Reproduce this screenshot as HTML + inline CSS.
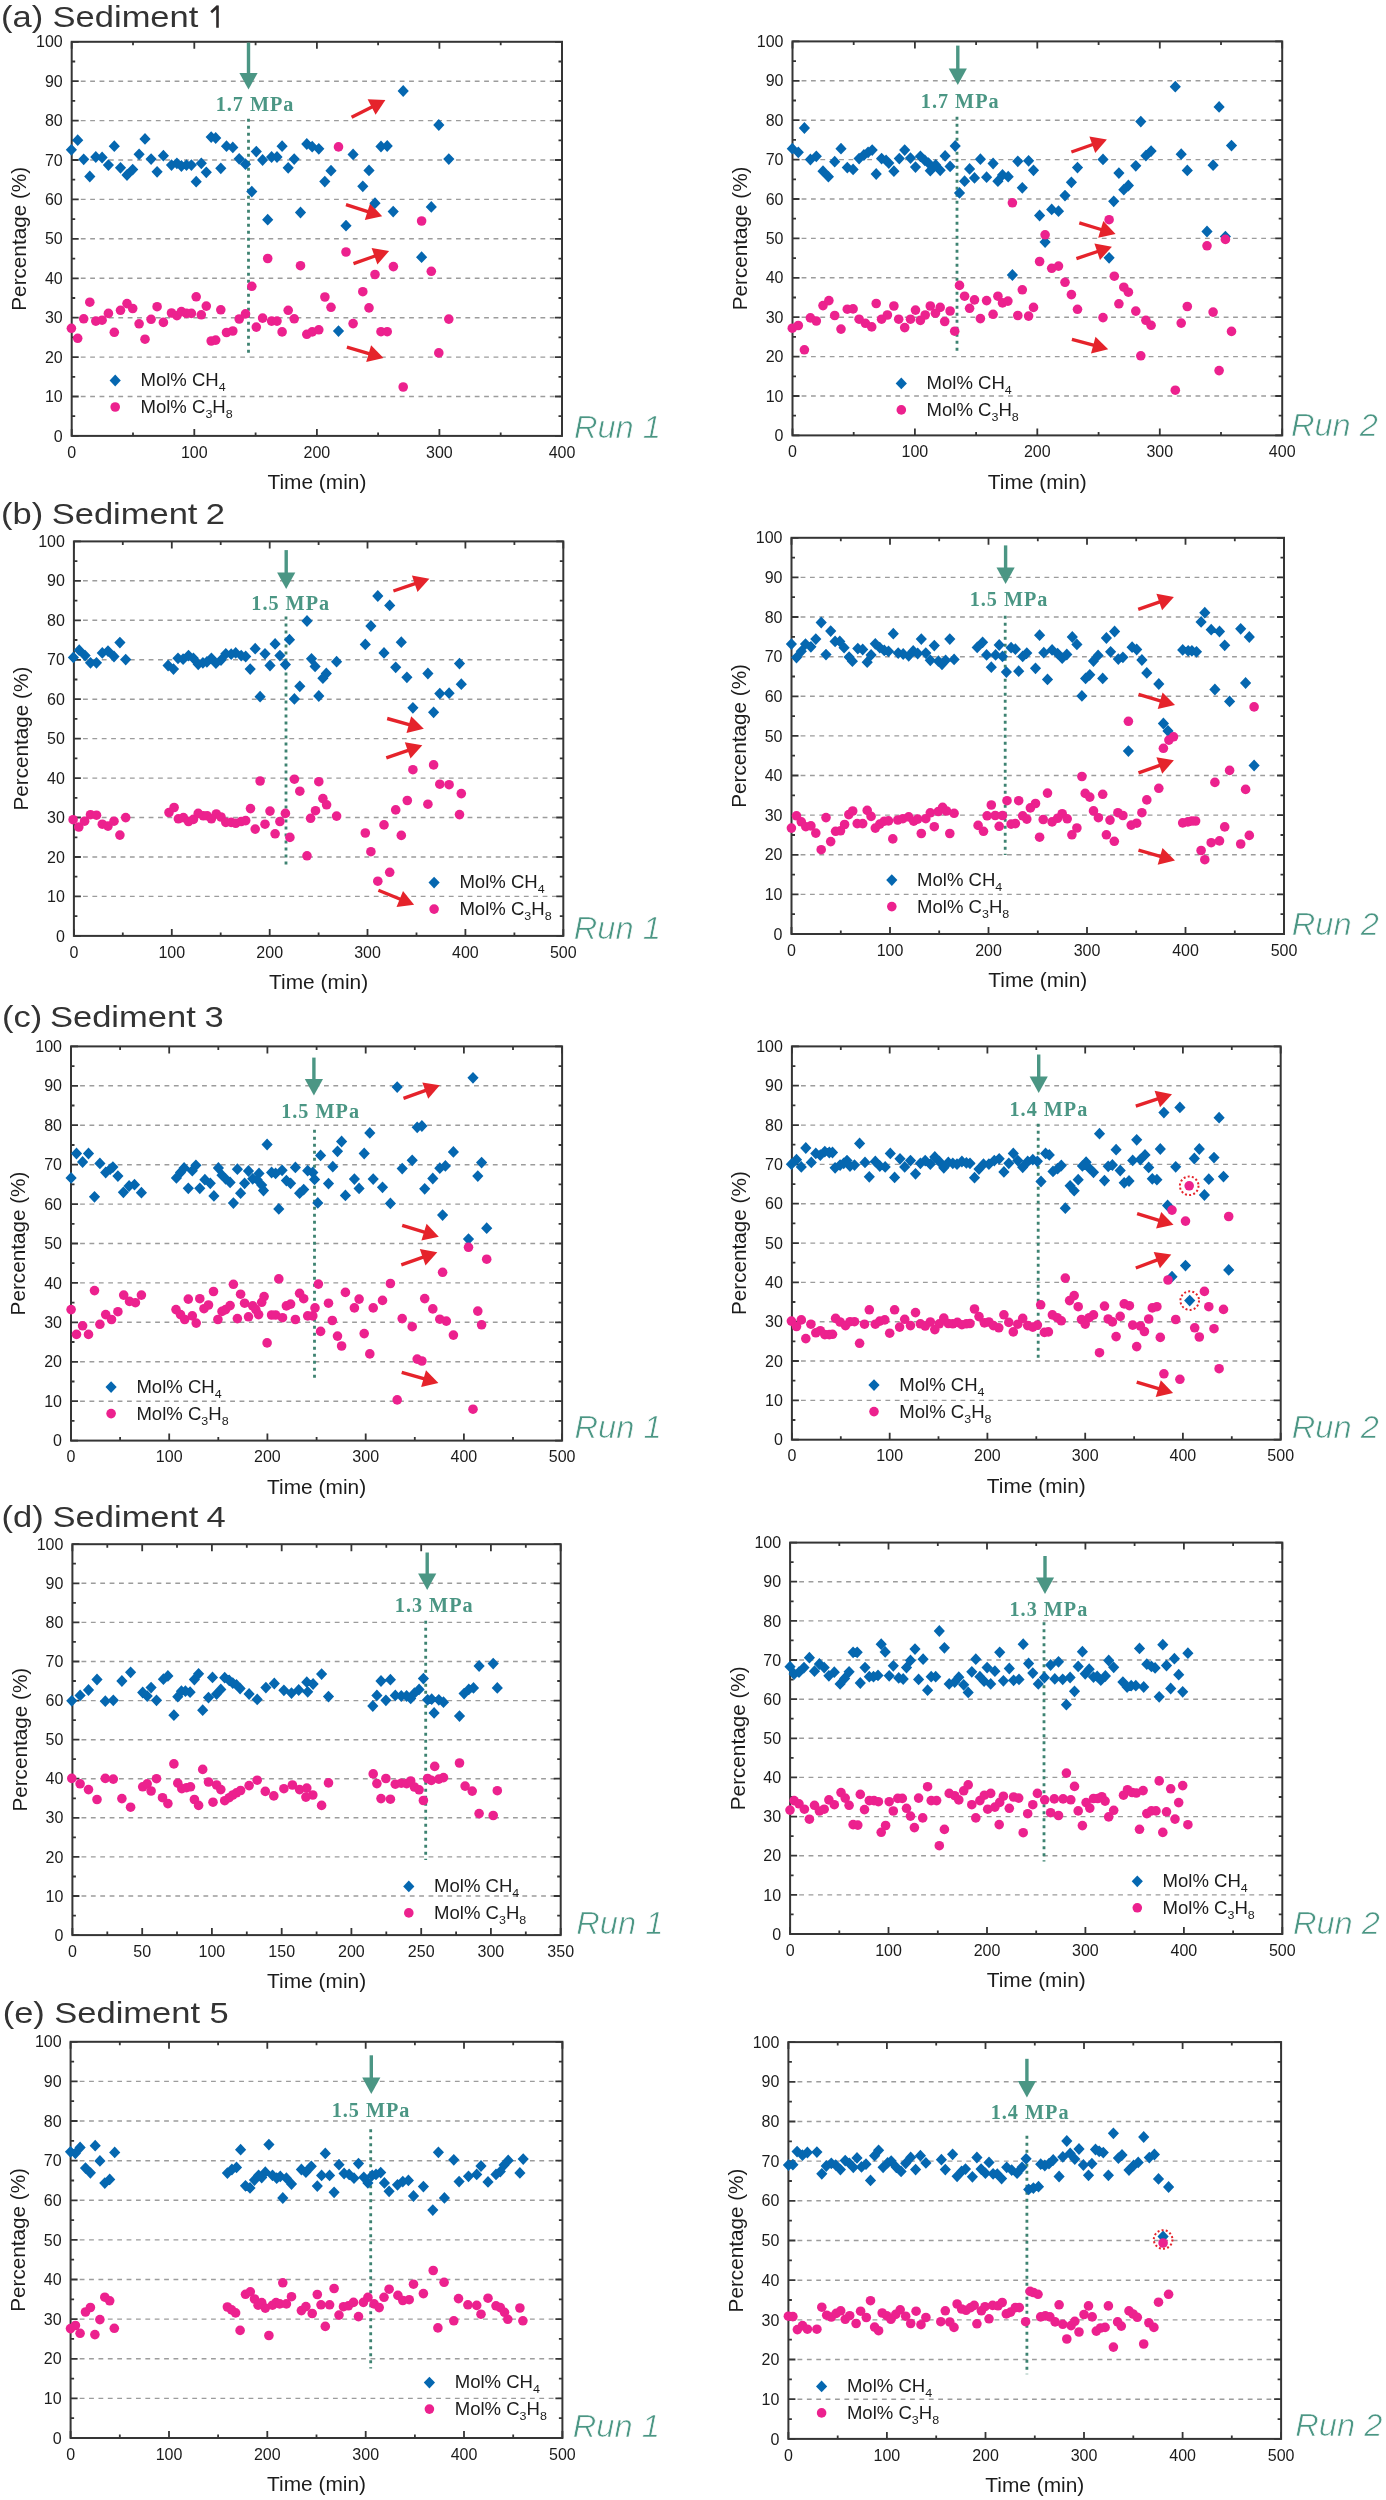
<!DOCTYPE html>
<html><head><meta charset="utf-8"><title>Sediment gas composition</title>
<style>
html,body{margin:0;padding:0;background:#fff;}
body{width:1386px;height:2500px;overflow:hidden;}
svg{display:block;filter:blur(0.45px);}
text{font-family:"Liberation Sans",sans-serif;fill:#1c1c1c;}
.tk{font-size:16px;}
.ax{font-size:20px;}
.lg{font-size:17.5px;}
.sb{font-size:11.8px;}
.run{font-style:italic;font-size:32px;fill:#4b9684;stroke:#fff;stroke-width:0.7px;}
.mpa{font-family:"Liberation Serif",serif;font-weight:bold;font-size:20.2px;fill:#4b9684;letter-spacing:1px;}
.tt{font-size:29px;fill:#333;}
</style></head>
<body><svg width="1386" height="2500" viewBox="0 0 1386 2500">
<rect width="1386" height="2500" fill="#fff"/>
<path d="M80.8 396.5H560M80.8 357.1H560M80.8 317.7H560M80.8 278.3H560M80.8 238.8H560M80.8 199.4H560M80.8 160H560M80.8 120.6H560M80.8 81.2H560" stroke="#9c9c9c" stroke-width="1.4" stroke-dasharray="4.8 4.58" fill="none"/>
<path d="M71.7 435.9h7M562 435.9h-7M71.7 416.2h3.5M562 416.2h-3.5M71.7 396.5h7M562 396.5h-7M71.7 376.8h3.5M562 376.8h-3.5M71.7 357.1h7M562 357.1h-7M71.7 337.4h3.5M562 337.4h-3.5M71.7 317.7h7M562 317.7h-7M71.7 298h3.5M562 298h-3.5M71.7 278.3h7M562 278.3h-7M71.7 258.6h3.5M562 258.6h-3.5M71.7 238.8h7M562 238.8h-7M71.7 219.1h3.5M562 219.1h-3.5M71.7 199.4h7M562 199.4h-7M71.7 179.7h3.5M562 179.7h-3.5M71.7 160h7M562 160h-7M71.7 140.3h3.5M562 140.3h-3.5M71.7 120.6h7M562 120.6h-7M71.7 100.9h3.5M562 100.9h-3.5M71.7 81.2h7M562 81.2h-7M71.7 61.5h3.5M562 61.5h-3.5M71.7 41.8h7M562 41.8h-7M71.7 435.9v-7M71.7 41.8v7M133 435.9v-3.5M133 41.8v3.5M194.3 435.9v-7M194.3 41.8v7M255.6 435.9v-3.5M255.6 41.8v3.5M316.9 435.9v-7M316.9 41.8v7M378.1 435.9v-3.5M378.1 41.8v3.5M439.4 435.9v-7M439.4 41.8v7M500.7 435.9v-3.5M500.7 41.8v3.5M562 435.9v-7M562 41.8v7" stroke="#353535" stroke-width="1.8" fill="none"/>
<rect x="71.7" y="41.8" width="490.3" height="394.1" fill="none" stroke="#353535" stroke-width="2"/>
<text class="tk" text-anchor="end" transform="translate(62.7 441.5)">0</text>
<text class="tk" text-anchor="end" transform="translate(62.7 402.1)">10</text>
<text class="tk" text-anchor="end" transform="translate(62.7 362.7)">20</text>
<text class="tk" text-anchor="end" transform="translate(62.7 323.3)">30</text>
<text class="tk" text-anchor="end" transform="translate(62.7 283.9)">40</text>
<text class="tk" text-anchor="end" transform="translate(62.7 244.4)">50</text>
<text class="tk" text-anchor="end" transform="translate(62.7 205)">60</text>
<text class="tk" text-anchor="end" transform="translate(62.7 165.6)">70</text>
<text class="tk" text-anchor="end" transform="translate(62.7 126.2)">80</text>
<text class="tk" text-anchor="end" transform="translate(62.7 86.8)">90</text>
<text class="tk" text-anchor="end" transform="translate(62.7 47.4)">100</text>
<text class="tk" text-anchor="middle" transform="translate(71.7 457.5)">0</text>
<text class="tk" text-anchor="middle" transform="translate(194.3 457.5)">100</text>
<text class="tk" text-anchor="middle" transform="translate(316.9 457.5)">200</text>
<text class="tk" text-anchor="middle" transform="translate(439.4 457.5)">300</text>
<text class="tk" text-anchor="middle" transform="translate(562 457.5)">400</text>
<text class="ax" text-anchor="middle" transform="translate(26.1 238.8) rotate(-90) scale(1.035 1)">Percentage (%)</text>
<text class="ax" text-anchor="middle" transform="translate(316.9 489) scale(1.045 1)">Time (min)</text>
<text class="run" transform="translate(573.9 437.9) scale(1.020 1)">Run 1</text>
<path d="M248.5 118.8V355" stroke="#3d8271" stroke-width="2.8" stroke-dasharray="3 4" fill="none"/>
<path d="M248.5 42.6V75.4" stroke="#4b9684" stroke-width="3.4" fill="none"/>
<path d="M239.4 72.9L257.6 72.9L248.5 89.4Z" fill="#4b9684"/>
<text class="mpa" text-anchor="middle" transform="translate(255 110.6)">1.7 MPa</text>
<path d="M351.6 117.3L373.4 106.2" stroke="#e5232b" stroke-width="3.4" fill="none"/>
<path d="M385.4 100L375.6 114.8L367.6 99.3Z" fill="#e5232b"/>
<path d="M346 204.7L369.3 212.2" stroke="#e5232b" stroke-width="3.4" fill="none"/>
<path d="M382.2 216.3L364.8 219.9L370.1 203.3Z" fill="#e5232b"/>
<path d="M353.5 263.6L376.4 255.5" stroke="#e5232b" stroke-width="3.4" fill="none"/>
<path d="M389.1 251L377.4 264.4L371.6 248Z" fill="#e5232b"/>
<path d="M346.9 347.1L370.6 354.1" stroke="#e5232b" stroke-width="3.4" fill="none"/>
<path d="M383.5 358L366.2 361.9L371.1 345.2Z" fill="#e5232b"/>
<path d="M71.4 143.9l5.6 5.9l-5.6 5.9l-5.6 -5.9zM77.7 134.3l5.6 5.9l-5.6 5.9l-5.6 -5.9zM83.7 153.4l5.6 5.9l-5.6 5.9l-5.6 -5.9zM89.8 170.6l5.6 5.9l-5.6 5.9l-5.6 -5.9zM95.8 151.1l5.6 5.9l-5.6 5.9l-5.6 -5.9zM102.1 151.6l5.6 5.9l-5.6 5.9l-5.6 -5.9zM108.4 159.2l5.6 5.9l-5.6 5.9l-5.6 -5.9zM114.3 140.3l5.6 5.9l-5.6 5.9l-5.6 -5.9zM120.5 161.9l5.6 5.9l-5.6 5.9l-5.6 -5.9zM127 169.1l5.6 5.9l-5.6 5.9l-5.6 -5.9zM132.7 163.7l5.6 5.9l-5.6 5.9l-5.6 -5.9zM139.1 148.4l5.6 5.9l-5.6 5.9l-5.6 -5.9zM145 133l5.6 5.9l-5.6 5.9l-5.6 -5.9zM151.1 153.2l5.6 5.9l-5.6 5.9l-5.6 -5.9zM157.1 165.9l5.6 5.9l-5.6 5.9l-5.6 -5.9zM163.4 149.8l5.6 5.9l-5.6 5.9l-5.6 -5.9zM171.5 159.2l5.6 5.9l-5.6 5.9l-5.6 -5.9zM176.9 157.4l5.6 5.9l-5.6 5.9l-5.6 -5.9zM181.4 160.1l5.6 5.9l-5.6 5.9l-5.6 -5.9zM186.5 159.2l5.6 5.9l-5.6 5.9l-5.6 -5.9zM191.4 159.2l5.6 5.9l-5.6 5.9l-5.6 -5.9zM196.2 175.8l5.6 5.9l-5.6 5.9l-5.6 -5.9zM201.3 157.4l5.6 5.9l-5.6 5.9l-5.6 -5.9zM206.3 166.4l5.6 5.9l-5.6 5.9l-5.6 -5.9zM211.2 131.2l5.6 5.9l-5.6 5.9l-5.6 -5.9zM215.7 132.1l5.6 5.9l-5.6 5.9l-5.6 -5.9zM220.8 162.4l5.6 5.9l-5.6 5.9l-5.6 -5.9zM226.5 140.3l5.6 5.9l-5.6 5.9l-5.6 -5.9zM232.8 141.5l5.6 5.9l-5.6 5.9l-5.6 -5.9zM239.2 152.9l5.6 5.9l-5.6 5.9l-5.6 -5.9zM245.5 158.3l5.6 5.9l-5.6 5.9l-5.6 -5.9zM251.8 185.7l5.6 5.9l-5.6 5.9l-5.6 -5.9zM256.3 145.7l5.6 5.9l-5.6 5.9l-5.6 -5.9zM262.6 154.1l5.6 5.9l-5.6 5.9l-5.6 -5.9zM271.6 151.1l5.6 5.9l-5.6 5.9l-5.6 -5.9zM277 151.1l5.6 5.9l-5.6 5.9l-5.6 -5.9zM282.1 140.3l5.6 5.9l-5.6 5.9l-5.6 -5.9zM288.2 161.9l5.6 5.9l-5.6 5.9l-5.6 -5.9zM294.2 153.2l5.6 5.9l-5.6 5.9l-5.6 -5.9zM267.7 213.8l5.6 5.9l-5.6 5.9l-5.6 -5.9zM300.5 206.6l5.6 5.9l-5.6 5.9l-5.6 -5.9zM306.8 138.1l5.6 5.9l-5.6 5.9l-5.6 -5.9zM312.2 140.8l5.6 5.9l-5.6 5.9l-5.6 -5.9zM318.8 142.9l5.6 5.9l-5.6 5.9l-5.6 -5.9zM331 164.8l5.6 5.9l-5.6 5.9l-5.6 -5.9zM324.8 175.7l5.6 5.9l-5.6 5.9l-5.6 -5.9zM353.1 148.5l5.6 5.9l-5.6 5.9l-5.6 -5.9zM369 164.5l5.6 5.9l-5.6 5.9l-5.6 -5.9zM362.8 180.4l5.6 5.9l-5.6 5.9l-5.6 -5.9zM381 140.6l5.6 5.9l-5.6 5.9l-5.6 -5.9zM387.2 140.1l5.6 5.9l-5.6 5.9l-5.6 -5.9zM375 197.3l5.6 5.9l-5.6 5.9l-5.6 -5.9zM393.2 205.7l5.6 5.9l-5.6 5.9l-5.6 -5.9zM346 219.8l5.6 5.9l-5.6 5.9l-5.6 -5.9zM403.2 85.1l5.6 5.9l-5.6 5.9l-5.6 -5.9zM438.8 119.1l5.6 5.9l-5.6 5.9l-5.6 -5.9zM448.8 153.2l5.6 5.9l-5.6 5.9l-5.6 -5.9zM431.3 201l5.6 5.9l-5.6 5.9l-5.6 -5.9zM421.6 251.3l5.6 5.9l-5.6 5.9l-5.6 -5.9zM338.5 325.2l5.6 5.9l-5.6 5.9l-5.6 -5.9z" fill="#0567b0"/>
<circle cx="71.4" cy="328.3" r="4.8" fill="#ec218e"/>
<circle cx="77.7" cy="338.3" r="4.8" fill="#ec218e"/>
<circle cx="83.7" cy="318.8" r="4.8" fill="#ec218e"/>
<circle cx="89.8" cy="302.2" r="4.8" fill="#ec218e"/>
<circle cx="95.8" cy="321.1" r="4.8" fill="#ec218e"/>
<circle cx="102.1" cy="320.2" r="4.8" fill="#ec218e"/>
<circle cx="108.4" cy="313.4" r="4.8" fill="#ec218e"/>
<circle cx="114.3" cy="332.3" r="4.8" fill="#ec218e"/>
<circle cx="120.5" cy="310.3" r="4.8" fill="#ec218e"/>
<circle cx="127" cy="303.6" r="4.8" fill="#ec218e"/>
<circle cx="132.7" cy="308.5" r="4.8" fill="#ec218e"/>
<circle cx="139.1" cy="323.8" r="4.8" fill="#ec218e"/>
<circle cx="145" cy="339.2" r="4.8" fill="#ec218e"/>
<circle cx="151.1" cy="319.3" r="4.8" fill="#ec218e"/>
<circle cx="157.1" cy="306.7" r="4.8" fill="#ec218e"/>
<circle cx="163.4" cy="322.4" r="4.8" fill="#ec218e"/>
<circle cx="171.5" cy="313" r="4.8" fill="#ec218e"/>
<circle cx="176.9" cy="315.7" r="4.8" fill="#ec218e"/>
<circle cx="181.4" cy="311.6" r="4.8" fill="#ec218e"/>
<circle cx="186.5" cy="313.4" r="4.8" fill="#ec218e"/>
<circle cx="191.4" cy="313.4" r="4.8" fill="#ec218e"/>
<circle cx="196.2" cy="296.8" r="4.8" fill="#ec218e"/>
<circle cx="201.3" cy="314.8" r="4.8" fill="#ec218e"/>
<circle cx="206.3" cy="306.1" r="4.8" fill="#ec218e"/>
<circle cx="211.2" cy="341" r="4.8" fill="#ec218e"/>
<circle cx="215.7" cy="340.1" r="4.8" fill="#ec218e"/>
<circle cx="220.8" cy="309.8" r="4.8" fill="#ec218e"/>
<circle cx="226.5" cy="332.5" r="4.8" fill="#ec218e"/>
<circle cx="232.8" cy="331" r="4.8" fill="#ec218e"/>
<circle cx="239.2" cy="319" r="4.8" fill="#ec218e"/>
<circle cx="245.5" cy="313.9" r="4.8" fill="#ec218e"/>
<circle cx="251.8" cy="286.3" r="4.8" fill="#ec218e"/>
<circle cx="256.3" cy="327.1" r="4.8" fill="#ec218e"/>
<circle cx="262.6" cy="318.1" r="4.8" fill="#ec218e"/>
<circle cx="271.6" cy="321.1" r="4.8" fill="#ec218e"/>
<circle cx="277" cy="321.1" r="4.8" fill="#ec218e"/>
<circle cx="282.1" cy="331.9" r="4.8" fill="#ec218e"/>
<circle cx="288.2" cy="310.3" r="4.8" fill="#ec218e"/>
<circle cx="294.2" cy="318.8" r="4.8" fill="#ec218e"/>
<circle cx="267.7" cy="258.5" r="4.8" fill="#ec218e"/>
<circle cx="300.5" cy="265.7" r="4.8" fill="#ec218e"/>
<circle cx="306.8" cy="334.3" r="4.8" fill="#ec218e"/>
<circle cx="312.2" cy="331.9" r="4.8" fill="#ec218e"/>
<circle cx="318.8" cy="329.8" r="4.8" fill="#ec218e"/>
<circle cx="338.5" cy="146.9" r="4.8" fill="#ec218e"/>
<circle cx="346" cy="252" r="4.8" fill="#ec218e"/>
<circle cx="324.9" cy="297" r="4.8" fill="#ec218e"/>
<circle cx="331" cy="307.3" r="4.8" fill="#ec218e"/>
<circle cx="353.1" cy="323.6" r="4.8" fill="#ec218e"/>
<circle cx="362.8" cy="291.7" r="4.8" fill="#ec218e"/>
<circle cx="369" cy="307.9" r="4.8" fill="#ec218e"/>
<circle cx="375" cy="274.5" r="4.8" fill="#ec218e"/>
<circle cx="381" cy="331.7" r="4.8" fill="#ec218e"/>
<circle cx="387.2" cy="331.7" r="4.8" fill="#ec218e"/>
<circle cx="393.4" cy="266.6" r="4.8" fill="#ec218e"/>
<circle cx="421.6" cy="221" r="4.8" fill="#ec218e"/>
<circle cx="431.3" cy="271.3" r="4.8" fill="#ec218e"/>
<circle cx="438.8" cy="352.9" r="4.8" fill="#ec218e"/>
<circle cx="448.8" cy="319.1" r="4.8" fill="#ec218e"/>
<circle cx="403.2" cy="387" r="4.8" fill="#ec218e"/>
<path d="M115.2 374.6l5.6 5.9l-5.6 5.9l-5.6 -5.9z" fill="#0567b0"/>
<circle cx="115.2" cy="407" r="4.8" fill="#ec218e"/>
<text class="lg" transform="translate(140.5 385.9) scale(1.060 1)">Mol% CH<tspan class="sb" dy="5.4">4</tspan></text>
<text class="lg" transform="translate(140.5 413.1) scale(1.060 1)">Mol% C<tspan class="sb" dy="5">3</tspan><tspan dy="-5">H</tspan><tspan class="sb" dy="5">8</tspan></text>
<text class="tt" transform="translate(1 27.2) scale(1.190 1)">(a)</text>
<text class="tt" transform="translate(52.6 27.2) scale(1.190 1)">Sediment</text>
<path d="M217.5 5.6V27.7M217.9 6L211.2 12.3" stroke="#2e2a2a" stroke-width="2.6" stroke-linecap="butt" fill="none"/>
<path d="M801.6 396H1280.2M801.6 356.6H1280.2M801.6 317.2H1280.2M801.6 277.8H1280.2M801.6 238.4H1280.2M801.6 199H1280.2M801.6 159.6H1280.2M801.6 120.2H1280.2M801.6 80.8H1280.2" stroke="#9c9c9c" stroke-width="1.4" stroke-dasharray="4.8 4.58" fill="none"/>
<path d="M792.5 435.4h7M1282.2 435.4h-7M792.5 415.7h3.5M1282.2 415.7h-3.5M792.5 396h7M1282.2 396h-7M792.5 376.3h3.5M1282.2 376.3h-3.5M792.5 356.6h7M1282.2 356.6h-7M792.5 336.9h3.5M1282.2 336.9h-3.5M792.5 317.2h7M1282.2 317.2h-7M792.5 297.5h3.5M1282.2 297.5h-3.5M792.5 277.8h7M1282.2 277.8h-7M792.5 258.1h3.5M1282.2 258.1h-3.5M792.5 238.4h7M1282.2 238.4h-7M792.5 218.7h3.5M1282.2 218.7h-3.5M792.5 199h7M1282.2 199h-7M792.5 179.3h3.5M1282.2 179.3h-3.5M792.5 159.6h7M1282.2 159.6h-7M792.5 139.9h3.5M1282.2 139.9h-3.5M792.5 120.2h7M1282.2 120.2h-7M792.5 100.5h3.5M1282.2 100.5h-3.5M792.5 80.8h7M1282.2 80.8h-7M792.5 61.1h3.5M1282.2 61.1h-3.5M792.5 41.4h7M1282.2 41.4h-7M792.5 435.4v-7M792.5 41.4v7M853.7 435.4v-3.5M853.7 41.4v3.5M914.9 435.4v-7M914.9 41.4v7M976.1 435.4v-3.5M976.1 41.4v3.5M1037.3 435.4v-7M1037.3 41.4v7M1098.6 435.4v-3.5M1098.6 41.4v3.5M1159.8 435.4v-7M1159.8 41.4v7M1221 435.4v-3.5M1221 41.4v3.5M1282.2 435.4v-7M1282.2 41.4v7" stroke="#353535" stroke-width="1.8" fill="none"/>
<rect x="792.5" y="41.4" width="489.7" height="394" fill="none" stroke="#353535" stroke-width="2"/>
<text class="tk" text-anchor="end" transform="translate(783.5 441)">0</text>
<text class="tk" text-anchor="end" transform="translate(783.5 401.6)">10</text>
<text class="tk" text-anchor="end" transform="translate(783.5 362.2)">20</text>
<text class="tk" text-anchor="end" transform="translate(783.5 322.8)">30</text>
<text class="tk" text-anchor="end" transform="translate(783.5 283.4)">40</text>
<text class="tk" text-anchor="end" transform="translate(783.5 244)">50</text>
<text class="tk" text-anchor="end" transform="translate(783.5 204.6)">60</text>
<text class="tk" text-anchor="end" transform="translate(783.5 165.2)">70</text>
<text class="tk" text-anchor="end" transform="translate(783.5 125.8)">80</text>
<text class="tk" text-anchor="end" transform="translate(783.5 86.4)">90</text>
<text class="tk" text-anchor="end" transform="translate(783.5 47)">100</text>
<text class="tk" text-anchor="middle" transform="translate(792.5 457)">0</text>
<text class="tk" text-anchor="middle" transform="translate(914.9 457)">100</text>
<text class="tk" text-anchor="middle" transform="translate(1037.3 457)">200</text>
<text class="tk" text-anchor="middle" transform="translate(1159.8 457)">300</text>
<text class="tk" text-anchor="middle" transform="translate(1282.2 457)">400</text>
<text class="ax" text-anchor="middle" transform="translate(746.9 238.4) rotate(-90) scale(1.035 1)">Percentage (%)</text>
<text class="ax" text-anchor="middle" transform="translate(1037.3 488.5) scale(1.045 1)">Time (min)</text>
<text class="run" transform="translate(1290.9 436) scale(1.020 1)">Run 2</text>
<path d="M957 116.8V353" stroke="#3d8271" stroke-width="2.8" stroke-dasharray="3 4" fill="none"/>
<path d="M957.8 45.6V71" stroke="#4b9684" stroke-width="3.4" fill="none"/>
<path d="M948.7 68.5L966.9 68.5L957.8 85Z" fill="#4b9684"/>
<text class="mpa" text-anchor="middle" transform="translate(960.2 108)">1.7 MPa</text>
<path d="M1071.4 152L1094.2 144" stroke="#e5232b" stroke-width="3.4" fill="none"/>
<path d="M1106.9 139.5L1095.2 152.9L1089.4 136.4Z" fill="#e5232b"/>
<path d="M1079.3 222.8L1102.7 230" stroke="#e5232b" stroke-width="3.4" fill="none"/>
<path d="M1115.6 233.9L1098.2 237.7L1103.3 221Z" fill="#e5232b"/>
<path d="M1076.4 258.7L1099.1 251" stroke="#e5232b" stroke-width="3.4" fill="none"/>
<path d="M1111.9 246.7L1100 259.9L1094.4 243.4Z" fill="#e5232b"/>
<path d="M1071.9 339.3L1095.2 345.6" stroke="#e5232b" stroke-width="3.4" fill="none"/>
<path d="M1108.2 349.2L1091 353.5L1095.5 336.7Z" fill="#e5232b"/>
<path d="M792.3 142.8l5.6 5.9l-5.6 5.9l-5.6 -5.9zM798.3 146.4l5.6 5.9l-5.6 5.9l-5.6 -5.9zM804.4 122.1l5.6 5.9l-5.6 5.9l-5.6 -5.9zM810.4 153.6l5.6 5.9l-5.6 5.9l-5.6 -5.9zM816.3 150.4l5.6 5.9l-5.6 5.9l-5.6 -5.9zM823 165.3l5.6 5.9l-5.6 5.9l-5.6 -5.9zM828.4 170.8l5.6 5.9l-5.6 5.9l-5.6 -5.9zM834.7 155.8l5.6 5.9l-5.6 5.9l-5.6 -5.9zM841 142.8l5.6 5.9l-5.6 5.9l-5.6 -5.9zM847.3 161.7l5.6 5.9l-5.6 5.9l-5.6 -5.9zM853.1 163.5l5.6 5.9l-5.6 5.9l-5.6 -5.9zM859.1 152.7l5.6 5.9l-5.6 5.9l-5.6 -5.9zM863.9 149.1l5.6 5.9l-5.6 5.9l-5.6 -5.9zM868.1 146.4l5.6 5.9l-5.6 5.9l-5.6 -5.9zM872.2 144.2l5.6 5.9l-5.6 5.9l-5.6 -5.9zM876.2 168.1l5.6 5.9l-5.6 5.9l-5.6 -5.9zM881.6 152.7l5.6 5.9l-5.6 5.9l-5.6 -5.9zM886.1 154.5l5.6 5.9l-5.6 5.9l-5.6 -5.9zM888.8 157.2l5.6 5.9l-5.6 5.9l-5.6 -5.9zM893.9 165.3l5.6 5.9l-5.6 5.9l-5.6 -5.9zM899.3 152.7l5.6 5.9l-5.6 5.9l-5.6 -5.9zM904.7 144.2l5.6 5.9l-5.6 5.9l-5.6 -5.9zM910.5 152.2l5.6 5.9l-5.6 5.9l-5.6 -5.9zM915.5 161.2l5.6 5.9l-5.6 5.9l-5.6 -5.9zM920.4 150.4l5.6 5.9l-5.6 5.9l-5.6 -5.9zM924.9 154.5l5.6 5.9l-5.6 5.9l-5.6 -5.9zM928.5 157.2l5.6 5.9l-5.6 5.9l-5.6 -5.9zM930.3 164.8l5.6 5.9l-5.6 5.9l-5.6 -5.9zM935.7 159l5.6 5.9l-5.6 5.9l-5.6 -5.9zM940.2 164.4l5.6 5.9l-5.6 5.9l-5.6 -5.9zM945.1 150l5.6 5.9l-5.6 5.9l-5.6 -5.9zM950.1 160.5l5.6 5.9l-5.6 5.9l-5.6 -5.9zM955.2 140.1l5.6 5.9l-5.6 5.9l-5.6 -5.9zM959.5 187l5.6 5.9l-5.6 5.9l-5.6 -5.9zM964.6 175.3l5.6 5.9l-5.6 5.9l-5.6 -5.9zM969.6 163l5.6 5.9l-5.6 5.9l-5.6 -5.9zM974.5 172l5.6 5.9l-5.6 5.9l-5.6 -5.9zM980.4 153.3l5.6 5.9l-5.6 5.9l-5.6 -5.9zM986.6 171.3l5.6 5.9l-5.6 5.9l-5.6 -5.9zM993.1 157.6l5.6 5.9l-5.6 5.9l-5.6 -5.9zM997.9 175.3l5.6 5.9l-5.6 5.9l-5.6 -5.9zM1002.5 169l5.6 5.9l-5.6 5.9l-5.6 -5.9zM1008.2 170.8l5.6 5.9l-5.6 5.9l-5.6 -5.9zM1012.4 269.1l5.6 5.9l-5.6 5.9l-5.6 -5.9zM1017.8 155.4l5.6 5.9l-5.6 5.9l-5.6 -5.9zM1022.3 181.9l5.6 5.9l-5.6 5.9l-5.6 -5.9zM1028.6 154.9l5.6 5.9l-5.6 5.9l-5.6 -5.9zM1033.5 164.4l5.6 5.9l-5.6 5.9l-5.6 -5.9zM1039.6 209.6l5.6 5.9l-5.6 5.9l-5.6 -5.9zM1051.7 203.5l5.6 5.9l-5.6 5.9l-5.6 -5.9zM1058.5 205.3l5.6 5.9l-5.6 5.9l-5.6 -5.9zM1065 189.7l5.6 5.9l-5.6 5.9l-5.6 -5.9zM1071.4 176.4l5.6 5.9l-5.6 5.9l-5.6 -5.9zM1077.5 161.7l5.6 5.9l-5.6 5.9l-5.6 -5.9zM1045.1 236.2l5.6 5.9l-5.6 5.9l-5.6 -5.9zM1103 153.5l5.6 5.9l-5.6 5.9l-5.6 -5.9zM1109.1 251.9l5.6 5.9l-5.6 5.9l-5.6 -5.9zM1113.7 195.4l5.6 5.9l-5.6 5.9l-5.6 -5.9zM1118.9 167.2l5.6 5.9l-5.6 5.9l-5.6 -5.9zM1123.8 183.8l5.6 5.9l-5.6 5.9l-5.6 -5.9zM1128.4 179.6l5.6 5.9l-5.6 5.9l-5.6 -5.9zM1135.8 159.9l5.6 5.9l-5.6 5.9l-5.6 -5.9zM1140.8 115.7l5.6 5.9l-5.6 5.9l-5.6 -5.9zM1145.9 149.8l5.6 5.9l-5.6 5.9l-5.6 -5.9zM1151.1 145.2l5.6 5.9l-5.6 5.9l-5.6 -5.9zM1175.3 80.8l5.6 5.9l-5.6 5.9l-5.6 -5.9zM1181.2 148.3l5.6 5.9l-5.6 5.9l-5.6 -5.9zM1187.3 164.5l5.6 5.9l-5.6 5.9l-5.6 -5.9zM1207 225.6l5.6 5.9l-5.6 5.9l-5.6 -5.9zM1213.1 159.3l5.6 5.9l-5.6 5.9l-5.6 -5.9zM1219.1 101l5.6 5.9l-5.6 5.9l-5.6 -5.9zM1225.4 230.7l5.6 5.9l-5.6 5.9l-5.6 -5.9zM1231.5 139.7l5.6 5.9l-5.6 5.9l-5.6 -5.9z" fill="#0567b0"/>
<circle cx="792.3" cy="328.2" r="4.8" fill="#ec218e"/>
<circle cx="798.3" cy="325.5" r="4.8" fill="#ec218e"/>
<circle cx="804.4" cy="349.8" r="4.8" fill="#ec218e"/>
<circle cx="810.4" cy="317.9" r="4.8" fill="#ec218e"/>
<circle cx="816.3" cy="321" r="4.8" fill="#ec218e"/>
<circle cx="823" cy="305.6" r="4.8" fill="#ec218e"/>
<circle cx="828.9" cy="300.6" r="4.8" fill="#ec218e"/>
<circle cx="834.7" cy="315.5" r="4.8" fill="#ec218e"/>
<circle cx="841" cy="329.1" r="4.8" fill="#ec218e"/>
<circle cx="847.3" cy="309.2" r="4.8" fill="#ec218e"/>
<circle cx="853.1" cy="308.9" r="4.8" fill="#ec218e"/>
<circle cx="859.1" cy="319.2" r="4.8" fill="#ec218e"/>
<circle cx="865.4" cy="323.3" r="4.8" fill="#ec218e"/>
<circle cx="871.7" cy="326.9" r="4.8" fill="#ec218e"/>
<circle cx="876.2" cy="303.5" r="4.8" fill="#ec218e"/>
<circle cx="881.6" cy="319.2" r="4.8" fill="#ec218e"/>
<circle cx="887.4" cy="315" r="4.8" fill="#ec218e"/>
<circle cx="893.9" cy="306" r="4.8" fill="#ec218e"/>
<circle cx="898.7" cy="319.2" r="4.8" fill="#ec218e"/>
<circle cx="904.7" cy="327.6" r="4.8" fill="#ec218e"/>
<circle cx="910.5" cy="319.2" r="4.8" fill="#ec218e"/>
<circle cx="915.5" cy="310.1" r="4.8" fill="#ec218e"/>
<circle cx="920.4" cy="320.4" r="4.8" fill="#ec218e"/>
<circle cx="925.2" cy="315" r="4.8" fill="#ec218e"/>
<circle cx="930.3" cy="306" r="4.8" fill="#ec218e"/>
<circle cx="935.4" cy="313.2" r="4.8" fill="#ec218e"/>
<circle cx="940.2" cy="307.4" r="4.8" fill="#ec218e"/>
<circle cx="944.7" cy="321.5" r="4.8" fill="#ec218e"/>
<circle cx="950.1" cy="311" r="4.8" fill="#ec218e"/>
<circle cx="954.7" cy="331.2" r="4.8" fill="#ec218e"/>
<circle cx="959.5" cy="285.4" r="4.8" fill="#ec218e"/>
<circle cx="964.6" cy="296.2" r="4.8" fill="#ec218e"/>
<circle cx="969.6" cy="308.3" r="4.8" fill="#ec218e"/>
<circle cx="974.5" cy="299.9" r="4.8" fill="#ec218e"/>
<circle cx="980.4" cy="318.6" r="4.8" fill="#ec218e"/>
<circle cx="986.6" cy="300.6" r="4.8" fill="#ec218e"/>
<circle cx="993.1" cy="314.3" r="4.8" fill="#ec218e"/>
<circle cx="997.9" cy="296.2" r="4.8" fill="#ec218e"/>
<circle cx="1002.5" cy="302.9" r="4.8" fill="#ec218e"/>
<circle cx="1007.9" cy="301.1" r="4.8" fill="#ec218e"/>
<circle cx="1012.4" cy="202.8" r="4.8" fill="#ec218e"/>
<circle cx="1017.8" cy="315.5" r="4.8" fill="#ec218e"/>
<circle cx="1022.3" cy="289.8" r="4.8" fill="#ec218e"/>
<circle cx="1028.6" cy="316.1" r="4.8" fill="#ec218e"/>
<circle cx="1033.5" cy="307.4" r="4.8" fill="#ec218e"/>
<circle cx="1039.6" cy="261.5" r="4.8" fill="#ec218e"/>
<circle cx="1045.1" cy="234.8" r="4.8" fill="#ec218e"/>
<circle cx="1051.7" cy="268.3" r="4.8" fill="#ec218e"/>
<circle cx="1058.5" cy="266.1" r="4.8" fill="#ec218e"/>
<circle cx="1065" cy="282.3" r="4.8" fill="#ec218e"/>
<circle cx="1071.4" cy="294.6" r="4.8" fill="#ec218e"/>
<circle cx="1077.5" cy="309.3" r="4.8" fill="#ec218e"/>
<circle cx="1103" cy="317.6" r="4.8" fill="#ec218e"/>
<circle cx="1109.1" cy="219.7" r="4.8" fill="#ec218e"/>
<circle cx="1114.3" cy="276.2" r="4.8" fill="#ec218e"/>
<circle cx="1118.9" cy="303.8" r="4.8" fill="#ec218e"/>
<circle cx="1123.8" cy="287.2" r="4.8" fill="#ec218e"/>
<circle cx="1128.4" cy="292.2" r="4.8" fill="#ec218e"/>
<circle cx="1135.8" cy="311.1" r="4.8" fill="#ec218e"/>
<circle cx="1140.8" cy="355.8" r="4.8" fill="#ec218e"/>
<circle cx="1145.9" cy="320.3" r="4.8" fill="#ec218e"/>
<circle cx="1151.1" cy="325.3" r="4.8" fill="#ec218e"/>
<circle cx="1175.3" cy="390.2" r="4.8" fill="#ec218e"/>
<circle cx="1181.2" cy="323.1" r="4.8" fill="#ec218e"/>
<circle cx="1187.3" cy="306.5" r="4.8" fill="#ec218e"/>
<circle cx="1207" cy="245.8" r="4.8" fill="#ec218e"/>
<circle cx="1213.1" cy="312.1" r="4.8" fill="#ec218e"/>
<circle cx="1219.1" cy="370.6" r="4.8" fill="#ec218e"/>
<circle cx="1225.4" cy="239.4" r="4.8" fill="#ec218e"/>
<circle cx="1231.5" cy="331.4" r="4.8" fill="#ec218e"/>
<path d="M901.3 377.5l5.6 5.9l-5.6 5.9l-5.6 -5.9z" fill="#0567b0"/>
<circle cx="901.3" cy="409.9" r="4.8" fill="#ec218e"/>
<text class="lg" transform="translate(926.6 388.8) scale(1.060 1)">Mol% CH<tspan class="sb" dy="5.4">4</tspan></text>
<text class="lg" transform="translate(926.6 416) scale(1.060 1)">Mol% C<tspan class="sb" dy="5">3</tspan><tspan dy="-5">H</tspan><tspan class="sb" dy="5">8</tspan></text>
<path d="M83 896.4H561.3M83 857H561.3M83 817.5H561.3M83 778.1H561.3M83 738.6H561.3M83 699.2H561.3M83 659.8H561.3M83 620.3H561.3M83 580.8H561.3" stroke="#9c9c9c" stroke-width="1.4" stroke-dasharray="4.8 4.58" fill="none"/>
<path d="M73.9 935.9h7M563.3 935.9h-7M73.9 916.2h3.5M563.3 916.2h-3.5M73.9 896.4h7M563.3 896.4h-7M73.9 876.7h3.5M563.3 876.7h-3.5M73.9 857h7M563.3 857h-7M73.9 837.3h3.5M563.3 837.3h-3.5M73.9 817.5h7M563.3 817.5h-7M73.9 797.8h3.5M563.3 797.8h-3.5M73.9 778.1h7M563.3 778.1h-7M73.9 758.4h3.5M563.3 758.4h-3.5M73.9 738.6h7M563.3 738.6h-7M73.9 718.9h3.5M563.3 718.9h-3.5M73.9 699.2h7M563.3 699.2h-7M73.9 679.5h3.5M563.3 679.5h-3.5M73.9 659.8h7M563.3 659.8h-7M73.9 640h3.5M563.3 640h-3.5M73.9 620.3h7M563.3 620.3h-7M73.9 600.6h3.5M563.3 600.6h-3.5M73.9 580.8h7M563.3 580.8h-7M73.9 561.1h3.5M563.3 561.1h-3.5M73.9 541.4h7M563.3 541.4h-7M73.9 935.9v-7M73.9 541.4v7M122.8 935.9v-3.5M122.8 541.4v3.5M171.8 935.9v-7M171.8 541.4v7M220.7 935.9v-3.5M220.7 541.4v3.5M269.7 935.9v-7M269.7 541.4v7M318.6 935.9v-3.5M318.6 541.4v3.5M367.5 935.9v-7M367.5 541.4v7M416.5 935.9v-3.5M416.5 541.4v3.5M465.4 935.9v-7M465.4 541.4v7M514.4 935.9v-3.5M514.4 541.4v3.5M563.3 935.9v-7M563.3 541.4v7" stroke="#353535" stroke-width="1.8" fill="none"/>
<rect x="73.9" y="541.4" width="489.4" height="394.5" fill="none" stroke="#353535" stroke-width="2"/>
<text class="tk" text-anchor="end" transform="translate(64.9 941.5)">0</text>
<text class="tk" text-anchor="end" transform="translate(64.9 902)">10</text>
<text class="tk" text-anchor="end" transform="translate(64.9 862.6)">20</text>
<text class="tk" text-anchor="end" transform="translate(64.9 823.1)">30</text>
<text class="tk" text-anchor="end" transform="translate(64.9 783.7)">40</text>
<text class="tk" text-anchor="end" transform="translate(64.9 744.2)">50</text>
<text class="tk" text-anchor="end" transform="translate(64.9 704.8)">60</text>
<text class="tk" text-anchor="end" transform="translate(64.9 665.4)">70</text>
<text class="tk" text-anchor="end" transform="translate(64.9 625.9)">80</text>
<text class="tk" text-anchor="end" transform="translate(64.9 586.4)">90</text>
<text class="tk" text-anchor="end" transform="translate(64.9 547)">100</text>
<text class="tk" text-anchor="middle" transform="translate(73.9 957.5)">0</text>
<text class="tk" text-anchor="middle" transform="translate(171.8 957.5)">100</text>
<text class="tk" text-anchor="middle" transform="translate(269.7 957.5)">200</text>
<text class="tk" text-anchor="middle" transform="translate(367.5 957.5)">300</text>
<text class="tk" text-anchor="middle" transform="translate(465.4 957.5)">400</text>
<text class="tk" text-anchor="middle" transform="translate(563.3 957.5)">500</text>
<text class="ax" text-anchor="middle" transform="translate(28.3 738.6) rotate(-90) scale(1.035 1)">Percentage (%)</text>
<text class="ax" text-anchor="middle" transform="translate(318.6 989) scale(1.045 1)">Time (min)</text>
<text class="run" transform="translate(573.8 938.6) scale(1.020 1)">Run 1</text>
<path d="M286 616.4V865" stroke="#3d8271" stroke-width="2.8" stroke-dasharray="3 4" fill="none"/>
<path d="M286.2 550.1V575.1" stroke="#4b9684" stroke-width="3.4" fill="none"/>
<path d="M277.1 572.6L295.3 572.6L286.2 589.1Z" fill="#4b9684"/>
<text class="mpa" text-anchor="middle" transform="translate(290.7 609.6)">1.5 MPa</text>
<path d="M393.4 591L416.6 583.1" stroke="#e5232b" stroke-width="3.4" fill="none"/>
<path d="M429.4 578.8L417.5 592L411.9 575.5Z" fill="#e5232b"/>
<path d="M387.2 718.5L410.8 725.1" stroke="#e5232b" stroke-width="3.4" fill="none"/>
<path d="M423.8 728.8L406.5 733L411.2 716.2Z" fill="#e5232b"/>
<path d="M386.3 757.9L409.6 749.8" stroke="#e5232b" stroke-width="3.4" fill="none"/>
<path d="M422.3 745.3L410.5 758.6L404.8 742.2Z" fill="#e5232b"/>
<path d="M378.4 890.2L401.6 899.7" stroke="#e5232b" stroke-width="3.4" fill="none"/>
<path d="M414.1 904.8L396.5 907L403 890.9Z" fill="#e5232b"/>
<path d="M73.4 651.5l5.6 5.9l-5.6 5.9l-5.6 -5.9zM79.2 644.3l5.6 5.9l-5.6 5.9l-5.6 -5.9zM85.1 649.7l5.6 5.9l-5.6 5.9l-5.6 -5.9zM90.5 656.9l5.6 5.9l-5.6 5.9l-5.6 -5.9zM96.5 656.9l5.6 5.9l-5.6 5.9l-5.6 -5.9zM102.3 647l5.6 5.9l-5.6 5.9l-5.6 -5.9zM108 645.2l5.6 5.9l-5.6 5.9l-5.6 -5.9zM114 650.6l5.6 5.9l-5.6 5.9l-5.6 -5.9zM119.9 636.7l5.6 5.9l-5.6 5.9l-5.6 -5.9zM125.7 653.7l5.6 5.9l-5.6 5.9l-5.6 -5.9zM168.1 659.6l5.6 5.9l-5.6 5.9l-5.6 -5.9zM173.5 663.2l5.6 5.9l-5.6 5.9l-5.6 -5.9zM178 652.4l5.6 5.9l-5.6 5.9l-5.6 -5.9zM183.1 653.3l5.6 5.9l-5.6 5.9l-5.6 -5.9zM188.5 649.7l5.6 5.9l-5.6 5.9l-5.6 -5.9zM193.4 652.4l5.6 5.9l-5.6 5.9l-5.6 -5.9zM198.2 658.4l5.6 5.9l-5.6 5.9l-5.6 -5.9zM202.9 656.9l5.6 5.9l-5.6 5.9l-5.6 -5.9zM206.9 656l5.6 5.9l-5.6 5.9l-5.6 -5.9zM211.4 652.4l5.6 5.9l-5.6 5.9l-5.6 -5.9zM215.9 657.3l5.6 5.9l-5.6 5.9l-5.6 -5.9zM221 654.2l5.6 5.9l-5.6 5.9l-5.6 -5.9zM225.8 647.9l5.6 5.9l-5.6 5.9l-5.6 -5.9zM231.2 648.3l5.6 5.9l-5.6 5.9l-5.6 -5.9zM235.7 647l5.6 5.9l-5.6 5.9l-5.6 -5.9zM241.2 649.7l5.6 5.9l-5.6 5.9l-5.6 -5.9zM245.7 650.6l5.6 5.9l-5.6 5.9l-5.6 -5.9zM250.2 663.2l5.6 5.9l-5.6 5.9l-5.6 -5.9zM255.2 642.8l5.6 5.9l-5.6 5.9l-5.6 -5.9zM260.1 690.8l5.6 5.9l-5.6 5.9l-5.6 -5.9zM265 647.9l5.6 5.9l-5.6 5.9l-5.6 -5.9zM270 659.6l5.6 5.9l-5.6 5.9l-5.6 -5.9zM275.1 638l5.6 5.9l-5.6 5.9l-5.6 -5.9zM279.9 649.7l5.6 5.9l-5.6 5.9l-5.6 -5.9zM285.4 658.7l5.6 5.9l-5.6 5.9l-5.6 -5.9zM289.5 633.8l5.6 5.9l-5.6 5.9l-5.6 -5.9zM294.4 693l5.6 5.9l-5.6 5.9l-5.6 -5.9zM299.8 680.4l5.6 5.9l-5.6 5.9l-5.6 -5.9zM307 615.1l5.6 5.9l-5.6 5.9l-5.6 -5.9zM311.5 652.9l5.6 5.9l-5.6 5.9l-5.6 -5.9zM315.1 660.5l5.6 5.9l-5.6 5.9l-5.6 -5.9zM318.8 690.1l5.6 5.9l-5.6 5.9l-5.6 -5.9zM322.9 672.3l5.6 5.9l-5.6 5.9l-5.6 -5.9zM326.3 667.6l5.6 5.9l-5.6 5.9l-5.6 -5.9zM336.6 655.8l5.6 5.9l-5.6 5.9l-5.6 -5.9zM365.3 638.5l5.6 5.9l-5.6 5.9l-5.6 -5.9zM370.9 620.1l5.6 5.9l-5.6 5.9l-5.6 -5.9zM377.8 590.1l5.6 5.9l-5.6 5.9l-5.6 -5.9zM389.7 599.5l5.6 5.9l-5.6 5.9l-5.6 -5.9zM384 647l5.6 5.9l-5.6 5.9l-5.6 -5.9zM395.7 661.4l5.6 5.9l-5.6 5.9l-5.6 -5.9zM401.3 636.3l5.6 5.9l-5.6 5.9l-5.6 -5.9zM406.9 671.4l5.6 5.9l-5.6 5.9l-5.6 -5.9zM412.9 701.9l5.6 5.9l-5.6 5.9l-5.6 -5.9zM427.9 667.6l5.6 5.9l-5.6 5.9l-5.6 -5.9zM433.6 706.4l5.6 5.9l-5.6 5.9l-5.6 -5.9zM439.8 687.7l5.6 5.9l-5.6 5.9l-5.6 -5.9zM449.1 687.3l5.6 5.9l-5.6 5.9l-5.6 -5.9zM459.5 657.7l5.6 5.9l-5.6 5.9l-5.6 -5.9zM461.3 678.3l5.6 5.9l-5.6 5.9l-5.6 -5.9z" fill="#0567b0"/>
<circle cx="73.1" cy="819.7" r="4.8" fill="#ec218e"/>
<circle cx="78.8" cy="827" r="4.8" fill="#ec218e"/>
<circle cx="84.6" cy="821.2" r="4.8" fill="#ec218e"/>
<circle cx="90.5" cy="814.7" r="4.8" fill="#ec218e"/>
<circle cx="96.5" cy="815.2" r="4.8" fill="#ec218e"/>
<circle cx="102.3" cy="824.2" r="4.8" fill="#ec218e"/>
<circle cx="108" cy="826.1" r="4.8" fill="#ec218e"/>
<circle cx="114" cy="821.2" r="4.8" fill="#ec218e"/>
<circle cx="119.9" cy="835.1" r="4.8" fill="#ec218e"/>
<circle cx="125.7" cy="817.6" r="4.8" fill="#ec218e"/>
<circle cx="169" cy="812.5" r="4.8" fill="#ec218e"/>
<circle cx="174.1" cy="807.5" r="4.8" fill="#ec218e"/>
<circle cx="178.4" cy="818.8" r="4.8" fill="#ec218e"/>
<circle cx="183.4" cy="817.6" r="4.8" fill="#ec218e"/>
<circle cx="188.5" cy="821.5" r="4.8" fill="#ec218e"/>
<circle cx="193.4" cy="819.4" r="4.8" fill="#ec218e"/>
<circle cx="198.2" cy="813.4" r="4.8" fill="#ec218e"/>
<circle cx="203.3" cy="815.8" r="4.8" fill="#ec218e"/>
<circle cx="207.2" cy="815.8" r="4.8" fill="#ec218e"/>
<circle cx="211.4" cy="818.8" r="4.8" fill="#ec218e"/>
<circle cx="216.3" cy="814" r="4.8" fill="#ec218e"/>
<circle cx="221" cy="817" r="4.8" fill="#ec218e"/>
<circle cx="225.8" cy="822.4" r="4.8" fill="#ec218e"/>
<circle cx="231.2" cy="822.4" r="4.8" fill="#ec218e"/>
<circle cx="235.7" cy="823.3" r="4.8" fill="#ec218e"/>
<circle cx="241.2" cy="821.5" r="4.8" fill="#ec218e"/>
<circle cx="245.7" cy="820.6" r="4.8" fill="#ec218e"/>
<circle cx="250.5" cy="808.6" r="4.8" fill="#ec218e"/>
<circle cx="255.2" cy="829.1" r="4.8" fill="#ec218e"/>
<circle cx="260.1" cy="781" r="4.8" fill="#ec218e"/>
<circle cx="265" cy="824.2" r="4.8" fill="#ec218e"/>
<circle cx="270" cy="811.1" r="4.8" fill="#ec218e"/>
<circle cx="275.1" cy="833.8" r="4.8" fill="#ec218e"/>
<circle cx="279.9" cy="821.5" r="4.8" fill="#ec218e"/>
<circle cx="285.4" cy="813.4" r="4.8" fill="#ec218e"/>
<circle cx="289.9" cy="837.4" r="4.8" fill="#ec218e"/>
<circle cx="294.4" cy="779.2" r="4.8" fill="#ec218e"/>
<circle cx="299.8" cy="791.2" r="4.8" fill="#ec218e"/>
<circle cx="307" cy="855.8" r="4.8" fill="#ec218e"/>
<circle cx="310.6" cy="818.3" r="4.8" fill="#ec218e"/>
<circle cx="315.5" cy="810.7" r="4.8" fill="#ec218e"/>
<circle cx="318.8" cy="781.7" r="4.8" fill="#ec218e"/>
<circle cx="322.9" cy="798.6" r="4.8" fill="#ec218e"/>
<circle cx="326.6" cy="804.8" r="4.8" fill="#ec218e"/>
<circle cx="336.6" cy="816.1" r="4.8" fill="#ec218e"/>
<circle cx="365.3" cy="833" r="4.8" fill="#ec218e"/>
<circle cx="370.9" cy="851.7" r="4.8" fill="#ec218e"/>
<circle cx="377.8" cy="881.2" r="4.8" fill="#ec218e"/>
<circle cx="389.7" cy="872.3" r="4.8" fill="#ec218e"/>
<circle cx="384" cy="824.9" r="4.8" fill="#ec218e"/>
<circle cx="395.7" cy="809.9" r="4.8" fill="#ec218e"/>
<circle cx="401.3" cy="835.4" r="4.8" fill="#ec218e"/>
<circle cx="407.3" cy="800.5" r="4.8" fill="#ec218e"/>
<circle cx="412.9" cy="769.7" r="4.8" fill="#ec218e"/>
<circle cx="427.9" cy="804.2" r="4.8" fill="#ec218e"/>
<circle cx="433.6" cy="764.9" r="4.8" fill="#ec218e"/>
<circle cx="439.8" cy="784.2" r="4.8" fill="#ec218e"/>
<circle cx="449.1" cy="784.7" r="4.8" fill="#ec218e"/>
<circle cx="461.3" cy="793.6" r="4.8" fill="#ec218e"/>
<circle cx="459.5" cy="814.6" r="4.8" fill="#ec218e"/>
<path d="M434.1 876.7l5.6 5.9l-5.6 5.9l-5.6 -5.9z" fill="#0567b0"/>
<circle cx="434.1" cy="909.1" r="4.8" fill="#ec218e"/>
<text class="lg" transform="translate(459.4 888) scale(1.060 1)">Mol% CH<tspan class="sb" dy="5.4">4</tspan></text>
<text class="lg" transform="translate(459.4 915.2) scale(1.060 1)">Mol% C<tspan class="sb" dy="5">3</tspan><tspan dy="-5">H</tspan><tspan class="sb" dy="5">8</tspan></text>
<text class="tt" transform="translate(1 524.1) scale(1.190 1)">(b)</text>
<text class="tt" transform="translate(51.7 524.1) scale(1.190 1)">Sediment</text>
<text class="tt" transform="translate(205.7 524.1) scale(1.190 1)">2</text>
<path d="M800.6 894.4H1282M800.6 854.8H1282M800.6 815.1H1282M800.6 775.5H1282M800.6 735.9H1282M800.6 696.3H1282M800.6 656.7H1282M800.6 617H1282M800.6 577.4H1282" stroke="#9c9c9c" stroke-width="1.4" stroke-dasharray="4.8 4.58" fill="none"/>
<path d="M791.5 934h7M1284 934h-7M791.5 914.2h3.5M1284 914.2h-3.5M791.5 894.4h7M1284 894.4h-7M791.5 874.6h3.5M1284 874.6h-3.5M791.5 854.8h7M1284 854.8h-7M791.5 835h3.5M1284 835h-3.5M791.5 815.1h7M1284 815.1h-7M791.5 795.3h3.5M1284 795.3h-3.5M791.5 775.5h7M1284 775.5h-7M791.5 755.7h3.5M1284 755.7h-3.5M791.5 735.9h7M1284 735.9h-7M791.5 716.1h3.5M1284 716.1h-3.5M791.5 696.3h7M1284 696.3h-7M791.5 676.5h3.5M1284 676.5h-3.5M791.5 656.7h7M1284 656.7h-7M791.5 636.8h3.5M1284 636.8h-3.5M791.5 617h7M1284 617h-7M791.5 597.2h3.5M1284 597.2h-3.5M791.5 577.4h7M1284 577.4h-7M791.5 557.6h3.5M1284 557.6h-3.5M791.5 537.8h7M1284 537.8h-7M791.5 934v-7M791.5 537.8v7M840.8 934v-3.5M840.8 537.8v3.5M890 934v-7M890 537.8v7M939.2 934v-3.5M939.2 537.8v3.5M988.5 934v-7M988.5 537.8v7M1037.8 934v-3.5M1037.8 537.8v3.5M1087 934v-7M1087 537.8v7M1136.2 934v-3.5M1136.2 537.8v3.5M1185.5 934v-7M1185.5 537.8v7M1234.8 934v-3.5M1234.8 537.8v3.5M1284 934v-7M1284 537.8v7" stroke="#353535" stroke-width="1.8" fill="none"/>
<rect x="791.5" y="537.8" width="492.5" height="396.2" fill="none" stroke="#353535" stroke-width="2"/>
<text class="tk" text-anchor="end" transform="translate(782.5 939.6)">0</text>
<text class="tk" text-anchor="end" transform="translate(782.5 900)">10</text>
<text class="tk" text-anchor="end" transform="translate(782.5 860.4)">20</text>
<text class="tk" text-anchor="end" transform="translate(782.5 820.7)">30</text>
<text class="tk" text-anchor="end" transform="translate(782.5 781.1)">40</text>
<text class="tk" text-anchor="end" transform="translate(782.5 741.5)">50</text>
<text class="tk" text-anchor="end" transform="translate(782.5 701.9)">60</text>
<text class="tk" text-anchor="end" transform="translate(782.5 662.3)">70</text>
<text class="tk" text-anchor="end" transform="translate(782.5 622.6)">80</text>
<text class="tk" text-anchor="end" transform="translate(782.5 583)">90</text>
<text class="tk" text-anchor="end" transform="translate(782.5 543.4)">100</text>
<text class="tk" text-anchor="middle" transform="translate(791.5 955.6)">0</text>
<text class="tk" text-anchor="middle" transform="translate(890 955.6)">100</text>
<text class="tk" text-anchor="middle" transform="translate(988.5 955.6)">200</text>
<text class="tk" text-anchor="middle" transform="translate(1087 955.6)">300</text>
<text class="tk" text-anchor="middle" transform="translate(1185.5 955.6)">400</text>
<text class="tk" text-anchor="middle" transform="translate(1284 955.6)">500</text>
<text class="ax" text-anchor="middle" transform="translate(745.9 735.9) rotate(-90) scale(1.035 1)">Percentage (%)</text>
<text class="ax" text-anchor="middle" transform="translate(1037.8 987.1) scale(1.045 1)">Time (min)</text>
<text class="run" transform="translate(1291.8 934.5) scale(1.020 1)">Run 2</text>
<path d="M1005.2 615.8V855" stroke="#3d8271" stroke-width="2.8" stroke-dasharray="3 4" fill="none"/>
<path d="M1005.6 545.4V569.9" stroke="#4b9684" stroke-width="3.4" fill="none"/>
<path d="M996.5 567.4L1014.7 567.4L1005.6 583.9Z" fill="#4b9684"/>
<text class="mpa" text-anchor="middle" transform="translate(1009 606)">1.5 MPa</text>
<path d="M1138.2 609.4L1161.2 601.4" stroke="#e5232b" stroke-width="3.4" fill="none"/>
<path d="M1173.9 596.9L1162.1 610.2L1156.4 593.8Z" fill="#e5232b"/>
<path d="M1138.5 694.4L1162 701.3" stroke="#e5232b" stroke-width="3.4" fill="none"/>
<path d="M1175 705.1L1157.7 709.1L1162.6 692.4Z" fill="#e5232b"/>
<path d="M1138.5 772.8L1161.2 764.8" stroke="#e5232b" stroke-width="3.4" fill="none"/>
<path d="M1173.9 760.3L1162.2 773.7L1156.4 757.3Z" fill="#e5232b"/>
<path d="M1138.5 850.1L1162 856.9" stroke="#e5232b" stroke-width="3.4" fill="none"/>
<path d="M1175 860.6L1157.7 864.7L1162.5 848Z" fill="#e5232b"/>
<path d="M791.4 638.2l5.6 5.9l-5.6 5.9l-5.6 -5.9zM796.5 651.7l5.6 5.9l-5.6 5.9l-5.6 -5.9zM801.3 645.4l5.6 5.9l-5.6 5.9l-5.6 -5.9zM805.5 638.2l5.6 5.9l-5.6 5.9l-5.6 -5.9zM810.9 640.9l5.6 5.9l-5.6 5.9l-5.6 -5.9zM815.8 633.2l5.6 5.9l-5.6 5.9l-5.6 -5.9zM821.2 616.6l5.6 5.9l-5.6 5.9l-5.6 -5.9zM826 648.7l5.6 5.9l-5.6 5.9l-5.6 -5.9zM830.7 625.2l5.6 5.9l-5.6 5.9l-5.6 -5.9zM835.1 635.5l5.6 5.9l-5.6 5.9l-5.6 -5.9zM839.8 635.5l5.6 5.9l-5.6 5.9l-5.6 -5.9zM844.1 641.8l5.6 5.9l-5.6 5.9l-5.6 -5.9zM849.1 651.2l5.6 5.9l-5.6 5.9l-5.6 -5.9zM852.4 655.3l5.6 5.9l-5.6 5.9l-5.6 -5.9zM857.8 642.7l5.6 5.9l-5.6 5.9l-5.6 -5.9zM862.7 643.6l5.6 5.9l-5.6 5.9l-5.6 -5.9zM867.2 656.3l5.6 5.9l-5.6 5.9l-5.6 -5.9zM871.1 649l5.6 5.9l-5.6 5.9l-5.6 -5.9zM875.3 637.9l5.6 5.9l-5.6 5.9l-5.6 -5.9zM879.8 641.8l5.6 5.9l-5.6 5.9l-5.6 -5.9zM884.3 644.5l5.6 5.9l-5.6 5.9l-5.6 -5.9zM888.5 645.4l5.6 5.9l-5.6 5.9l-5.6 -5.9zM893.3 627.8l5.6 5.9l-5.6 5.9l-5.6 -5.9zM898.2 647.2l5.6 5.9l-5.6 5.9l-5.6 -5.9zM903.2 648.1l5.6 5.9l-5.6 5.9l-5.6 -5.9zM908.7 649.9l5.6 5.9l-5.6 5.9l-5.6 -5.9zM913.2 645.1l5.6 5.9l-5.6 5.9l-5.6 -5.9zM917.7 647.6l5.6 5.9l-5.6 5.9l-5.6 -5.9zM921.3 633.2l5.6 5.9l-5.6 5.9l-5.6 -5.9zM925.8 647.2l5.6 5.9l-5.6 5.9l-5.6 -5.9zM930.3 654.4l5.6 5.9l-5.6 5.9l-5.6 -5.9zM934.3 639.7l5.6 5.9l-5.6 5.9l-5.6 -5.9zM938.4 655.3l5.6 5.9l-5.6 5.9l-5.6 -5.9zM942 658.4l5.6 5.9l-5.6 5.9l-5.6 -5.9zM945.6 654.4l5.6 5.9l-5.6 5.9l-5.6 -5.9zM949.8 633.2l5.6 5.9l-5.6 5.9l-5.6 -5.9zM954.1 653.5l5.6 5.9l-5.6 5.9l-5.6 -5.9zM977.2 641.5l5.6 5.9l-5.6 5.9l-5.6 -5.9zM982.6 636.4l5.6 5.9l-5.6 5.9l-5.6 -5.9zM986.6 649l5.6 5.9l-5.6 5.9l-5.6 -5.9zM991.3 661.3l5.6 5.9l-5.6 5.9l-5.6 -5.9zM995.6 649l5.6 5.9l-5.6 5.9l-5.6 -5.9zM999.2 639.1l5.6 5.9l-5.6 5.9l-5.6 -5.9zM1002.5 650.5l5.6 5.9l-5.6 5.9l-5.6 -5.9zM1006.4 666.2l5.6 5.9l-5.6 5.9l-5.6 -5.9zM1011.1 641.8l5.6 5.9l-5.6 5.9l-5.6 -5.9zM1015.4 643.3l5.6 5.9l-5.6 5.9l-5.6 -5.9zM1018.7 665.3l5.6 5.9l-5.6 5.9l-5.6 -5.9zM1022.7 650.5l5.6 5.9l-5.6 5.9l-5.6 -5.9zM1026.8 647.2l5.6 5.9l-5.6 5.9l-5.6 -5.9zM1035.5 662.4l5.6 5.9l-5.6 5.9l-5.6 -5.9zM1039.6 629.3l5.6 5.9l-5.6 5.9l-5.6 -5.9zM1043.8 646.8l5.6 5.9l-5.6 5.9l-5.6 -5.9zM1047.5 673.5l5.6 5.9l-5.6 5.9l-5.6 -5.9zM1052.1 644l5.6 5.9l-5.6 5.9l-5.6 -5.9zM1057.6 647.7l5.6 5.9l-5.6 5.9l-5.6 -5.9zM1062.2 652.3l5.6 5.9l-5.6 5.9l-5.6 -5.9zM1066.8 648.6l5.6 5.9l-5.6 5.9l-5.6 -5.9zM1072.3 631.1l5.6 5.9l-5.6 5.9l-5.6 -5.9zM1076.9 638.5l5.6 5.9l-5.6 5.9l-5.6 -5.9zM1081.9 690l5.6 5.9l-5.6 5.9l-5.6 -5.9zM1085.6 672.5l5.6 5.9l-5.6 5.9l-5.6 -5.9zM1089.8 668.9l5.6 5.9l-5.6 5.9l-5.6 -5.9zM1093.5 655.1l5.6 5.9l-5.6 5.9l-5.6 -5.9zM1098.1 649.5l5.6 5.9l-5.6 5.9l-5.6 -5.9zM1102.7 672.5l5.6 5.9l-5.6 5.9l-5.6 -5.9zM1106.4 632.1l5.6 5.9l-5.6 5.9l-5.6 -5.9zM1110.6 645.9l5.6 5.9l-5.6 5.9l-5.6 -5.9zM1114.6 625.6l5.6 5.9l-5.6 5.9l-5.6 -5.9zM1118.3 653.2l5.6 5.9l-5.6 5.9l-5.6 -5.9zM1122.9 651.4l5.6 5.9l-5.6 5.9l-5.6 -5.9zM1128.4 745.2l5.6 5.9l-5.6 5.9l-5.6 -5.9zM1132.1 641.3l5.6 5.9l-5.6 5.9l-5.6 -5.9zM1136.7 643.6l5.6 5.9l-5.6 5.9l-5.6 -5.9zM1141.9 654.1l5.6 5.9l-5.6 5.9l-5.6 -5.9zM1146.8 667l5.6 5.9l-5.6 5.9l-5.6 -5.9zM1158.8 678.1l5.6 5.9l-5.6 5.9l-5.6 -5.9zM1163.4 717.6l5.6 5.9l-5.6 5.9l-5.6 -5.9zM1168 725l5.6 5.9l-5.6 5.9l-5.6 -5.9zM1182.7 644l5.6 5.9l-5.6 5.9l-5.6 -5.9zM1188.2 644.9l5.6 5.9l-5.6 5.9l-5.6 -5.9zM1191.9 644.9l5.6 5.9l-5.6 5.9l-5.6 -5.9zM1196.5 645.9l5.6 5.9l-5.6 5.9l-5.6 -5.9zM1201.1 616l5.6 5.9l-5.6 5.9l-5.6 -5.9zM1204.8 606.8l5.6 5.9l-5.6 5.9l-5.6 -5.9zM1211.2 623.8l5.6 5.9l-5.6 5.9l-5.6 -5.9zM1214.9 683.6l5.6 5.9l-5.6 5.9l-5.6 -5.9zM1219.5 625.6l5.6 5.9l-5.6 5.9l-5.6 -5.9zM1224.7 639.4l5.6 5.9l-5.6 5.9l-5.6 -5.9zM1229.6 695.5l5.6 5.9l-5.6 5.9l-5.6 -5.9zM1240.7 622.9l5.6 5.9l-5.6 5.9l-5.6 -5.9zM1245.6 677.1l5.6 5.9l-5.6 5.9l-5.6 -5.9zM1249.3 631.1l5.6 5.9l-5.6 5.9l-5.6 -5.9zM1254.1 759.6l5.6 5.9l-5.6 5.9l-5.6 -5.9z" fill="#0567b0"/>
<circle cx="791.4" cy="828.1" r="4.8" fill="#ec218e"/>
<circle cx="796.5" cy="815.8" r="4.8" fill="#ec218e"/>
<circle cx="801.3" cy="821.8" r="4.8" fill="#ec218e"/>
<circle cx="805.8" cy="826.7" r="4.8" fill="#ec218e"/>
<circle cx="810.9" cy="825.9" r="4.8" fill="#ec218e"/>
<circle cx="815.8" cy="833.1" r="4.8" fill="#ec218e"/>
<circle cx="821.2" cy="849.7" r="4.8" fill="#ec218e"/>
<circle cx="826" cy="817.6" r="4.8" fill="#ec218e"/>
<circle cx="830.7" cy="841.6" r="4.8" fill="#ec218e"/>
<circle cx="835.6" cy="831.3" r="4.8" fill="#ec218e"/>
<circle cx="840.5" cy="830.8" r="4.8" fill="#ec218e"/>
<circle cx="844.6" cy="824.5" r="4.8" fill="#ec218e"/>
<circle cx="848.8" cy="814.6" r="4.8" fill="#ec218e"/>
<circle cx="852.7" cy="811" r="4.8" fill="#ec218e"/>
<circle cx="857.2" cy="823.6" r="4.8" fill="#ec218e"/>
<circle cx="862.7" cy="823.6" r="4.8" fill="#ec218e"/>
<circle cx="867.2" cy="810.4" r="4.8" fill="#ec218e"/>
<circle cx="871.1" cy="816.4" r="4.8" fill="#ec218e"/>
<circle cx="875.3" cy="828.1" r="4.8" fill="#ec218e"/>
<circle cx="879.8" cy="824.1" r="4.8" fill="#ec218e"/>
<circle cx="884.3" cy="821.2" r="4.8" fill="#ec218e"/>
<circle cx="888.5" cy="820.9" r="4.8" fill="#ec218e"/>
<circle cx="892.8" cy="838.9" r="4.8" fill="#ec218e"/>
<circle cx="897.8" cy="820" r="4.8" fill="#ec218e"/>
<circle cx="902.9" cy="818.7" r="4.8" fill="#ec218e"/>
<circle cx="908.7" cy="816.9" r="4.8" fill="#ec218e"/>
<circle cx="913.7" cy="821.2" r="4.8" fill="#ec218e"/>
<circle cx="917.7" cy="819.1" r="4.8" fill="#ec218e"/>
<circle cx="921.3" cy="833.5" r="4.8" fill="#ec218e"/>
<circle cx="925.8" cy="818.7" r="4.8" fill="#ec218e"/>
<circle cx="930.3" cy="812.8" r="4.8" fill="#ec218e"/>
<circle cx="934.3" cy="826.7" r="4.8" fill="#ec218e"/>
<circle cx="938.4" cy="811.5" r="4.8" fill="#ec218e"/>
<circle cx="942.6" cy="807.4" r="4.8" fill="#ec218e"/>
<circle cx="946.5" cy="811" r="4.8" fill="#ec218e"/>
<circle cx="949.8" cy="833.5" r="4.8" fill="#ec218e"/>
<circle cx="954.1" cy="813.3" r="4.8" fill="#ec218e"/>
<circle cx="978.1" cy="825.4" r="4.8" fill="#ec218e"/>
<circle cx="983.5" cy="831.3" r="4.8" fill="#ec218e"/>
<circle cx="987.1" cy="815.8" r="4.8" fill="#ec218e"/>
<circle cx="991.3" cy="805" r="4.8" fill="#ec218e"/>
<circle cx="995.2" cy="815.5" r="4.8" fill="#ec218e"/>
<circle cx="999.2" cy="826.3" r="4.8" fill="#ec218e"/>
<circle cx="1002.5" cy="815.5" r="4.8" fill="#ec218e"/>
<circle cx="1007" cy="800.7" r="4.8" fill="#ec218e"/>
<circle cx="1011.1" cy="824.1" r="4.8" fill="#ec218e"/>
<circle cx="1015.4" cy="823.6" r="4.8" fill="#ec218e"/>
<circle cx="1018.7" cy="800.7" r="4.8" fill="#ec218e"/>
<circle cx="1022.7" cy="815.8" r="4.8" fill="#ec218e"/>
<circle cx="1026.8" cy="819.1" r="4.8" fill="#ec218e"/>
<circle cx="1030.4" cy="807.9" r="4.8" fill="#ec218e"/>
<circle cx="1035.5" cy="803.5" r="4.8" fill="#ec218e"/>
<circle cx="1039.6" cy="837.2" r="4.8" fill="#ec218e"/>
<circle cx="1043.2" cy="819.5" r="4.8" fill="#ec218e"/>
<circle cx="1047.5" cy="793.1" r="4.8" fill="#ec218e"/>
<circle cx="1052.1" cy="821.9" r="4.8" fill="#ec218e"/>
<circle cx="1057.6" cy="818.3" r="4.8" fill="#ec218e"/>
<circle cx="1062.2" cy="813.7" r="4.8" fill="#ec218e"/>
<circle cx="1067.2" cy="818.8" r="4.8" fill="#ec218e"/>
<circle cx="1071.9" cy="834.8" r="4.8" fill="#ec218e"/>
<circle cx="1076.9" cy="828" r="4.8" fill="#ec218e"/>
<circle cx="1081.9" cy="776.5" r="4.8" fill="#ec218e"/>
<circle cx="1085.2" cy="793.4" r="4.8" fill="#ec218e"/>
<circle cx="1089.8" cy="797.1" r="4.8" fill="#ec218e"/>
<circle cx="1093.5" cy="810.9" r="4.8" fill="#ec218e"/>
<circle cx="1098.4" cy="817.7" r="4.8" fill="#ec218e"/>
<circle cx="1102.7" cy="794.3" r="4.8" fill="#ec218e"/>
<circle cx="1106.4" cy="834.8" r="4.8" fill="#ec218e"/>
<circle cx="1110" cy="820.1" r="4.8" fill="#ec218e"/>
<circle cx="1114.3" cy="841.3" r="4.8" fill="#ec218e"/>
<circle cx="1117.9" cy="812.7" r="4.8" fill="#ec218e"/>
<circle cx="1122.9" cy="815.5" r="4.8" fill="#ec218e"/>
<circle cx="1128.4" cy="721.3" r="4.8" fill="#ec218e"/>
<circle cx="1131.2" cy="825.1" r="4.8" fill="#ec218e"/>
<circle cx="1136.7" cy="823.2" r="4.8" fill="#ec218e"/>
<circle cx="1141.9" cy="812.7" r="4.8" fill="#ec218e"/>
<circle cx="1146.8" cy="799.9" r="4.8" fill="#ec218e"/>
<circle cx="1158.8" cy="788.3" r="4.8" fill="#ec218e"/>
<circle cx="1163.4" cy="748.3" r="4.8" fill="#ec218e"/>
<circle cx="1168.9" cy="740.1" r="4.8" fill="#ec218e"/>
<circle cx="1173.5" cy="736.8" r="4.8" fill="#ec218e"/>
<circle cx="1182.7" cy="822.9" r="4.8" fill="#ec218e"/>
<circle cx="1187.9" cy="821.9" r="4.8" fill="#ec218e"/>
<circle cx="1191.9" cy="821" r="4.8" fill="#ec218e"/>
<circle cx="1195.6" cy="821" r="4.8" fill="#ec218e"/>
<circle cx="1201.1" cy="850.5" r="4.8" fill="#ec218e"/>
<circle cx="1204.8" cy="859.7" r="4.8" fill="#ec218e"/>
<circle cx="1211.2" cy="842.7" r="4.8" fill="#ec218e"/>
<circle cx="1214.9" cy="782.4" r="4.8" fill="#ec218e"/>
<circle cx="1219.5" cy="840.9" r="4.8" fill="#ec218e"/>
<circle cx="1224.7" cy="826.9" r="4.8" fill="#ec218e"/>
<circle cx="1229.6" cy="770.4" r="4.8" fill="#ec218e"/>
<circle cx="1240.7" cy="844" r="4.8" fill="#ec218e"/>
<circle cx="1245.6" cy="789.4" r="4.8" fill="#ec218e"/>
<circle cx="1249.3" cy="835.4" r="4.8" fill="#ec218e"/>
<circle cx="1254.1" cy="706.9" r="4.8" fill="#ec218e"/>
<path d="M891.8 874.2l5.6 5.9l-5.6 5.9l-5.6 -5.9z" fill="#0567b0"/>
<circle cx="891.8" cy="906.6" r="4.8" fill="#ec218e"/>
<text class="lg" transform="translate(917.1 885.5) scale(1.060 1)">Mol% CH<tspan class="sb" dy="5.4">4</tspan></text>
<text class="lg" transform="translate(917.1 912.7) scale(1.060 1)">Mol% C<tspan class="sb" dy="5">3</tspan><tspan dy="-5">H</tspan><tspan class="sb" dy="5">8</tspan></text>
<path d="M80.1 1401.2H560.1M80.1 1361.8H560.1M80.1 1322.3H560.1M80.1 1282.9H560.1M80.1 1243.5H560.1M80.1 1204.1H560.1M80.1 1164.7H560.1M80.1 1125.2H560.1M80.1 1085.8H560.1" stroke="#9c9c9c" stroke-width="1.4" stroke-dasharray="4.8 4.58" fill="none"/>
<path d="M71 1440.6h7M562.1 1440.6h-7M71 1420.9h3.5M562.1 1420.9h-3.5M71 1401.2h7M562.1 1401.2h-7M71 1381.5h3.5M562.1 1381.5h-3.5M71 1361.8h7M562.1 1361.8h-7M71 1342h3.5M562.1 1342h-3.5M71 1322.3h7M562.1 1322.3h-7M71 1302.6h3.5M562.1 1302.6h-3.5M71 1282.9h7M562.1 1282.9h-7M71 1263.2h3.5M562.1 1263.2h-3.5M71 1243.5h7M562.1 1243.5h-7M71 1223.8h3.5M562.1 1223.8h-3.5M71 1204.1h7M562.1 1204.1h-7M71 1184.4h3.5M562.1 1184.4h-3.5M71 1164.7h7M562.1 1164.7h-7M71 1145h3.5M562.1 1145h-3.5M71 1125.2h7M562.1 1125.2h-7M71 1105.5h3.5M562.1 1105.5h-3.5M71 1085.8h7M562.1 1085.8h-7M71 1066.1h3.5M562.1 1066.1h-3.5M71 1046.4h7M562.1 1046.4h-7M71 1440.6v-7M71 1046.4v7M120.1 1440.6v-3.5M120.1 1046.4v3.5M169.2 1440.6v-7M169.2 1046.4v7M218.3 1440.6v-3.5M218.3 1046.4v3.5M267.4 1440.6v-7M267.4 1046.4v7M316.6 1440.6v-3.5M316.6 1046.4v3.5M365.7 1440.6v-7M365.7 1046.4v7M414.8 1440.6v-3.5M414.8 1046.4v3.5M463.9 1440.6v-7M463.9 1046.4v7M513 1440.6v-3.5M513 1046.4v3.5M562.1 1440.6v-7M562.1 1046.4v7" stroke="#353535" stroke-width="1.8" fill="none"/>
<rect x="71" y="1046.4" width="491.1" height="394.2" fill="none" stroke="#353535" stroke-width="2"/>
<text class="tk" text-anchor="end" transform="translate(62 1446.2)">0</text>
<text class="tk" text-anchor="end" transform="translate(62 1406.8)">10</text>
<text class="tk" text-anchor="end" transform="translate(62 1367.4)">20</text>
<text class="tk" text-anchor="end" transform="translate(62 1327.9)">30</text>
<text class="tk" text-anchor="end" transform="translate(62 1288.5)">40</text>
<text class="tk" text-anchor="end" transform="translate(62 1249.1)">50</text>
<text class="tk" text-anchor="end" transform="translate(62 1209.7)">60</text>
<text class="tk" text-anchor="end" transform="translate(62 1170.3)">70</text>
<text class="tk" text-anchor="end" transform="translate(62 1130.8)">80</text>
<text class="tk" text-anchor="end" transform="translate(62 1091.4)">90</text>
<text class="tk" text-anchor="end" transform="translate(62 1052)">100</text>
<text class="tk" text-anchor="middle" transform="translate(71 1462.2)">0</text>
<text class="tk" text-anchor="middle" transform="translate(169.2 1462.2)">100</text>
<text class="tk" text-anchor="middle" transform="translate(267.4 1462.2)">200</text>
<text class="tk" text-anchor="middle" transform="translate(365.7 1462.2)">300</text>
<text class="tk" text-anchor="middle" transform="translate(463.9 1462.2)">400</text>
<text class="tk" text-anchor="middle" transform="translate(562.1 1462.2)">500</text>
<text class="ax" text-anchor="middle" transform="translate(25.4 1243.5) rotate(-90) scale(1.035 1)">Percentage (%)</text>
<text class="ax" text-anchor="middle" transform="translate(316.6 1493.7) scale(1.045 1)">Time (min)</text>
<text class="run" transform="translate(574.5 1438.4) scale(1.020 1)">Run 1</text>
<path d="M314.5 1129.8V1378" stroke="#3d8271" stroke-width="2.8" stroke-dasharray="3 4" fill="none"/>
<path d="M313.9 1057.6V1081.6" stroke="#4b9684" stroke-width="3.4" fill="none"/>
<path d="M304.8 1079.1L323 1079.1L313.9 1095.6Z" fill="#4b9684"/>
<text class="mpa" text-anchor="middle" transform="translate(320.6 1117.7)">1.5 MPa</text>
<path d="M403.5 1098.4L427.1 1089.9" stroke="#e5232b" stroke-width="3.4" fill="none"/>
<path d="M439.8 1085.3L428.2 1098.7L422.3 1082.4Z" fill="#e5232b"/>
<path d="M402.2 1225.4L425.9 1232.7" stroke="#e5232b" stroke-width="3.4" fill="none"/>
<path d="M438.8 1236.7L421.4 1240.4L426.6 1223.8Z" fill="#e5232b"/>
<path d="M401.3 1264.8L424.6 1256.7" stroke="#e5232b" stroke-width="3.4" fill="none"/>
<path d="M437.3 1252.2L425.5 1265.5L419.8 1249.1Z" fill="#e5232b"/>
<path d="M401.7 1372.3L425.4 1379.2" stroke="#e5232b" stroke-width="3.4" fill="none"/>
<path d="M438.4 1383L421.1 1387L426 1370.3Z" fill="#e5232b"/>
<path d="M71.1 1172l5.6 5.9l-5.6 5.9l-5.6 -5.9zM76.5 1147.6l5.6 5.9l-5.6 5.9l-5.6 -5.9zM82.6 1156.1l5.6 5.9l-5.6 5.9l-5.6 -5.9zM88.5 1147.6l5.6 5.9l-5.6 5.9l-5.6 -5.9zM94.5 1190.9l5.6 5.9l-5.6 5.9l-5.6 -5.9zM99.9 1157.5l5.6 5.9l-5.6 5.9l-5.6 -5.9zM105.7 1166.6l5.6 5.9l-5.6 5.9l-5.6 -5.9zM110.2 1163.3l5.6 5.9l-5.6 5.9l-5.6 -5.9zM112.9 1161.2l5.6 5.9l-5.6 5.9l-5.6 -5.9zM117.9 1170.2l5.6 5.9l-5.6 5.9l-5.6 -5.9zM123.4 1186.4l5.6 5.9l-5.6 5.9l-5.6 -5.9zM129.1 1180.1l5.6 5.9l-5.6 5.9l-5.6 -5.9zM134.5 1178.8l5.6 5.9l-5.6 5.9l-5.6 -5.9zM141.4 1186.8l5.6 5.9l-5.6 5.9l-5.6 -5.9zM176.4 1172l5.6 5.9l-5.6 5.9l-5.6 -5.9zM180.5 1166.6l5.6 5.9l-5.6 5.9l-5.6 -5.9zM184.1 1162.1l5.6 5.9l-5.6 5.9l-5.6 -5.9zM188.3 1182.4l5.6 5.9l-5.6 5.9l-5.6 -5.9zM192.3 1164.8l5.6 5.9l-5.6 5.9l-5.6 -5.9zM195.9 1159.4l5.6 5.9l-5.6 5.9l-5.6 -5.9zM199.8 1182.4l5.6 5.9l-5.6 5.9l-5.6 -5.9zM204.9 1173.8l5.6 5.9l-5.6 5.9l-5.6 -5.9zM210.3 1177.4l5.6 5.9l-5.6 5.9l-5.6 -5.9zM213.9 1190l5.6 5.9l-5.6 5.9l-5.6 -5.9zM218.4 1162.1l5.6 5.9l-5.6 5.9l-5.6 -5.9zM222 1169.3l5.6 5.9l-5.6 5.9l-5.6 -5.9zM225.6 1172.9l5.6 5.9l-5.6 5.9l-5.6 -5.9zM230.1 1176.5l5.6 5.9l-5.6 5.9l-5.6 -5.9zM233.4 1197.2l5.6 5.9l-5.6 5.9l-5.6 -5.9zM237.4 1163.3l5.6 5.9l-5.6 5.9l-5.6 -5.9zM240.6 1187.3l5.6 5.9l-5.6 5.9l-5.6 -5.9zM244.6 1177.4l5.6 5.9l-5.6 5.9l-5.6 -5.9zM248.5 1165.1l5.6 5.9l-5.6 5.9l-5.6 -5.9zM252.7 1172.9l5.6 5.9l-5.6 5.9l-5.6 -5.9zM257.2 1173.8l5.6 5.9l-5.6 5.9l-5.6 -5.9zM259 1167.5l5.6 5.9l-5.6 5.9l-5.6 -5.9zM261.7 1179.2l5.6 5.9l-5.6 5.9l-5.6 -5.9zM263.5 1184.6l5.6 5.9l-5.6 5.9l-5.6 -5.9zM267.1 1138.6l5.6 5.9l-5.6 5.9l-5.6 -5.9zM271.6 1166.6l5.6 5.9l-5.6 5.9l-5.6 -5.9zM275.6 1167.5l5.6 5.9l-5.6 5.9l-5.6 -5.9zM278.8 1203l5.6 5.9l-5.6 5.9l-5.6 -5.9zM282.1 1164.4l5.6 5.9l-5.6 5.9l-5.6 -5.9zM286.4 1174.7l5.6 5.9l-5.6 5.9l-5.6 -5.9zM290.6 1177.4l5.6 5.9l-5.6 5.9l-5.6 -5.9zM295.4 1161.5l5.6 5.9l-5.6 5.9l-5.6 -5.9zM299.6 1187.3l5.6 5.9l-5.6 5.9l-5.6 -5.9zM303.7 1183.7l5.6 5.9l-5.6 5.9l-5.6 -5.9zM307.7 1164.8l5.6 5.9l-5.6 5.9l-5.6 -5.9zM312.8 1166.6l5.6 5.9l-5.6 5.9l-5.6 -5.9zM314.6 1173.5l5.6 5.9l-5.6 5.9l-5.6 -5.9zM317.8 1197l5.6 5.9l-5.6 5.9l-5.6 -5.9zM320.6 1149.5l5.6 5.9l-5.6 5.9l-5.6 -5.9zM328.5 1177.7l5.6 5.9l-5.6 5.9l-5.6 -5.9zM332.8 1160.8l5.6 5.9l-5.6 5.9l-5.6 -5.9zM337.5 1145.4l5.6 5.9l-5.6 5.9l-5.6 -5.9zM341.6 1135.6l5.6 5.9l-5.6 5.9l-5.6 -5.9zM345.4 1189.5l5.6 5.9l-5.6 5.9l-5.6 -5.9zM354.4 1173.2l5.6 5.9l-5.6 5.9l-5.6 -5.9zM359.1 1182.5l5.6 5.9l-5.6 5.9l-5.6 -5.9zM364.2 1147.6l5.6 5.9l-5.6 5.9l-5.6 -5.9zM369.8 1127l5.6 5.9l-5.6 5.9l-5.6 -5.9zM373.2 1173.2l5.6 5.9l-5.6 5.9l-5.6 -5.9zM382.5 1181.4l5.6 5.9l-5.6 5.9l-5.6 -5.9zM390.4 1197.5l5.6 5.9l-5.6 5.9l-5.6 -5.9zM397.2 1081.2l5.6 5.9l-5.6 5.9l-5.6 -5.9zM402.2 1162.7l5.6 5.9l-5.6 5.9l-5.6 -5.9zM412.2 1154.4l5.6 5.9l-5.6 5.9l-5.6 -5.9zM417.2 1121.4l5.6 5.9l-5.6 5.9l-5.6 -5.9zM421.9 1120.1l5.6 5.9l-5.6 5.9l-5.6 -5.9zM424.7 1182.9l5.6 5.9l-5.6 5.9l-5.6 -5.9zM432.8 1172.6l5.6 5.9l-5.6 5.9l-5.6 -5.9zM439.8 1162.3l5.6 5.9l-5.6 5.9l-5.6 -5.9zM445.4 1160l5.6 5.9l-5.6 5.9l-5.6 -5.9zM442.6 1209.2l5.6 5.9l-5.6 5.9l-5.6 -5.9zM453.4 1146l5.6 5.9l-5.6 5.9l-5.6 -5.9zM468.5 1233.2l5.6 5.9l-5.6 5.9l-5.6 -5.9zM473 1071.9l5.6 5.9l-5.6 5.9l-5.6 -5.9zM477.8 1170.2l5.6 5.9l-5.6 5.9l-5.6 -5.9zM481.6 1156.7l5.6 5.9l-5.6 5.9l-5.6 -5.9zM486.7 1222.3l5.6 5.9l-5.6 5.9l-5.6 -5.9z" fill="#0567b0"/>
<circle cx="71.1" cy="1309.6" r="4.8" fill="#ec218e"/>
<circle cx="76.5" cy="1334.4" r="4.8" fill="#ec218e"/>
<circle cx="82.6" cy="1325.8" r="4.8" fill="#ec218e"/>
<circle cx="88.5" cy="1334.4" r="4.8" fill="#ec218e"/>
<circle cx="94.5" cy="1290.6" r="4.8" fill="#ec218e"/>
<circle cx="99.9" cy="1324.3" r="4.8" fill="#ec218e"/>
<circle cx="105.7" cy="1314.6" r="4.8" fill="#ec218e"/>
<circle cx="111.5" cy="1319.5" r="4.8" fill="#ec218e"/>
<circle cx="117.9" cy="1311.7" r="4.8" fill="#ec218e"/>
<circle cx="123.7" cy="1295.1" r="4.8" fill="#ec218e"/>
<circle cx="129.5" cy="1301.4" r="4.8" fill="#ec218e"/>
<circle cx="135.4" cy="1302.7" r="4.8" fill="#ec218e"/>
<circle cx="141.4" cy="1295.1" r="4.8" fill="#ec218e"/>
<circle cx="176" cy="1309.6" r="4.8" fill="#ec218e"/>
<circle cx="180.5" cy="1314.6" r="4.8" fill="#ec218e"/>
<circle cx="184.7" cy="1319.5" r="4.8" fill="#ec218e"/>
<circle cx="188.3" cy="1299.1" r="4.8" fill="#ec218e"/>
<circle cx="192.3" cy="1315.9" r="4.8" fill="#ec218e"/>
<circle cx="196.2" cy="1323.1" r="4.8" fill="#ec218e"/>
<circle cx="199.8" cy="1298.7" r="4.8" fill="#ec218e"/>
<circle cx="204" cy="1308.7" r="4.8" fill="#ec218e"/>
<circle cx="208.5" cy="1305" r="4.8" fill="#ec218e"/>
<circle cx="213.5" cy="1291.5" r="4.8" fill="#ec218e"/>
<circle cx="217.9" cy="1319.5" r="4.8" fill="#ec218e"/>
<circle cx="222" cy="1311.4" r="4.8" fill="#ec218e"/>
<circle cx="225.6" cy="1309.6" r="4.8" fill="#ec218e"/>
<circle cx="230.1" cy="1305.6" r="4.8" fill="#ec218e"/>
<circle cx="233.4" cy="1284.3" r="4.8" fill="#ec218e"/>
<circle cx="237.4" cy="1318.6" r="4.8" fill="#ec218e"/>
<circle cx="240.6" cy="1294.2" r="4.8" fill="#ec218e"/>
<circle cx="244.6" cy="1303.2" r="4.8" fill="#ec218e"/>
<circle cx="248.5" cy="1316.8" r="4.8" fill="#ec218e"/>
<circle cx="252.7" cy="1305.9" r="4.8" fill="#ec218e"/>
<circle cx="255.8" cy="1309.6" r="4.8" fill="#ec218e"/>
<circle cx="258.6" cy="1314.6" r="4.8" fill="#ec218e"/>
<circle cx="261.7" cy="1302.3" r="4.8" fill="#ec218e"/>
<circle cx="264.1" cy="1296.6" r="4.8" fill="#ec218e"/>
<circle cx="267.1" cy="1342.9" r="4.8" fill="#ec218e"/>
<circle cx="271.6" cy="1315" r="4.8" fill="#ec218e"/>
<circle cx="275.6" cy="1315" r="4.8" fill="#ec218e"/>
<circle cx="278.8" cy="1278.9" r="4.8" fill="#ec218e"/>
<circle cx="282.5" cy="1317.7" r="4.8" fill="#ec218e"/>
<circle cx="286.4" cy="1305.9" r="4.8" fill="#ec218e"/>
<circle cx="290.6" cy="1304.1" r="4.8" fill="#ec218e"/>
<circle cx="295.4" cy="1319.5" r="4.8" fill="#ec218e"/>
<circle cx="299.6" cy="1293.3" r="4.8" fill="#ec218e"/>
<circle cx="303.7" cy="1298.7" r="4.8" fill="#ec218e"/>
<circle cx="307.7" cy="1315.9" r="4.8" fill="#ec218e"/>
<circle cx="312.8" cy="1315.9" r="4.8" fill="#ec218e"/>
<circle cx="315" cy="1307.9" r="4.8" fill="#ec218e"/>
<circle cx="318.4" cy="1284.1" r="4.8" fill="#ec218e"/>
<circle cx="320.6" cy="1331.4" r="4.8" fill="#ec218e"/>
<circle cx="328.5" cy="1303.2" r="4.8" fill="#ec218e"/>
<circle cx="332.3" cy="1320.5" r="4.8" fill="#ec218e"/>
<circle cx="337.5" cy="1336.1" r="4.8" fill="#ec218e"/>
<circle cx="341.6" cy="1346" r="4.8" fill="#ec218e"/>
<circle cx="345.4" cy="1292.4" r="4.8" fill="#ec218e"/>
<circle cx="354.4" cy="1307.9" r="4.8" fill="#ec218e"/>
<circle cx="359.1" cy="1299.1" r="4.8" fill="#ec218e"/>
<circle cx="364.2" cy="1333.6" r="4.8" fill="#ec218e"/>
<circle cx="369.8" cy="1353.9" r="4.8" fill="#ec218e"/>
<circle cx="373.2" cy="1307.9" r="4.8" fill="#ec218e"/>
<circle cx="382.5" cy="1300.4" r="4.8" fill="#ec218e"/>
<circle cx="390.4" cy="1283.5" r="4.8" fill="#ec218e"/>
<circle cx="397.2" cy="1399.9" r="4.8" fill="#ec218e"/>
<circle cx="402.2" cy="1318.6" r="4.8" fill="#ec218e"/>
<circle cx="412.2" cy="1326.7" r="4.8" fill="#ec218e"/>
<circle cx="417.2" cy="1359.1" r="4.8" fill="#ec218e"/>
<circle cx="421.9" cy="1361" r="4.8" fill="#ec218e"/>
<circle cx="424.7" cy="1298.6" r="4.8" fill="#ec218e"/>
<circle cx="432.8" cy="1308.9" r="4.8" fill="#ec218e"/>
<circle cx="439.8" cy="1319.2" r="4.8" fill="#ec218e"/>
<circle cx="446.3" cy="1321.1" r="4.8" fill="#ec218e"/>
<circle cx="442.6" cy="1272.3" r="4.8" fill="#ec218e"/>
<circle cx="453.4" cy="1335.1" r="4.8" fill="#ec218e"/>
<circle cx="468.5" cy="1247.3" r="4.8" fill="#ec218e"/>
<circle cx="473" cy="1409.2" r="4.8" fill="#ec218e"/>
<circle cx="477.8" cy="1311.1" r="4.8" fill="#ec218e"/>
<circle cx="481.6" cy="1324.8" r="4.8" fill="#ec218e"/>
<circle cx="486.7" cy="1259.2" r="4.8" fill="#ec218e"/>
<path d="M111.1 1381.2l5.6 5.9l-5.6 5.9l-5.6 -5.9z" fill="#0567b0"/>
<circle cx="111.1" cy="1413.6" r="4.8" fill="#ec218e"/>
<text class="lg" transform="translate(136.4 1392.5) scale(1.060 1)">Mol% CH<tspan class="sb" dy="5.4">4</tspan></text>
<text class="lg" transform="translate(136.4 1419.7) scale(1.060 1)">Mol% C<tspan class="sb" dy="5">3</tspan><tspan dy="-5">H</tspan><tspan class="sb" dy="5">8</tspan></text>
<text class="tt" transform="translate(1.9 1026.9) scale(1.190 1)">(c)</text>
<text class="tt" transform="translate(50 1026.9) scale(1.190 1)">Sediment</text>
<text class="tt" transform="translate(204.4 1026.9) scale(1.190 1)">3</text>
<path d="M801 1400.4H1278.7M801 1361H1278.7M801 1321.7H1278.7M801 1282.4H1278.7M801 1243.1H1278.7M801 1203.7H1278.7M801 1164.4H1278.7M801 1125.1H1278.7M801 1085.7H1278.7" stroke="#9c9c9c" stroke-width="1.4" stroke-dasharray="4.8 4.58" fill="none"/>
<path d="M791.9 1439.7h7M1280.7 1439.7h-7M791.9 1420h3.5M1280.7 1420h-3.5M791.9 1400.4h7M1280.7 1400.4h-7M791.9 1380.7h3.5M1280.7 1380.7h-3.5M791.9 1361h7M1280.7 1361h-7M791.9 1341.4h3.5M1280.7 1341.4h-3.5M791.9 1321.7h7M1280.7 1321.7h-7M791.9 1302h3.5M1280.7 1302h-3.5M791.9 1282.4h7M1280.7 1282.4h-7M791.9 1262.7h3.5M1280.7 1262.7h-3.5M791.9 1243.1h7M1280.7 1243.1h-7M791.9 1223.4h3.5M1280.7 1223.4h-3.5M791.9 1203.7h7M1280.7 1203.7h-7M791.9 1184.1h3.5M1280.7 1184.1h-3.5M791.9 1164.4h7M1280.7 1164.4h-7M791.9 1144.7h3.5M1280.7 1144.7h-3.5M791.9 1125.1h7M1280.7 1125.1h-7M791.9 1105.4h3.5M1280.7 1105.4h-3.5M791.9 1085.7h7M1280.7 1085.7h-7M791.9 1066.1h3.5M1280.7 1066.1h-3.5M791.9 1046.4h7M1280.7 1046.4h-7M791.9 1439.7v-7M791.9 1046.4v7M840.8 1439.7v-3.5M840.8 1046.4v3.5M889.7 1439.7v-7M889.7 1046.4v7M938.5 1439.7v-3.5M938.5 1046.4v3.5M987.4 1439.7v-7M987.4 1046.4v7M1036.3 1439.7v-3.5M1036.3 1046.4v3.5M1085.2 1439.7v-7M1085.2 1046.4v7M1134.1 1439.7v-3.5M1134.1 1046.4v3.5M1182.9 1439.7v-7M1182.9 1046.4v7M1231.8 1439.7v-3.5M1231.8 1046.4v3.5M1280.7 1439.7v-7M1280.7 1046.4v7" stroke="#353535" stroke-width="1.8" fill="none"/>
<rect x="791.9" y="1046.4" width="488.8" height="393.3" fill="none" stroke="#353535" stroke-width="2"/>
<text class="tk" text-anchor="end" transform="translate(782.9 1445.3)">0</text>
<text class="tk" text-anchor="end" transform="translate(782.9 1406)">10</text>
<text class="tk" text-anchor="end" transform="translate(782.9 1366.6)">20</text>
<text class="tk" text-anchor="end" transform="translate(782.9 1327.3)">30</text>
<text class="tk" text-anchor="end" transform="translate(782.9 1288)">40</text>
<text class="tk" text-anchor="end" transform="translate(782.9 1248.7)">50</text>
<text class="tk" text-anchor="end" transform="translate(782.9 1209.3)">60</text>
<text class="tk" text-anchor="end" transform="translate(782.9 1170)">70</text>
<text class="tk" text-anchor="end" transform="translate(782.9 1130.7)">80</text>
<text class="tk" text-anchor="end" transform="translate(782.9 1091.3)">90</text>
<text class="tk" text-anchor="end" transform="translate(782.9 1052)">100</text>
<text class="tk" text-anchor="middle" transform="translate(791.9 1461.3)">0</text>
<text class="tk" text-anchor="middle" transform="translate(889.7 1461.3)">100</text>
<text class="tk" text-anchor="middle" transform="translate(987.4 1461.3)">200</text>
<text class="tk" text-anchor="middle" transform="translate(1085.2 1461.3)">300</text>
<text class="tk" text-anchor="middle" transform="translate(1182.9 1461.3)">400</text>
<text class="tk" text-anchor="middle" transform="translate(1280.7 1461.3)">500</text>
<text class="ax" text-anchor="middle" transform="translate(746.3 1243.1) rotate(-90) scale(1.035 1)">Percentage (%)</text>
<text class="ax" text-anchor="middle" transform="translate(1036.3 1492.8) scale(1.045 1)">Time (min)</text>
<text class="run" transform="translate(1291.7 1437.6) scale(1.020 1)">Run 2</text>
<path d="M1038.2 1123.8V1361" stroke="#3d8271" stroke-width="2.8" stroke-dasharray="3 4" fill="none"/>
<path d="M1038.7 1054.5V1079" stroke="#4b9684" stroke-width="3.4" fill="none"/>
<path d="M1029.6 1076.5L1047.8 1076.5L1038.7 1093Z" fill="#4b9684"/>
<text class="mpa" text-anchor="middle" transform="translate(1048.9 1115.6)">1.4 MPa</text>
<path d="M1135.8 1106.1L1159.2 1098.4" stroke="#e5232b" stroke-width="3.4" fill="none"/>
<path d="M1172 1094.2L1160 1107.3L1154.6 1090.8Z" fill="#e5232b"/>
<path d="M1137.1 1213.7L1160.6 1220.9" stroke="#e5232b" stroke-width="3.4" fill="none"/>
<path d="M1173.5 1224.8L1156.1 1228.6L1161.2 1212Z" fill="#e5232b"/>
<path d="M1135.8 1268L1158.7 1259.4" stroke="#e5232b" stroke-width="3.4" fill="none"/>
<path d="M1171.3 1254.6L1159.9 1268.2L1153.7 1251.9Z" fill="#e5232b"/>
<path d="M1136.7 1382.1L1160.2 1389.2" stroke="#e5232b" stroke-width="3.4" fill="none"/>
<path d="M1173.1 1393.1L1155.7 1396.9L1160.8 1380.3Z" fill="#e5232b"/>
<path d="M791.4 1158.3l5.6 5.9l-5.6 5.9l-5.6 -5.9zM796.5 1153.8l5.6 5.9l-5.6 5.9l-5.6 -5.9zM801.3 1161l5.6 5.9l-5.6 5.9l-5.6 -5.9zM805.8 1142.1l5.6 5.9l-5.6 5.9l-5.6 -5.9zM811.3 1156.5l5.6 5.9l-5.6 5.9l-5.6 -5.9zM815.8 1147.5l5.6 5.9l-5.6 5.9l-5.6 -5.9zM820.3 1149.3l5.6 5.9l-5.6 5.9l-5.6 -5.9zM824.8 1145.7l5.6 5.9l-5.6 5.9l-5.6 -5.9zM829.3 1146.6l5.6 5.9l-5.6 5.9l-5.6 -5.9zM832.5 1146.6l5.6 5.9l-5.6 5.9l-5.6 -5.9zM835.1 1161.9l5.6 5.9l-5.6 5.9l-5.6 -5.9zM840.1 1159.2l5.6 5.9l-5.6 5.9l-5.6 -5.9zM843.7 1157.4l5.6 5.9l-5.6 5.9l-5.6 -5.9zM847 1154.7l5.6 5.9l-5.6 5.9l-5.6 -5.9zM850 1160.1l5.6 5.9l-5.6 5.9l-5.6 -5.9zM854.5 1159.2l5.6 5.9l-5.6 5.9l-5.6 -5.9zM859.6 1137.5l5.6 5.9l-5.6 5.9l-5.6 -5.9zM865 1156.5l5.6 5.9l-5.6 5.9l-5.6 -5.9zM869.3 1170.9l5.6 5.9l-5.6 5.9l-5.6 -5.9zM875.3 1155.6l5.6 5.9l-5.6 5.9l-5.6 -5.9zM879.8 1160.1l5.6 5.9l-5.6 5.9l-5.6 -5.9zM885.2 1161l5.6 5.9l-5.6 5.9l-5.6 -5.9zM890.3 1147.5l5.6 5.9l-5.6 5.9l-5.6 -5.9zM894.6 1171.5l5.6 5.9l-5.6 5.9l-5.6 -5.9zM900 1152.9l5.6 5.9l-5.6 5.9l-5.6 -5.9zM904.7 1161l5.6 5.9l-5.6 5.9l-5.6 -5.9zM910.5 1154.7l5.6 5.9l-5.6 5.9l-5.6 -5.9zM915.5 1167.9l5.6 5.9l-5.6 5.9l-5.6 -5.9zM920.4 1157.4l5.6 5.9l-5.6 5.9l-5.6 -5.9zM925.2 1154.7l5.6 5.9l-5.6 5.9l-5.6 -5.9zM930.3 1158.3l5.6 5.9l-5.6 5.9l-5.6 -5.9zM934.8 1151.1l5.6 5.9l-5.6 5.9l-5.6 -5.9zM939.3 1155.6l5.6 5.9l-5.6 5.9l-5.6 -5.9zM943.8 1161.9l5.6 5.9l-5.6 5.9l-5.6 -5.9zM948.3 1156.5l5.6 5.9l-5.6 5.9l-5.6 -5.9zM952.8 1157.4l5.6 5.9l-5.6 5.9l-5.6 -5.9zM957 1158.3l5.6 5.9l-5.6 5.9l-5.6 -5.9zM961.9 1155.6l5.6 5.9l-5.6 5.9l-5.6 -5.9zM966.4 1157l5.6 5.9l-5.6 5.9l-5.6 -5.9zM970 1157.4l5.6 5.9l-5.6 5.9l-5.6 -5.9zM974.5 1171.8l5.6 5.9l-5.6 5.9l-5.6 -5.9zM979 1163.2l5.6 5.9l-5.6 5.9l-5.6 -5.9zM983.5 1158.3l5.6 5.9l-5.6 5.9l-5.6 -5.9zM988.9 1158.3l5.6 5.9l-5.6 5.9l-5.6 -5.9zM994.3 1154.7l5.6 5.9l-5.6 5.9l-5.6 -5.9zM999.2 1152.9l5.6 5.9l-5.6 5.9l-5.6 -5.9zM1003.9 1166l5.6 5.9l-5.6 5.9l-5.6 -5.9zM1008.8 1157.4l5.6 5.9l-5.6 5.9l-5.6 -5.9zM1013.3 1147.5l5.6 5.9l-5.6 5.9l-5.6 -5.9zM1017.8 1154.7l5.6 5.9l-5.6 5.9l-5.6 -5.9zM1022.7 1161.4l5.6 5.9l-5.6 5.9l-5.6 -5.9zM1027.7 1155.6l5.6 5.9l-5.6 5.9l-5.6 -5.9zM1032.8 1153.8l5.6 5.9l-5.6 5.9l-5.6 -5.9zM1037.4 1155.4l5.6 5.9l-5.6 5.9l-5.6 -5.9zM1041 1175.6l5.6 5.9l-5.6 5.9l-5.6 -5.9zM1045.6 1147.5l5.6 5.9l-5.6 5.9l-5.6 -5.9zM1049.3 1149l5.6 5.9l-5.6 5.9l-5.6 -5.9zM1053 1165.5l5.6 5.9l-5.6 5.9l-5.6 -5.9zM1057.6 1162.8l5.6 5.9l-5.6 5.9l-5.6 -5.9zM1061.3 1159.6l5.6 5.9l-5.6 5.9l-5.6 -5.9zM1065.3 1202.3l5.6 5.9l-5.6 5.9l-5.6 -5.9zM1070.1 1179.9l5.6 5.9l-5.6 5.9l-5.6 -5.9zM1074.2 1184.8l5.6 5.9l-5.6 5.9l-5.6 -5.9zM1078.2 1173.8l5.6 5.9l-5.6 5.9l-5.6 -5.9zM1082.4 1160l5.6 5.9l-5.6 5.9l-5.6 -5.9zM1086.1 1156.3l5.6 5.9l-5.6 5.9l-5.6 -5.9zM1089.8 1162.8l5.6 5.9l-5.6 5.9l-5.6 -5.9zM1093.5 1166.4l5.6 5.9l-5.6 5.9l-5.6 -5.9zM1099.5 1127.8l5.6 5.9l-5.6 5.9l-5.6 -5.9zM1104.5 1174.7l5.6 5.9l-5.6 5.9l-5.6 -5.9zM1108.2 1160.4l5.6 5.9l-5.6 5.9l-5.6 -5.9zM1112.4 1159.1l5.6 5.9l-5.6 5.9l-5.6 -5.9zM1116.1 1143.8l5.6 5.9l-5.6 5.9l-5.6 -5.9zM1120.2 1164.6l5.6 5.9l-5.6 5.9l-5.6 -5.9zM1124.2 1176.9l5.6 5.9l-5.6 5.9l-5.6 -5.9zM1129 1175.1l5.6 5.9l-5.6 5.9l-5.6 -5.9zM1132.7 1154.5l5.6 5.9l-5.6 5.9l-5.6 -5.9zM1136.7 1133.9l5.6 5.9l-5.6 5.9l-5.6 -5.9zM1140.4 1153.6l5.6 5.9l-5.6 5.9l-5.6 -5.9zM1145 1149l5.6 5.9l-5.6 5.9l-5.6 -5.9zM1148.7 1161.5l5.6 5.9l-5.6 5.9l-5.6 -5.9zM1152.3 1172.9l5.6 5.9l-5.6 5.9l-5.6 -5.9zM1156.9 1173.8l5.6 5.9l-5.6 5.9l-5.6 -5.9zM1160.3 1143.1l5.6 5.9l-5.6 5.9l-5.6 -5.9zM1163.9 1106.7l5.6 5.9l-5.6 5.9l-5.6 -5.9zM1167.6 1199.6l5.6 5.9l-5.6 5.9l-5.6 -5.9zM1172 1270.8l5.6 5.9l-5.6 5.9l-5.6 -5.9zM1175.7 1160.9l5.6 5.9l-5.6 5.9l-5.6 -5.9zM1179.9 1101.5l5.6 5.9l-5.6 5.9l-5.6 -5.9zM1185.5 1259.7l5.6 5.9l-5.6 5.9l-5.6 -5.9zM1194.3 1152.6l5.6 5.9l-5.6 5.9l-5.6 -5.9zM1199.3 1143.1l5.6 5.9l-5.6 5.9l-5.6 -5.9zM1204.4 1189.1l5.6 5.9l-5.6 5.9l-5.6 -5.9zM1208.8 1173.3l5.6 5.9l-5.6 5.9l-5.6 -5.9zM1214 1151.7l5.6 5.9l-5.6 5.9l-5.6 -5.9zM1219.1 1111.8l5.6 5.9l-5.6 5.9l-5.6 -5.9zM1223.5 1170.7l5.6 5.9l-5.6 5.9l-5.6 -5.9zM1228.7 1264l5.6 5.9l-5.6 5.9l-5.6 -5.9z" fill="#0567b0"/>
<circle cx="791.4" cy="1321.1" r="4.8" fill="#ec218e"/>
<circle cx="796.5" cy="1326.5" r="4.8" fill="#ec218e"/>
<circle cx="801.3" cy="1319.9" r="4.8" fill="#ec218e"/>
<circle cx="805.8" cy="1338.6" r="4.8" fill="#ec218e"/>
<circle cx="810.9" cy="1324.2" r="4.8" fill="#ec218e"/>
<circle cx="815.8" cy="1332.8" r="4.8" fill="#ec218e"/>
<circle cx="820.3" cy="1330.7" r="4.8" fill="#ec218e"/>
<circle cx="824.8" cy="1334.6" r="4.8" fill="#ec218e"/>
<circle cx="829.3" cy="1334.6" r="4.8" fill="#ec218e"/>
<circle cx="832.5" cy="1334.3" r="4.8" fill="#ec218e"/>
<circle cx="835.6" cy="1318.4" r="4.8" fill="#ec218e"/>
<circle cx="840.1" cy="1322" r="4.8" fill="#ec218e"/>
<circle cx="845.5" cy="1325.6" r="4.8" fill="#ec218e"/>
<circle cx="850" cy="1321.7" r="4.8" fill="#ec218e"/>
<circle cx="854.5" cy="1321.7" r="4.8" fill="#ec218e"/>
<circle cx="859.6" cy="1343.3" r="4.8" fill="#ec218e"/>
<circle cx="864.5" cy="1324.2" r="4.8" fill="#ec218e"/>
<circle cx="869.3" cy="1309.8" r="4.8" fill="#ec218e"/>
<circle cx="875.3" cy="1324.2" r="4.8" fill="#ec218e"/>
<circle cx="879.8" cy="1321.1" r="4.8" fill="#ec218e"/>
<circle cx="884.8" cy="1319.9" r="4.8" fill="#ec218e"/>
<circle cx="889.7" cy="1333.2" r="4.8" fill="#ec218e"/>
<circle cx="894.6" cy="1309.8" r="4.8" fill="#ec218e"/>
<circle cx="899.6" cy="1327.1" r="4.8" fill="#ec218e"/>
<circle cx="904.7" cy="1319.3" r="4.8" fill="#ec218e"/>
<circle cx="910.5" cy="1325.6" r="4.8" fill="#ec218e"/>
<circle cx="915.5" cy="1312.6" r="4.8" fill="#ec218e"/>
<circle cx="920.4" cy="1323.8" r="4.8" fill="#ec218e"/>
<circle cx="925.2" cy="1326" r="4.8" fill="#ec218e"/>
<circle cx="930.3" cy="1322" r="4.8" fill="#ec218e"/>
<circle cx="934.8" cy="1329.6" r="4.8" fill="#ec218e"/>
<circle cx="939.3" cy="1323.8" r="4.8" fill="#ec218e"/>
<circle cx="943.8" cy="1318.1" r="4.8" fill="#ec218e"/>
<circle cx="948.3" cy="1323.5" r="4.8" fill="#ec218e"/>
<circle cx="952.8" cy="1323.8" r="4.8" fill="#ec218e"/>
<circle cx="957.4" cy="1322.4" r="4.8" fill="#ec218e"/>
<circle cx="961.9" cy="1324.7" r="4.8" fill="#ec218e"/>
<circle cx="966.4" cy="1323.8" r="4.8" fill="#ec218e"/>
<circle cx="970" cy="1323.5" r="4.8" fill="#ec218e"/>
<circle cx="974.5" cy="1309" r="4.8" fill="#ec218e"/>
<circle cx="979" cy="1316.6" r="4.8" fill="#ec218e"/>
<circle cx="984.4" cy="1322.9" r="4.8" fill="#ec218e"/>
<circle cx="988.9" cy="1322" r="4.8" fill="#ec218e"/>
<circle cx="993.4" cy="1325.6" r="4.8" fill="#ec218e"/>
<circle cx="998.8" cy="1327.8" r="4.8" fill="#ec218e"/>
<circle cx="1003.9" cy="1314.8" r="4.8" fill="#ec218e"/>
<circle cx="1008.8" cy="1322.4" r="4.8" fill="#ec218e"/>
<circle cx="1013.3" cy="1331.9" r="4.8" fill="#ec218e"/>
<circle cx="1017.8" cy="1324.2" r="4.8" fill="#ec218e"/>
<circle cx="1022.7" cy="1318.4" r="4.8" fill="#ec218e"/>
<circle cx="1027.7" cy="1325.6" r="4.8" fill="#ec218e"/>
<circle cx="1032.8" cy="1327.1" r="4.8" fill="#ec218e"/>
<circle cx="1037.4" cy="1325.1" r="4.8" fill="#ec218e"/>
<circle cx="1040.7" cy="1304.8" r="4.8" fill="#ec218e"/>
<circle cx="1044.4" cy="1332.4" r="4.8" fill="#ec218e"/>
<circle cx="1048.4" cy="1331.9" r="4.8" fill="#ec218e"/>
<circle cx="1052.4" cy="1314.9" r="4.8" fill="#ec218e"/>
<circle cx="1057.2" cy="1317.7" r="4.8" fill="#ec218e"/>
<circle cx="1061.3" cy="1320.8" r="4.8" fill="#ec218e"/>
<circle cx="1065.3" cy="1278.1" r="4.8" fill="#ec218e"/>
<circle cx="1069.6" cy="1300.6" r="4.8" fill="#ec218e"/>
<circle cx="1074.2" cy="1295.6" r="4.8" fill="#ec218e"/>
<circle cx="1078.2" cy="1306.7" r="4.8" fill="#ec218e"/>
<circle cx="1081.5" cy="1319.5" r="4.8" fill="#ec218e"/>
<circle cx="1085.2" cy="1324.1" r="4.8" fill="#ec218e"/>
<circle cx="1089.2" cy="1317.7" r="4.8" fill="#ec218e"/>
<circle cx="1093.5" cy="1314.9" r="4.8" fill="#ec218e"/>
<circle cx="1099.5" cy="1352.7" r="4.8" fill="#ec218e"/>
<circle cx="1104.5" cy="1306.1" r="4.8" fill="#ec218e"/>
<circle cx="1108.2" cy="1319" r="4.8" fill="#ec218e"/>
<circle cx="1112.4" cy="1321.9" r="4.8" fill="#ec218e"/>
<circle cx="1116.1" cy="1336.6" r="4.8" fill="#ec218e"/>
<circle cx="1120.2" cy="1316.4" r="4.8" fill="#ec218e"/>
<circle cx="1124.2" cy="1303.9" r="4.8" fill="#ec218e"/>
<circle cx="1129.4" cy="1305.7" r="4.8" fill="#ec218e"/>
<circle cx="1132.7" cy="1325.1" r="4.8" fill="#ec218e"/>
<circle cx="1136.7" cy="1346.6" r="4.8" fill="#ec218e"/>
<circle cx="1140.4" cy="1326" r="4.8" fill="#ec218e"/>
<circle cx="1144.4" cy="1331.5" r="4.8" fill="#ec218e"/>
<circle cx="1148.7" cy="1319" r="4.8" fill="#ec218e"/>
<circle cx="1152.3" cy="1307.9" r="4.8" fill="#ec218e"/>
<circle cx="1156.9" cy="1306.7" r="4.8" fill="#ec218e"/>
<circle cx="1160.3" cy="1337.4" r="4.8" fill="#ec218e"/>
<circle cx="1163.9" cy="1373.8" r="4.8" fill="#ec218e"/>
<circle cx="1168" cy="1280" r="4.8" fill="#ec218e"/>
<circle cx="1172" cy="1210.1" r="4.8" fill="#ec218e"/>
<circle cx="1175.7" cy="1319.5" r="4.8" fill="#ec218e"/>
<circle cx="1179.9" cy="1379.3" r="4.8" fill="#ec218e"/>
<circle cx="1185.5" cy="1221.1" r="4.8" fill="#ec218e"/>
<circle cx="1194.7" cy="1327.8" r="4.8" fill="#ec218e"/>
<circle cx="1199.3" cy="1337" r="4.8" fill="#ec218e"/>
<circle cx="1204.4" cy="1291.4" r="4.8" fill="#ec218e"/>
<circle cx="1208.8" cy="1306.7" r="4.8" fill="#ec218e"/>
<circle cx="1214" cy="1328.7" r="4.8" fill="#ec218e"/>
<circle cx="1219.1" cy="1368.7" r="4.8" fill="#ec218e"/>
<circle cx="1223.5" cy="1309.4" r="4.8" fill="#ec218e"/>
<circle cx="1228.7" cy="1216.5" r="4.8" fill="#ec218e"/>
<circle cx="1189.2" cy="1185.8" r="4.8" fill="#ec218e"/>
<circle cx="1189.2" cy="1185.8" r="9.3" fill="none" stroke="#e5232b" stroke-width="2" stroke-dasharray="2 2.2"/>
<path d="M1189.7 1294.7l5.6 5.9l-5.6 5.9l-5.6 -5.9z" fill="#0567b0"/>
<circle cx="1189.7" cy="1300.6" r="9.3" fill="none" stroke="#e5232b" stroke-width="2" stroke-dasharray="2 2.2"/>
<path d="M874 1379.2l5.6 5.9l-5.6 5.9l-5.6 -5.9z" fill="#0567b0"/>
<circle cx="874" cy="1411.6" r="4.8" fill="#ec218e"/>
<text class="lg" transform="translate(899.3 1390.5) scale(1.060 1)">Mol% CH<tspan class="sb" dy="5.4">4</tspan></text>
<text class="lg" transform="translate(899.3 1417.7) scale(1.060 1)">Mol% C<tspan class="sb" dy="5">3</tspan><tspan dy="-5">H</tspan><tspan class="sb" dy="5">8</tspan></text>
<path d="M81.5 1896H558.7M81.5 1856.9H558.7M81.5 1817.8H558.7M81.5 1778.7H558.7M81.5 1739.7H558.7M81.5 1700.6H558.7M81.5 1661.5H558.7M81.5 1622.4H558.7M81.5 1583.3H558.7" stroke="#9c9c9c" stroke-width="1.4" stroke-dasharray="4.8 4.58" fill="none"/>
<path d="M72.4 1935.1h7M560.7 1935.1h-7M72.4 1915.6h3.5M560.7 1915.6h-3.5M72.4 1896h7M560.7 1896h-7M72.4 1876.5h3.5M560.7 1876.5h-3.5M72.4 1856.9h7M560.7 1856.9h-7M72.4 1837.4h3.5M560.7 1837.4h-3.5M72.4 1817.8h7M560.7 1817.8h-7M72.4 1798.3h3.5M560.7 1798.3h-3.5M72.4 1778.7h7M560.7 1778.7h-7M72.4 1759.2h3.5M560.7 1759.2h-3.5M72.4 1739.7h7M560.7 1739.7h-7M72.4 1720.1h3.5M560.7 1720.1h-3.5M72.4 1700.6h7M560.7 1700.6h-7M72.4 1681h3.5M560.7 1681h-3.5M72.4 1661.5h7M560.7 1661.5h-7M72.4 1641.9h3.5M560.7 1641.9h-3.5M72.4 1622.4h7M560.7 1622.4h-7M72.4 1602.8h3.5M560.7 1602.8h-3.5M72.4 1583.3h7M560.7 1583.3h-7M72.4 1563.7h3.5M560.7 1563.7h-3.5M72.4 1544.2h7M560.7 1544.2h-7M72.4 1935.1v-7M72.4 1544.2v7M107.3 1935.1v-3.5M107.3 1544.2v3.5M142.2 1935.1v-7M142.2 1544.2v7M177 1935.1v-3.5M177 1544.2v3.5M211.9 1935.1v-7M211.9 1544.2v7M246.8 1935.1v-3.5M246.8 1544.2v3.5M281.7 1935.1v-7M281.7 1544.2v7M316.6 1935.1v-3.5M316.6 1544.2v3.5M351.4 1935.1v-7M351.4 1544.2v7M386.3 1935.1v-3.5M386.3 1544.2v3.5M421.2 1935.1v-7M421.2 1544.2v7M456.1 1935.1v-3.5M456.1 1544.2v3.5M490.9 1935.1v-7M490.9 1544.2v7M525.8 1935.1v-3.5M525.8 1544.2v3.5M560.7 1935.1v-7M560.7 1544.2v7" stroke="#353535" stroke-width="1.8" fill="none"/>
<rect x="72.4" y="1544.2" width="488.3" height="390.9" fill="none" stroke="#353535" stroke-width="2"/>
<text class="tk" text-anchor="end" transform="translate(63.4 1940.7)">0</text>
<text class="tk" text-anchor="end" transform="translate(63.4 1901.6)">10</text>
<text class="tk" text-anchor="end" transform="translate(63.4 1862.5)">20</text>
<text class="tk" text-anchor="end" transform="translate(63.4 1823.4)">30</text>
<text class="tk" text-anchor="end" transform="translate(63.4 1784.3)">40</text>
<text class="tk" text-anchor="end" transform="translate(63.4 1745.2)">50</text>
<text class="tk" text-anchor="end" transform="translate(63.4 1706.2)">60</text>
<text class="tk" text-anchor="end" transform="translate(63.4 1667.1)">70</text>
<text class="tk" text-anchor="end" transform="translate(63.4 1628)">80</text>
<text class="tk" text-anchor="end" transform="translate(63.4 1588.9)">90</text>
<text class="tk" text-anchor="end" transform="translate(63.4 1549.8)">100</text>
<text class="tk" text-anchor="middle" transform="translate(72.4 1956.7)">0</text>
<text class="tk" text-anchor="middle" transform="translate(142.2 1956.7)">50</text>
<text class="tk" text-anchor="middle" transform="translate(211.9 1956.7)">100</text>
<text class="tk" text-anchor="middle" transform="translate(281.7 1956.7)">150</text>
<text class="tk" text-anchor="middle" transform="translate(351.4 1956.7)">200</text>
<text class="tk" text-anchor="middle" transform="translate(421.2 1956.7)">250</text>
<text class="tk" text-anchor="middle" transform="translate(490.9 1956.7)">300</text>
<text class="tk" text-anchor="middle" transform="translate(560.7 1956.7)">350</text>
<text class="ax" text-anchor="middle" transform="translate(26.8 1739.7) rotate(-90) scale(1.035 1)">Percentage (%)</text>
<text class="ax" text-anchor="middle" transform="translate(316.6 1988.2) scale(1.045 1)">Time (min)</text>
<text class="run" transform="translate(576.3 1933.5) scale(1.020 1)">Run 1</text>
<path d="M425.7 1620.8V1860" stroke="#3d8271" stroke-width="2.8" stroke-dasharray="3 4" fill="none"/>
<path d="M427.2 1552.5V1576" stroke="#4b9684" stroke-width="3.4" fill="none"/>
<path d="M418.1 1573.5L436.3 1573.5L427.2 1590Z" fill="#4b9684"/>
<text class="mpa" text-anchor="middle" transform="translate(434.2 1612.2)">1.3 MPa</text>
<path d="M71.8 1694.9l5.6 5.9l-5.6 5.9l-5.6 -5.9zM80.1 1689.5l5.6 5.9l-5.6 5.9l-5.6 -5.9zM88.5 1684.1l5.6 5.9l-5.6 5.9l-5.6 -5.9zM97 1673.6l5.6 5.9l-5.6 5.9l-5.6 -5.9zM105.3 1695.3l5.6 5.9l-5.6 5.9l-5.6 -5.9zM113.3 1694.4l5.6 5.9l-5.6 5.9l-5.6 -5.9zM121.9 1675.1l5.6 5.9l-5.6 5.9l-5.6 -5.9zM130.6 1666.4l5.6 5.9l-5.6 5.9l-5.6 -5.9zM142.7 1686.6l5.6 5.9l-5.6 5.9l-5.6 -5.9zM147.2 1690.2l5.6 5.9l-5.6 5.9l-5.6 -5.9zM151.1 1681.7l5.6 5.9l-5.6 5.9l-5.6 -5.9zM156.5 1694.4l5.6 5.9l-5.6 5.9l-5.6 -5.9zM163.4 1673.3l5.6 5.9l-5.6 5.9l-5.6 -5.9zM167.9 1670l5.6 5.9l-5.6 5.9l-5.6 -5.9zM173.9 1709.3l5.6 5.9l-5.6 5.9l-5.6 -5.9zM177.8 1690.8l5.6 5.9l-5.6 5.9l-5.6 -5.9zM181.4 1685.3l5.6 5.9l-5.6 5.9l-5.6 -5.9zM185.4 1685.3l5.6 5.9l-5.6 5.9l-5.6 -5.9zM190.1 1686.3l5.6 5.9l-5.6 5.9l-5.6 -5.9zM194.4 1673.6l5.6 5.9l-5.6 5.9l-5.6 -5.9zM198.6 1667.9l5.6 5.9l-5.6 5.9l-5.6 -5.9zM202.7 1704.3l5.6 5.9l-5.6 5.9l-5.6 -5.9zM208.5 1691.7l5.6 5.9l-5.6 5.9l-5.6 -5.9zM212.5 1671.5l5.6 5.9l-5.6 5.9l-5.6 -5.9zM216.6 1688.1l5.6 5.9l-5.6 5.9l-5.6 -5.9zM220.8 1683.5l5.6 5.9l-5.6 5.9l-5.6 -5.9zM224.7 1671.8l5.6 5.9l-5.6 5.9l-5.6 -5.9zM229.2 1674.5l5.6 5.9l-5.6 5.9l-5.6 -5.9zM232.8 1677.2l5.6 5.9l-5.6 5.9l-5.6 -5.9zM236.5 1679l5.6 5.9l-5.6 5.9l-5.6 -5.9zM240.1 1682.6l5.6 5.9l-5.6 5.9l-5.6 -5.9zM249.1 1688.1l5.6 5.9l-5.6 5.9l-5.6 -5.9zM257.2 1693.5l5.6 5.9l-5.6 5.9l-5.6 -5.9zM265.9 1681.7l5.6 5.9l-5.6 5.9l-5.6 -5.9zM274.3 1677.6l5.6 5.9l-5.6 5.9l-5.6 -5.9zM283.9 1684.4l5.6 5.9l-5.6 5.9l-5.6 -5.9zM291.5 1687.2l5.6 5.9l-5.6 5.9l-5.6 -5.9zM298.7 1684.1l5.6 5.9l-5.6 5.9l-5.6 -5.9zM306.8 1676.3l5.6 5.9l-5.6 5.9l-5.6 -5.9zM307.7 1685.9l5.6 5.9l-5.6 5.9l-5.6 -5.9zM313.1 1678.1l5.6 5.9l-5.6 5.9l-5.6 -5.9zM321.6 1668.2l5.6 5.9l-5.6 5.9l-5.6 -5.9zM328.5 1690.7l5.6 5.9l-5.6 5.9l-5.6 -5.9zM372.8 1700.1l5.6 5.9l-5.6 5.9l-5.6 -5.9zM376.9 1689.5l5.6 5.9l-5.6 5.9l-5.6 -5.9zM381 1675.1l5.6 5.9l-5.6 5.9l-5.6 -5.9zM385.9 1694.4l5.6 5.9l-5.6 5.9l-5.6 -5.9zM390.4 1673.8l5.6 5.9l-5.6 5.9l-5.6 -5.9zM395.3 1689.5l5.6 5.9l-5.6 5.9l-5.6 -5.9zM401.3 1690.1l5.6 5.9l-5.6 5.9l-5.6 -5.9zM406.6 1690.1l5.6 5.9l-5.6 5.9l-5.6 -5.9zM410.7 1692.5l5.6 5.9l-5.6 5.9l-5.6 -5.9zM414.4 1687.3l5.6 5.9l-5.6 5.9l-5.6 -5.9zM419.1 1683.5l5.6 5.9l-5.6 5.9l-5.6 -5.9zM423.4 1672.7l5.6 5.9l-5.6 5.9l-5.6 -5.9zM427.6 1693.9l5.6 5.9l-5.6 5.9l-5.6 -5.9zM434.1 1707l5.6 5.9l-5.6 5.9l-5.6 -5.9zM431.7 1693.3l5.6 5.9l-5.6 5.9l-5.6 -5.9zM438.8 1693.9l5.6 5.9l-5.6 5.9l-5.6 -5.9zM443.5 1696.3l5.6 5.9l-5.6 5.9l-5.6 -5.9zM459.5 1710.2l5.6 5.9l-5.6 5.9l-5.6 -5.9zM464.1 1687.7l5.6 5.9l-5.6 5.9l-5.6 -5.9zM468.8 1683.5l5.6 5.9l-5.6 5.9l-5.6 -5.9zM473.5 1682l5.6 5.9l-5.6 5.9l-5.6 -5.9zM479.1 1660.1l5.6 5.9l-5.6 5.9l-5.6 -5.9zM493.2 1657.7l5.6 5.9l-5.6 5.9l-5.6 -5.9zM497.3 1682l5.6 5.9l-5.6 5.9l-5.6 -5.9z" fill="#0567b0"/>
<circle cx="71.8" cy="1778.4" r="4.8" fill="#ec218e"/>
<circle cx="80.1" cy="1783.8" r="4.8" fill="#ec218e"/>
<circle cx="88.5" cy="1789.6" r="4.8" fill="#ec218e"/>
<circle cx="97" cy="1799.5" r="4.8" fill="#ec218e"/>
<circle cx="105.3" cy="1778.4" r="4.8" fill="#ec218e"/>
<circle cx="113.3" cy="1779.1" r="4.8" fill="#ec218e"/>
<circle cx="121.9" cy="1798.6" r="4.8" fill="#ec218e"/>
<circle cx="130.6" cy="1807.2" r="4.8" fill="#ec218e"/>
<circle cx="142.7" cy="1786.8" r="4.8" fill="#ec218e"/>
<circle cx="147.2" cy="1783.8" r="4.8" fill="#ec218e"/>
<circle cx="151.1" cy="1791" r="4.8" fill="#ec218e"/>
<circle cx="156.5" cy="1778.7" r="4.8" fill="#ec218e"/>
<circle cx="162.5" cy="1797.7" r="4.8" fill="#ec218e"/>
<circle cx="167.9" cy="1803.6" r="4.8" fill="#ec218e"/>
<circle cx="173.9" cy="1763.9" r="4.8" fill="#ec218e"/>
<circle cx="177.8" cy="1783.2" r="4.8" fill="#ec218e"/>
<circle cx="181.8" cy="1788.7" r="4.8" fill="#ec218e"/>
<circle cx="186.5" cy="1787.7" r="4.8" fill="#ec218e"/>
<circle cx="190.5" cy="1786.8" r="4.8" fill="#ec218e"/>
<circle cx="194.4" cy="1799.5" r="4.8" fill="#ec218e"/>
<circle cx="198.6" cy="1805.4" r="4.8" fill="#ec218e"/>
<circle cx="202.7" cy="1769.4" r="4.8" fill="#ec218e"/>
<circle cx="208.5" cy="1782" r="4.8" fill="#ec218e"/>
<circle cx="213" cy="1802.2" r="4.8" fill="#ec218e"/>
<circle cx="216.6" cy="1785" r="4.8" fill="#ec218e"/>
<circle cx="220.8" cy="1789.6" r="4.8" fill="#ec218e"/>
<circle cx="224.7" cy="1800.7" r="4.8" fill="#ec218e"/>
<circle cx="229.2" cy="1797.7" r="4.8" fill="#ec218e"/>
<circle cx="232.8" cy="1795" r="4.8" fill="#ec218e"/>
<circle cx="236.5" cy="1792.8" r="4.8" fill="#ec218e"/>
<circle cx="240.6" cy="1790.5" r="4.8" fill="#ec218e"/>
<circle cx="249.1" cy="1785.6" r="4.8" fill="#ec218e"/>
<circle cx="257.2" cy="1780.2" r="4.8" fill="#ec218e"/>
<circle cx="265.3" cy="1791.4" r="4.8" fill="#ec218e"/>
<circle cx="273.8" cy="1795.9" r="4.8" fill="#ec218e"/>
<circle cx="283.9" cy="1788.7" r="4.8" fill="#ec218e"/>
<circle cx="292.4" cy="1785" r="4.8" fill="#ec218e"/>
<circle cx="299.6" cy="1789.6" r="4.8" fill="#ec218e"/>
<circle cx="306.8" cy="1788.1" r="4.8" fill="#ec218e"/>
<circle cx="305.9" cy="1797.1" r="4.8" fill="#ec218e"/>
<circle cx="312.8" cy="1795" r="4.8" fill="#ec218e"/>
<circle cx="321.6" cy="1805.4" r="4.8" fill="#ec218e"/>
<circle cx="328.5" cy="1782.9" r="4.8" fill="#ec218e"/>
<circle cx="373.2" cy="1773.9" r="4.8" fill="#ec218e"/>
<circle cx="376.9" cy="1783.6" r="4.8" fill="#ec218e"/>
<circle cx="381" cy="1798.6" r="4.8" fill="#ec218e"/>
<circle cx="385.9" cy="1778.5" r="4.8" fill="#ec218e"/>
<circle cx="390.4" cy="1799.2" r="4.8" fill="#ec218e"/>
<circle cx="395.3" cy="1784.2" r="4.8" fill="#ec218e"/>
<circle cx="401.3" cy="1783.2" r="4.8" fill="#ec218e"/>
<circle cx="406.6" cy="1783.6" r="4.8" fill="#ec218e"/>
<circle cx="410.7" cy="1781" r="4.8" fill="#ec218e"/>
<circle cx="414.4" cy="1787" r="4.8" fill="#ec218e"/>
<circle cx="419.1" cy="1789.8" r="4.8" fill="#ec218e"/>
<circle cx="423.4" cy="1800.5" r="4.8" fill="#ec218e"/>
<circle cx="427.6" cy="1778.5" r="4.8" fill="#ec218e"/>
<circle cx="434.7" cy="1766.4" r="4.8" fill="#ec218e"/>
<circle cx="431.3" cy="1780.4" r="4.8" fill="#ec218e"/>
<circle cx="438.8" cy="1779.1" r="4.8" fill="#ec218e"/>
<circle cx="443.5" cy="1777.6" r="4.8" fill="#ec218e"/>
<circle cx="459.5" cy="1763" r="4.8" fill="#ec218e"/>
<circle cx="465.1" cy="1786.1" r="4.8" fill="#ec218e"/>
<circle cx="472.2" cy="1791.1" r="4.8" fill="#ec218e"/>
<circle cx="479.1" cy="1813.6" r="4.8" fill="#ec218e"/>
<circle cx="493.2" cy="1815.5" r="4.8" fill="#ec218e"/>
<circle cx="497.3" cy="1790.7" r="4.8" fill="#ec218e"/>
<path d="M408.8 1880.5l5.6 5.9l-5.6 5.9l-5.6 -5.9z" fill="#0567b0"/>
<circle cx="408.8" cy="1912.9" r="4.8" fill="#ec218e"/>
<text class="lg" transform="translate(434.1 1891.8) scale(1.060 1)">Mol% CH<tspan class="sb" dy="5.4">4</tspan></text>
<text class="lg" transform="translate(434.1 1919) scale(1.060 1)">Mol% C<tspan class="sb" dy="5">3</tspan><tspan dy="-5">H</tspan><tspan class="sb" dy="5">8</tspan></text>
<text class="tt" transform="translate(1.5 1526.9) scale(1.190 1)">(d)</text>
<text class="tt" transform="translate(52.6 1526.9) scale(1.190 1)">Sediment</text>
<text class="tt" transform="translate(206.6 1526.9) scale(1.190 1)">4</text>
<path d="M799.2 1894.9H1280.3M799.2 1855.7H1280.3M799.2 1816.6H1280.3M799.2 1777.4H1280.3M799.2 1738.3H1280.3M799.2 1699.2H1280.3M799.2 1660H1280.3M799.2 1620.9H1280.3M799.2 1581.7H1280.3" stroke="#9c9c9c" stroke-width="1.4" stroke-dasharray="4.8 4.58" fill="none"/>
<path d="M790.1 1934h7M1282.3 1934h-7M790.1 1914.4h3.5M1282.3 1914.4h-3.5M790.1 1894.9h7M1282.3 1894.9h-7M790.1 1875.3h3.5M1282.3 1875.3h-3.5M790.1 1855.7h7M1282.3 1855.7h-7M790.1 1836.2h3.5M1282.3 1836.2h-3.5M790.1 1816.6h7M1282.3 1816.6h-7M790.1 1797h3.5M1282.3 1797h-3.5M790.1 1777.4h7M1282.3 1777.4h-7M790.1 1757.9h3.5M1282.3 1757.9h-3.5M790.1 1738.3h7M1282.3 1738.3h-7M790.1 1718.7h3.5M1282.3 1718.7h-3.5M790.1 1699.2h7M1282.3 1699.2h-7M790.1 1679.6h3.5M1282.3 1679.6h-3.5M790.1 1660h7M1282.3 1660h-7M790.1 1640.4h3.5M1282.3 1640.4h-3.5M790.1 1620.9h7M1282.3 1620.9h-7M790.1 1601.3h3.5M1282.3 1601.3h-3.5M790.1 1581.7h7M1282.3 1581.7h-7M790.1 1562.2h3.5M1282.3 1562.2h-3.5M790.1 1542.6h7M1282.3 1542.6h-7M790.1 1934v-7M790.1 1542.6v7M839.3 1934v-3.5M839.3 1542.6v3.5M888.5 1934v-7M888.5 1542.6v7M937.8 1934v-3.5M937.8 1542.6v3.5M987 1934v-7M987 1542.6v7M1036.2 1934v-3.5M1036.2 1542.6v3.5M1085.4 1934v-7M1085.4 1542.6v7M1134.6 1934v-3.5M1134.6 1542.6v3.5M1183.9 1934v-7M1183.9 1542.6v7M1233.1 1934v-3.5M1233.1 1542.6v3.5M1282.3 1934v-7M1282.3 1542.6v7" stroke="#353535" stroke-width="1.8" fill="none"/>
<rect x="790.1" y="1542.6" width="492.2" height="391.4" fill="none" stroke="#353535" stroke-width="2"/>
<text class="tk" text-anchor="end" transform="translate(781.1 1939.6)">0</text>
<text class="tk" text-anchor="end" transform="translate(781.1 1900.5)">10</text>
<text class="tk" text-anchor="end" transform="translate(781.1 1861.3)">20</text>
<text class="tk" text-anchor="end" transform="translate(781.1 1822.2)">30</text>
<text class="tk" text-anchor="end" transform="translate(781.1 1783)">40</text>
<text class="tk" text-anchor="end" transform="translate(781.1 1743.9)">50</text>
<text class="tk" text-anchor="end" transform="translate(781.1 1704.8)">60</text>
<text class="tk" text-anchor="end" transform="translate(781.1 1665.6)">70</text>
<text class="tk" text-anchor="end" transform="translate(781.1 1626.5)">80</text>
<text class="tk" text-anchor="end" transform="translate(781.1 1587.3)">90</text>
<text class="tk" text-anchor="end" transform="translate(781.1 1548.2)">100</text>
<text class="tk" text-anchor="middle" transform="translate(790.1 1955.6)">0</text>
<text class="tk" text-anchor="middle" transform="translate(888.5 1955.6)">100</text>
<text class="tk" text-anchor="middle" transform="translate(987 1955.6)">200</text>
<text class="tk" text-anchor="middle" transform="translate(1085.4 1955.6)">300</text>
<text class="tk" text-anchor="middle" transform="translate(1183.9 1955.6)">400</text>
<text class="tk" text-anchor="middle" transform="translate(1282.3 1955.6)">500</text>
<text class="ax" text-anchor="middle" transform="translate(744.5 1738.3) rotate(-90) scale(1.035 1)">Percentage (%)</text>
<text class="ax" text-anchor="middle" transform="translate(1036.2 1987.1) scale(1.045 1)">Time (min)</text>
<text class="run" transform="translate(1292.9 1933.9) scale(1.020 1)">Run 2</text>
<path d="M1044 1622.3V1861.5" stroke="#3d8271" stroke-width="2.8" stroke-dasharray="3 4" fill="none"/>
<path d="M1045 1556V1580.1" stroke="#4b9684" stroke-width="3.4" fill="none"/>
<path d="M1035.9 1577.6L1054.1 1577.6L1045 1594.1Z" fill="#4b9684"/>
<text class="mpa" text-anchor="middle" transform="translate(1048.9 1616.2)">1.3 MPa</text>
<path d="M790 1660.8l5.6 5.9l-5.6 5.9l-5.6 -5.9zM794.1 1668.1l5.6 5.9l-5.6 5.9l-5.6 -5.9zM799 1666.3l5.6 5.9l-5.6 5.9l-5.6 -5.9zM804 1661.7l5.6 5.9l-5.6 5.9l-5.6 -5.9zM809.4 1651.8l5.6 5.9l-5.6 5.9l-5.6 -5.9zM814.5 1665.3l5.6 5.9l-5.6 5.9l-5.6 -5.9zM819.4 1658.1l5.6 5.9l-5.6 5.9l-5.6 -5.9zM824.2 1661.7l5.6 5.9l-5.6 5.9l-5.6 -5.9zM828.9 1669.9l5.6 5.9l-5.6 5.9l-5.6 -5.9zM834.3 1666.3l5.6 5.9l-5.6 5.9l-5.6 -5.9zM840.1 1678l5.6 5.9l-5.6 5.9l-5.6 -5.9zM844.6 1672.6l5.6 5.9l-5.6 5.9l-5.6 -5.9zM849.1 1665.9l5.6 5.9l-5.6 5.9l-5.6 -5.9zM853.1 1646.4l5.6 5.9l-5.6 5.9l-5.6 -5.9zM857.2 1646.4l5.6 5.9l-5.6 5.9l-5.6 -5.9zM860.3 1677.1l5.6 5.9l-5.6 5.9l-5.6 -5.9zM865 1661.7l5.6 5.9l-5.6 5.9l-5.6 -5.9zM869.3 1670.8l5.6 5.9l-5.6 5.9l-5.6 -5.9zM873.5 1670.8l5.6 5.9l-5.6 5.9l-5.6 -5.9zM878 1669.5l5.6 5.9l-5.6 5.9l-5.6 -5.9zM881.2 1638.3l5.6 5.9l-5.6 5.9l-5.6 -5.9zM885.2 1646l5.6 5.9l-5.6 5.9l-5.6 -5.9zM889.2 1669.9l5.6 5.9l-5.6 5.9l-5.6 -5.9zM893.3 1659.9l5.6 5.9l-5.6 5.9l-5.6 -5.9zM898.7 1672l5.6 5.9l-5.6 5.9l-5.6 -5.9zM903.2 1673.1l5.6 5.9l-5.6 5.9l-5.6 -5.9zM906.5 1661.7l5.6 5.9l-5.6 5.9l-5.6 -5.9zM910.5 1654.5l5.6 5.9l-5.6 5.9l-5.6 -5.9zM915 1643.2l5.6 5.9l-5.6 5.9l-5.6 -5.9zM918.6 1673.5l5.6 5.9l-5.6 5.9l-5.6 -5.9zM923.1 1653.3l5.6 5.9l-5.6 5.9l-5.6 -5.9zM927.6 1684.3l5.6 5.9l-5.6 5.9l-5.6 -5.9zM931.2 1670.8l5.6 5.9l-5.6 5.9l-5.6 -5.9zM935.7 1670.8l5.6 5.9l-5.6 5.9l-5.6 -5.9zM939.3 1625.1l5.6 5.9l-5.6 5.9l-5.6 -5.9zM944.4 1641.9l5.6 5.9l-5.6 5.9l-5.6 -5.9zM949.2 1678l5.6 5.9l-5.6 5.9l-5.6 -5.9zM954.7 1676.2l5.6 5.9l-5.6 5.9l-5.6 -5.9zM958.8 1671.3l5.6 5.9l-5.6 5.9l-5.6 -5.9zM963.7 1678.9l5.6 5.9l-5.6 5.9l-5.6 -5.9zM968.2 1686.5l5.6 5.9l-5.6 5.9l-5.6 -5.9zM971.8 1665.9l5.6 5.9l-5.6 5.9l-5.6 -5.9zM975.8 1653.3l5.6 5.9l-5.6 5.9l-5.6 -5.9zM979.9 1670.8l5.6 5.9l-5.6 5.9l-5.6 -5.9zM984.1 1675.3l5.6 5.9l-5.6 5.9l-5.6 -5.9zM987.1 1661.7l5.6 5.9l-5.6 5.9l-5.6 -5.9zM990.7 1678l5.6 5.9l-5.6 5.9l-5.6 -5.9zM994.9 1665.3l5.6 5.9l-5.6 5.9l-5.6 -5.9zM999.7 1646.4l5.6 5.9l-5.6 5.9l-5.6 -5.9zM1003.4 1674.9l5.6 5.9l-5.6 5.9l-5.6 -5.9zM1009.3 1662.6l5.6 5.9l-5.6 5.9l-5.6 -5.9zM1013.6 1674.4l5.6 5.9l-5.6 5.9l-5.6 -5.9zM1019 1673.5l5.6 5.9l-5.6 5.9l-5.6 -5.9zM1023.2 1638.3l5.6 5.9l-5.6 5.9l-5.6 -5.9zM1028.6 1657.6l5.6 5.9l-5.6 5.9l-5.6 -5.9zM1032.8 1667.2l5.6 5.9l-5.6 5.9l-5.6 -5.9zM1038.3 1678l5.6 5.9l-5.6 5.9l-5.6 -5.9zM1044.4 1671.6l5.6 5.9l-5.6 5.9l-5.6 -5.9zM1050.6 1659.1l5.6 5.9l-5.6 5.9l-5.6 -5.9zM1054.8 1673l5.6 5.9l-5.6 5.9l-5.6 -5.9zM1058.5 1655.9l5.6 5.9l-5.6 5.9l-5.6 -5.9zM1062.7 1673.4l5.6 5.9l-5.6 5.9l-5.6 -5.9zM1066.4 1698.8l5.6 5.9l-5.6 5.9l-5.6 -5.9zM1070.1 1671.6l5.6 5.9l-5.6 5.9l-5.6 -5.9zM1074.5 1685.4l5.6 5.9l-5.6 5.9l-5.6 -5.9zM1078.2 1660.5l5.6 5.9l-5.6 5.9l-5.6 -5.9zM1082.4 1645.8l5.6 5.9l-5.6 5.9l-5.6 -5.9zM1085.2 1667.9l5.6 5.9l-5.6 5.9l-5.6 -5.9zM1089.2 1663.3l5.6 5.9l-5.6 5.9l-5.6 -5.9zM1093.5 1671.2l5.6 5.9l-5.6 5.9l-5.6 -5.9zM1097.2 1670.6l5.6 5.9l-5.6 5.9l-5.6 -5.9zM1100.8 1674.3l5.6 5.9l-5.6 5.9l-5.6 -5.9zM1105.4 1670.1l5.6 5.9l-5.6 5.9l-5.6 -5.9zM1108.7 1654.6l5.6 5.9l-5.6 5.9l-5.6 -5.9zM1113.7 1661.4l5.6 5.9l-5.6 5.9l-5.6 -5.9zM1122.9 1676.2l5.6 5.9l-5.6 5.9l-5.6 -5.9zM1127.1 1681.1l5.6 5.9l-5.6 5.9l-5.6 -5.9zM1131.2 1679.8l5.6 5.9l-5.6 5.9l-5.6 -5.9zM1135.8 1679.8l5.6 5.9l-5.6 5.9l-5.6 -5.9zM1139.5 1642.5l5.6 5.9l-5.6 5.9l-5.6 -5.9zM1143.7 1681.1l5.6 5.9l-5.6 5.9l-5.6 -5.9zM1146.8 1658.3l5.6 5.9l-5.6 5.9l-5.6 -5.9zM1151.4 1660.5l5.6 5.9l-5.6 5.9l-5.6 -5.9zM1155.1 1662l5.6 5.9l-5.6 5.9l-5.6 -5.9zM1159.2 1690.9l5.6 5.9l-5.6 5.9l-5.6 -5.9zM1162.8 1638.8l5.6 5.9l-5.6 5.9l-5.6 -5.9zM1166.5 1659.6l5.6 5.9l-5.6 5.9l-5.6 -5.9zM1170.7 1682.6l5.6 5.9l-5.6 5.9l-5.6 -5.9zM1174.4 1652.8l5.6 5.9l-5.6 5.9l-5.6 -5.9zM1178.7 1668.8l5.6 5.9l-5.6 5.9l-5.6 -5.9zM1182.7 1685.9l5.6 5.9l-5.6 5.9l-5.6 -5.9zM1187.9 1647.3l5.6 5.9l-5.6 5.9l-5.6 -5.9z" fill="#0567b0"/>
<circle cx="790" cy="1810.1" r="4.8" fill="#ec218e"/>
<circle cx="794.1" cy="1800.6" r="4.8" fill="#ec218e"/>
<circle cx="799" cy="1803.8" r="4.8" fill="#ec218e"/>
<circle cx="804.4" cy="1809.2" r="4.8" fill="#ec218e"/>
<circle cx="809.4" cy="1819.2" r="4.8" fill="#ec218e"/>
<circle cx="814.5" cy="1805.3" r="4.8" fill="#ec218e"/>
<circle cx="819.4" cy="1811" r="4.8" fill="#ec218e"/>
<circle cx="824.2" cy="1809.2" r="4.8" fill="#ec218e"/>
<circle cx="828.9" cy="1799.9" r="4.8" fill="#ec218e"/>
<circle cx="834.3" cy="1804.7" r="4.8" fill="#ec218e"/>
<circle cx="841" cy="1792.6" r="4.8" fill="#ec218e"/>
<circle cx="845.2" cy="1798.1" r="4.8" fill="#ec218e"/>
<circle cx="849.1" cy="1805.3" r="4.8" fill="#ec218e"/>
<circle cx="853.1" cy="1824.6" r="4.8" fill="#ec218e"/>
<circle cx="857.8" cy="1825.1" r="4.8" fill="#ec218e"/>
<circle cx="860.3" cy="1794.4" r="4.8" fill="#ec218e"/>
<circle cx="864.5" cy="1809.6" r="4.8" fill="#ec218e"/>
<circle cx="869.3" cy="1800.6" r="4.8" fill="#ec218e"/>
<circle cx="874" cy="1800.6" r="4.8" fill="#ec218e"/>
<circle cx="878.4" cy="1801.7" r="4.8" fill="#ec218e"/>
<circle cx="881.2" cy="1832.3" r="4.8" fill="#ec218e"/>
<circle cx="885.6" cy="1825.5" r="4.8" fill="#ec218e"/>
<circle cx="889.2" cy="1801.7" r="4.8" fill="#ec218e"/>
<circle cx="893.3" cy="1811" r="4.8" fill="#ec218e"/>
<circle cx="897.8" cy="1798.4" r="4.8" fill="#ec218e"/>
<circle cx="902.3" cy="1798.4" r="4.8" fill="#ec218e"/>
<circle cx="906.5" cy="1808.3" r="4.8" fill="#ec218e"/>
<circle cx="910.5" cy="1816.1" r="4.8" fill="#ec218e"/>
<circle cx="914.4" cy="1827.6" r="4.8" fill="#ec218e"/>
<circle cx="918.6" cy="1798.1" r="4.8" fill="#ec218e"/>
<circle cx="922.7" cy="1817.9" r="4.8" fill="#ec218e"/>
<circle cx="927.6" cy="1786.7" r="4.8" fill="#ec218e"/>
<circle cx="931.2" cy="1800.6" r="4.8" fill="#ec218e"/>
<circle cx="936.6" cy="1800.6" r="4.8" fill="#ec218e"/>
<circle cx="939.3" cy="1845.7" r="4.8" fill="#ec218e"/>
<circle cx="944.4" cy="1829.4" r="4.8" fill="#ec218e"/>
<circle cx="949.2" cy="1793.4" r="4.8" fill="#ec218e"/>
<circle cx="954.7" cy="1795.7" r="4.8" fill="#ec218e"/>
<circle cx="958.8" cy="1799.9" r="4.8" fill="#ec218e"/>
<circle cx="963.7" cy="1790.8" r="4.8" fill="#ec218e"/>
<circle cx="968.2" cy="1784.9" r="4.8" fill="#ec218e"/>
<circle cx="971.8" cy="1804.7" r="4.8" fill="#ec218e"/>
<circle cx="975.8" cy="1817.9" r="4.8" fill="#ec218e"/>
<circle cx="979.9" cy="1800.6" r="4.8" fill="#ec218e"/>
<circle cx="984.4" cy="1795.2" r="4.8" fill="#ec218e"/>
<circle cx="987.7" cy="1809.2" r="4.8" fill="#ec218e"/>
<circle cx="990.7" cy="1793.4" r="4.8" fill="#ec218e"/>
<circle cx="994.9" cy="1807.1" r="4.8" fill="#ec218e"/>
<circle cx="999.2" cy="1824.6" r="4.8" fill="#ec218e"/>
<circle cx="999.7" cy="1802.4" r="4.8" fill="#ec218e"/>
<circle cx="1003.4" cy="1796.2" r="4.8" fill="#ec218e"/>
<circle cx="1009.3" cy="1808.3" r="4.8" fill="#ec218e"/>
<circle cx="1013.6" cy="1797" r="4.8" fill="#ec218e"/>
<circle cx="1018.7" cy="1798.1" r="4.8" fill="#ec218e"/>
<circle cx="1023.2" cy="1832.7" r="4.8" fill="#ec218e"/>
<circle cx="1027.7" cy="1813.7" r="4.8" fill="#ec218e"/>
<circle cx="1032.8" cy="1804.7" r="4.8" fill="#ec218e"/>
<circle cx="1037.4" cy="1793.4" r="4.8" fill="#ec218e"/>
<circle cx="1044.7" cy="1799.8" r="4.8" fill="#ec218e"/>
<circle cx="1050.6" cy="1812.7" r="4.8" fill="#ec218e"/>
<circle cx="1054.3" cy="1798.9" r="4.8" fill="#ec218e"/>
<circle cx="1058.5" cy="1815.5" r="4.8" fill="#ec218e"/>
<circle cx="1063.1" cy="1798.9" r="4.8" fill="#ec218e"/>
<circle cx="1066.4" cy="1773.1" r="4.8" fill="#ec218e"/>
<circle cx="1070.8" cy="1799.8" r="4.8" fill="#ec218e"/>
<circle cx="1074.5" cy="1786.4" r="4.8" fill="#ec218e"/>
<circle cx="1078.2" cy="1810.9" r="4.8" fill="#ec218e"/>
<circle cx="1082.4" cy="1825.6" r="4.8" fill="#ec218e"/>
<circle cx="1086.1" cy="1802.6" r="4.8" fill="#ec218e"/>
<circle cx="1089.8" cy="1808.1" r="4.8" fill="#ec218e"/>
<circle cx="1093.5" cy="1798.5" r="4.8" fill="#ec218e"/>
<circle cx="1097.7" cy="1798.5" r="4.8" fill="#ec218e"/>
<circle cx="1101.8" cy="1796.7" r="4.8" fill="#ec218e"/>
<circle cx="1105.1" cy="1801.1" r="4.8" fill="#ec218e"/>
<circle cx="1108.7" cy="1816.9" r="4.8" fill="#ec218e"/>
<circle cx="1113.7" cy="1810.3" r="4.8" fill="#ec218e"/>
<circle cx="1123.5" cy="1795.2" r="4.8" fill="#ec218e"/>
<circle cx="1127.5" cy="1789.7" r="4.8" fill="#ec218e"/>
<circle cx="1132.1" cy="1792.5" r="4.8" fill="#ec218e"/>
<circle cx="1136.3" cy="1793" r="4.8" fill="#ec218e"/>
<circle cx="1143.1" cy="1790.6" r="4.8" fill="#ec218e"/>
<circle cx="1139.5" cy="1829.3" r="4.8" fill="#ec218e"/>
<circle cx="1146.8" cy="1813.6" r="4.8" fill="#ec218e"/>
<circle cx="1151.4" cy="1810.9" r="4.8" fill="#ec218e"/>
<circle cx="1156" cy="1810.9" r="4.8" fill="#ec218e"/>
<circle cx="1159.2" cy="1780.9" r="4.8" fill="#ec218e"/>
<circle cx="1162.8" cy="1832.4" r="4.8" fill="#ec218e"/>
<circle cx="1166.5" cy="1811.8" r="4.8" fill="#ec218e"/>
<circle cx="1170.7" cy="1788.8" r="4.8" fill="#ec218e"/>
<circle cx="1175" cy="1819.1" r="4.8" fill="#ec218e"/>
<circle cx="1178.7" cy="1802.6" r="4.8" fill="#ec218e"/>
<circle cx="1182.7" cy="1785.6" r="4.8" fill="#ec218e"/>
<circle cx="1187.9" cy="1824.7" r="4.8" fill="#ec218e"/>
<path d="M1137.3 1875.4l5.6 5.9l-5.6 5.9l-5.6 -5.9z" fill="#0567b0"/>
<circle cx="1137.3" cy="1907.8" r="4.8" fill="#ec218e"/>
<text class="lg" transform="translate(1162.6 1886.7) scale(1.060 1)">Mol% CH<tspan class="sb" dy="5.4">4</tspan></text>
<text class="lg" transform="translate(1162.6 1913.9) scale(1.060 1)">Mol% C<tspan class="sb" dy="5">3</tspan><tspan dy="-5">H</tspan><tspan class="sb" dy="5">8</tspan></text>
<path d="M79.7 2398.4H560.4M79.7 2358.8H560.4M79.7 2319.1H560.4M79.7 2279.5H560.4M79.7 2239.9H560.4M79.7 2200.3H560.4M79.7 2160.7H560.4M79.7 2121H560.4M79.7 2081.4H560.4" stroke="#9c9c9c" stroke-width="1.4" stroke-dasharray="4.8 4.58" fill="none"/>
<path d="M70.6 2438h7M562.4 2438h-7M70.6 2418.2h3.5M562.4 2418.2h-3.5M70.6 2398.4h7M562.4 2398.4h-7M70.6 2378.6h3.5M562.4 2378.6h-3.5M70.6 2358.8h7M562.4 2358.8h-7M70.6 2338.9h3.5M562.4 2338.9h-3.5M70.6 2319.1h7M562.4 2319.1h-7M70.6 2299.3h3.5M562.4 2299.3h-3.5M70.6 2279.5h7M562.4 2279.5h-7M70.6 2259.7h3.5M562.4 2259.7h-3.5M70.6 2239.9h7M562.4 2239.9h-7M70.6 2220.1h3.5M562.4 2220.1h-3.5M70.6 2200.3h7M562.4 2200.3h-7M70.6 2180.5h3.5M562.4 2180.5h-3.5M70.6 2160.7h7M562.4 2160.7h-7M70.6 2140.8h3.5M562.4 2140.8h-3.5M70.6 2121h7M562.4 2121h-7M70.6 2101.2h3.5M562.4 2101.2h-3.5M70.6 2081.4h7M562.4 2081.4h-7M70.6 2061.6h3.5M562.4 2061.6h-3.5M70.6 2041.8h7M562.4 2041.8h-7M70.6 2438v-7M70.6 2041.8v7M119.8 2438v-3.5M119.8 2041.8v3.5M169 2438v-7M169 2041.8v7M218.1 2438v-3.5M218.1 2041.8v3.5M267.3 2438v-7M267.3 2041.8v7M316.5 2438v-3.5M316.5 2041.8v3.5M365.7 2438v-7M365.7 2041.8v7M414.9 2438v-3.5M414.9 2041.8v3.5M464 2438v-7M464 2041.8v7M513.2 2438v-3.5M513.2 2041.8v3.5M562.4 2438v-7M562.4 2041.8v7" stroke="#353535" stroke-width="1.8" fill="none"/>
<rect x="70.6" y="2041.8" width="491.8" height="396.2" fill="none" stroke="#353535" stroke-width="2"/>
<text class="tk" text-anchor="end" transform="translate(61.6 2443.6)">0</text>
<text class="tk" text-anchor="end" transform="translate(61.6 2404)">10</text>
<text class="tk" text-anchor="end" transform="translate(61.6 2364.4)">20</text>
<text class="tk" text-anchor="end" transform="translate(61.6 2324.7)">30</text>
<text class="tk" text-anchor="end" transform="translate(61.6 2285.1)">40</text>
<text class="tk" text-anchor="end" transform="translate(61.6 2245.5)">50</text>
<text class="tk" text-anchor="end" transform="translate(61.6 2205.9)">60</text>
<text class="tk" text-anchor="end" transform="translate(61.6 2166.3)">70</text>
<text class="tk" text-anchor="end" transform="translate(61.6 2126.6)">80</text>
<text class="tk" text-anchor="end" transform="translate(61.6 2087)">90</text>
<text class="tk" text-anchor="end" transform="translate(61.6 2047.4)">100</text>
<text class="tk" text-anchor="middle" transform="translate(70.6 2459.6)">0</text>
<text class="tk" text-anchor="middle" transform="translate(169 2459.6)">100</text>
<text class="tk" text-anchor="middle" transform="translate(267.3 2459.6)">200</text>
<text class="tk" text-anchor="middle" transform="translate(365.7 2459.6)">300</text>
<text class="tk" text-anchor="middle" transform="translate(464 2459.6)">400</text>
<text class="tk" text-anchor="middle" transform="translate(562.4 2459.6)">500</text>
<text class="ax" text-anchor="middle" transform="translate(25 2239.9) rotate(-90) scale(1.035 1)">Percentage (%)</text>
<text class="ax" text-anchor="middle" transform="translate(316.5 2491.1) scale(1.045 1)">Time (min)</text>
<text class="run" transform="translate(572.8 2436.5) scale(1.020 1)">Run 1</text>
<path d="M370.7 2129.2V2368.6" stroke="#3d8271" stroke-width="2.8" stroke-dasharray="3 4" fill="none"/>
<path d="M371.3 2055.3V2080.1" stroke="#4b9684" stroke-width="3.4" fill="none"/>
<path d="M362.2 2077.6L380.4 2077.6L371.3 2094.1Z" fill="#4b9684"/>
<text class="mpa" text-anchor="middle" transform="translate(371 2117.2)">1.5 MPa</text>
<path d="M70.5 2145.9l5.6 5.9l-5.6 5.9l-5.6 -5.9zM75.4 2147.4l5.6 5.9l-5.6 5.9l-5.6 -5.9zM80.1 2141.6l5.6 5.9l-5.6 5.9l-5.6 -5.9zM85.5 2162.2l5.6 5.9l-5.6 5.9l-5.6 -5.9zM90.4 2166.9l5.6 5.9l-5.6 5.9l-5.6 -5.9zM95.2 2139.8l5.6 5.9l-5.6 5.9l-5.6 -5.9zM99.9 2155l5.6 5.9l-5.6 5.9l-5.6 -5.9zM104.8 2177.2l5.6 5.9l-5.6 5.9l-5.6 -5.9zM109.7 2173.5l5.6 5.9l-5.6 5.9l-5.6 -5.9zM114.7 2146.5l5.6 5.9l-5.6 5.9l-5.6 -5.9zM227.4 2167.2l5.6 5.9l-5.6 5.9l-5.6 -5.9zM231.9 2163.6l5.6 5.9l-5.6 5.9l-5.6 -5.9zM236.5 2161.5l5.6 5.9l-5.6 5.9l-5.6 -5.9zM240.6 2143.8l5.6 5.9l-5.6 5.9l-5.6 -5.9zM245.5 2179.9l5.6 5.9l-5.6 5.9l-5.6 -5.9zM250 2182l5.6 5.9l-5.6 5.9l-5.6 -5.9zM254.5 2174.1l5.6 5.9l-5.6 5.9l-5.6 -5.9zM258.6 2169.4l5.6 5.9l-5.6 5.9l-5.6 -5.9zM261.7 2171.7l5.6 5.9l-5.6 5.9l-5.6 -5.9zM265.3 2166.3l5.6 5.9l-5.6 5.9l-5.6 -5.9zM268.9 2138.7l5.6 5.9l-5.6 5.9l-5.6 -5.9zM272.5 2169.4l5.6 5.9l-5.6 5.9l-5.6 -5.9zM276.7 2172.3l5.6 5.9l-5.6 5.9l-5.6 -5.9zM280.3 2170.5l5.6 5.9l-5.6 5.9l-5.6 -5.9zM282.8 2192.1l5.6 5.9l-5.6 5.9l-5.6 -5.9zM286.4 2172.3l5.6 5.9l-5.6 5.9l-5.6 -5.9zM291.5 2178.1l5.6 5.9l-5.6 5.9l-5.6 -5.9zM301.4 2163.6l5.6 5.9l-5.6 5.9l-5.6 -5.9zM305.9 2166.3l5.6 5.9l-5.6 5.9l-5.6 -5.9zM311.3 2160.4l5.6 5.9l-5.6 5.9l-5.6 -5.9zM317.3 2180.2l5.6 5.9l-5.6 5.9l-5.6 -5.9zM321.6 2169.5l5.6 5.9l-5.6 5.9l-5.6 -5.9zM325.3 2147.5l5.6 5.9l-5.6 5.9l-5.6 -5.9zM329.6 2169.5l5.6 5.9l-5.6 5.9l-5.6 -5.9zM334.1 2186.4l5.6 5.9l-5.6 5.9l-5.6 -5.9zM339 2158.8l5.6 5.9l-5.6 5.9l-5.6 -5.9zM344.1 2167.6l5.6 5.9l-5.6 5.9l-5.6 -5.9zM349.1 2168.5l5.6 5.9l-5.6 5.9l-5.6 -5.9zM354 2172.3l5.6 5.9l-5.6 5.9l-5.6 -5.9zM358.5 2157.7l5.6 5.9l-5.6 5.9l-5.6 -5.9zM363.8 2171.4l5.6 5.9l-5.6 5.9l-5.6 -5.9zM367.9 2177l5.6 5.9l-5.6 5.9l-5.6 -5.9zM372.2 2169.5l5.6 5.9l-5.6 5.9l-5.6 -5.9zM376 2168.5l5.6 5.9l-5.6 5.9l-5.6 -5.9zM380.7 2166.7l5.6 5.9l-5.6 5.9l-5.6 -5.9zM384.4 2177l5.6 5.9l-5.6 5.9l-5.6 -5.9zM389.1 2185.4l5.6 5.9l-5.6 5.9l-5.6 -5.9zM397.5 2178.9l5.6 5.9l-5.6 5.9l-5.6 -5.9zM402.8 2175.7l5.6 5.9l-5.6 5.9l-5.6 -5.9zM408.4 2174.5l5.6 5.9l-5.6 5.9l-5.6 -5.9zM413.5 2190.1l5.6 5.9l-5.6 5.9l-5.6 -5.9zM423.4 2180.7l5.6 5.9l-5.6 5.9l-5.6 -5.9zM432.8 2204.2l5.6 5.9l-5.6 5.9l-5.6 -5.9zM438.4 2146.4l5.6 5.9l-5.6 5.9l-5.6 -5.9zM444.4 2192l5.6 5.9l-5.6 5.9l-5.6 -5.9zM453.8 2153.9l5.6 5.9l-5.6 5.9l-5.6 -5.9zM459.1 2175.7l5.6 5.9l-5.6 5.9l-5.6 -5.9zM468.5 2170.4l5.6 5.9l-5.6 5.9l-5.6 -5.9zM476.7 2168.5l5.6 5.9l-5.6 5.9l-5.6 -5.9zM481 2160.1l5.6 5.9l-5.6 5.9l-5.6 -5.9zM488 2176l5.6 5.9l-5.6 5.9l-5.6 -5.9zM496 2168.5l5.6 5.9l-5.6 5.9l-5.6 -5.9zM500.3 2165.7l5.6 5.9l-5.6 5.9l-5.6 -5.9zM504.1 2159.2l5.6 5.9l-5.6 5.9l-5.6 -5.9zM508.2 2154.5l5.6 5.9l-5.6 5.9l-5.6 -5.9zM519.9 2167l5.6 5.9l-5.6 5.9l-5.6 -5.9zM523.2 2153.2l5.6 5.9l-5.6 5.9l-5.6 -5.9z" fill="#0567b0"/>
<circle cx="70.5" cy="2328.6" r="4.8" fill="#ec218e"/>
<circle cx="75.4" cy="2325.5" r="4.8" fill="#ec218e"/>
<circle cx="80.1" cy="2333.3" r="4.8" fill="#ec218e"/>
<circle cx="85.5" cy="2312" r="4.8" fill="#ec218e"/>
<circle cx="90.4" cy="2307.5" r="4.8" fill="#ec218e"/>
<circle cx="94.9" cy="2334.6" r="4.8" fill="#ec218e"/>
<circle cx="99.9" cy="2319.6" r="4.8" fill="#ec218e"/>
<circle cx="104.8" cy="2297.2" r="4.8" fill="#ec218e"/>
<circle cx="109.7" cy="2300.8" r="4.8" fill="#ec218e"/>
<circle cx="114.3" cy="2328.3" r="4.8" fill="#ec218e"/>
<circle cx="227.4" cy="2307" r="4.8" fill="#ec218e"/>
<circle cx="231.6" cy="2309.9" r="4.8" fill="#ec218e"/>
<circle cx="235.6" cy="2312.9" r="4.8" fill="#ec218e"/>
<circle cx="240.1" cy="2330.4" r="4.8" fill="#ec218e"/>
<circle cx="245.5" cy="2294.3" r="4.8" fill="#ec218e"/>
<circle cx="250.3" cy="2291.8" r="4.8" fill="#ec218e"/>
<circle cx="254.5" cy="2299" r="4.8" fill="#ec218e"/>
<circle cx="258.1" cy="2305.2" r="4.8" fill="#ec218e"/>
<circle cx="261.7" cy="2302.6" r="4.8" fill="#ec218e"/>
<circle cx="265.3" cy="2308.1" r="4.8" fill="#ec218e"/>
<circle cx="268.9" cy="2335.5" r="4.8" fill="#ec218e"/>
<circle cx="272.5" cy="2305.2" r="4.8" fill="#ec218e"/>
<circle cx="276.1" cy="2302.6" r="4.8" fill="#ec218e"/>
<circle cx="279.7" cy="2303.9" r="4.8" fill="#ec218e"/>
<circle cx="282.8" cy="2282.8" r="4.8" fill="#ec218e"/>
<circle cx="286.4" cy="2303.9" r="4.8" fill="#ec218e"/>
<circle cx="291.5" cy="2296.7" r="4.8" fill="#ec218e"/>
<circle cx="301.4" cy="2310.6" r="4.8" fill="#ec218e"/>
<circle cx="305.9" cy="2306.6" r="4.8" fill="#ec218e"/>
<circle cx="312.2" cy="2313.5" r="4.8" fill="#ec218e"/>
<circle cx="317.3" cy="2294.5" r="4.8" fill="#ec218e"/>
<circle cx="321" cy="2304.8" r="4.8" fill="#ec218e"/>
<circle cx="325.3" cy="2326.4" r="4.8" fill="#ec218e"/>
<circle cx="329.6" cy="2304.8" r="4.8" fill="#ec218e"/>
<circle cx="334.1" cy="2288.5" r="4.8" fill="#ec218e"/>
<circle cx="339" cy="2315.1" r="4.8" fill="#ec218e"/>
<circle cx="343.5" cy="2306.7" r="4.8" fill="#ec218e"/>
<circle cx="348.4" cy="2305.8" r="4.8" fill="#ec218e"/>
<circle cx="353.5" cy="2302.4" r="4.8" fill="#ec218e"/>
<circle cx="358.5" cy="2316.6" r="4.8" fill="#ec218e"/>
<circle cx="363.4" cy="2302.4" r="4.8" fill="#ec218e"/>
<circle cx="367.9" cy="2297.3" r="4.8" fill="#ec218e"/>
<circle cx="374.1" cy="2303.9" r="4.8" fill="#ec218e"/>
<circle cx="379.2" cy="2307.6" r="4.8" fill="#ec218e"/>
<circle cx="384" cy="2297.3" r="4.8" fill="#ec218e"/>
<circle cx="389.1" cy="2289.2" r="4.8" fill="#ec218e"/>
<circle cx="397.9" cy="2295.4" r="4.8" fill="#ec218e"/>
<circle cx="402.8" cy="2300.5" r="4.8" fill="#ec218e"/>
<circle cx="409.2" cy="2299.7" r="4.8" fill="#ec218e"/>
<circle cx="413.5" cy="2284.2" r="4.8" fill="#ec218e"/>
<circle cx="423.4" cy="2293.6" r="4.8" fill="#ec218e"/>
<circle cx="433.2" cy="2270.5" r="4.8" fill="#ec218e"/>
<circle cx="437.9" cy="2327.9" r="4.8" fill="#ec218e"/>
<circle cx="444.1" cy="2282.3" r="4.8" fill="#ec218e"/>
<circle cx="453.8" cy="2320.8" r="4.8" fill="#ec218e"/>
<circle cx="458.5" cy="2298.6" r="4.8" fill="#ec218e"/>
<circle cx="467.9" cy="2304.8" r="4.8" fill="#ec218e"/>
<circle cx="476.7" cy="2305.4" r="4.8" fill="#ec218e"/>
<circle cx="481" cy="2314.2" r="4.8" fill="#ec218e"/>
<circle cx="488" cy="2298.2" r="4.8" fill="#ec218e"/>
<circle cx="496" cy="2305.8" r="4.8" fill="#ec218e"/>
<circle cx="500.3" cy="2307.6" r="4.8" fill="#ec218e"/>
<circle cx="504.5" cy="2312.3" r="4.8" fill="#ec218e"/>
<circle cx="507.8" cy="2319.3" r="4.8" fill="#ec218e"/>
<circle cx="519.9" cy="2308" r="4.8" fill="#ec218e"/>
<circle cx="522.9" cy="2320.8" r="4.8" fill="#ec218e"/>
<path d="M429.4 2376.7l5.6 5.9l-5.6 5.9l-5.6 -5.9z" fill="#0567b0"/>
<circle cx="429.4" cy="2409.1" r="4.8" fill="#ec218e"/>
<text class="lg" transform="translate(454.7 2388) scale(1.060 1)">Mol% CH<tspan class="sb" dy="5.4">4</tspan></text>
<text class="lg" transform="translate(454.7 2415.2) scale(1.060 1)">Mol% C<tspan class="sb" dy="5">3</tspan><tspan dy="-5">H</tspan><tspan class="sb" dy="5">8</tspan></text>
<text class="tt" transform="translate(2.7 2022.7) scale(1.190 1)">(e)</text>
<text class="tt" transform="translate(54.3 2022.7) scale(1.190 1)">Sediment</text>
<text class="tt" transform="translate(209.5 2022.7) scale(1.190 1)">5</text>
<path d="M797.5 2399.2H1279.1M797.5 2359.5H1279.1M797.5 2319.9H1279.1M797.5 2280.2H1279.1M797.5 2240.5H1279.1M797.5 2200.8H1279.1M797.5 2161.1H1279.1M797.5 2121.5H1279.1M797.5 2081.8H1279.1" stroke="#9c9c9c" stroke-width="1.4" stroke-dasharray="4.8 4.58" fill="none"/>
<path d="M788.4 2438.9h7M1281.1 2438.9h-7M788.4 2419.1h3.5M1281.1 2419.1h-3.5M788.4 2399.2h7M1281.1 2399.2h-7M788.4 2379.4h3.5M1281.1 2379.4h-3.5M788.4 2359.5h7M1281.1 2359.5h-7M788.4 2339.7h3.5M1281.1 2339.7h-3.5M788.4 2319.9h7M1281.1 2319.9h-7M788.4 2300h3.5M1281.1 2300h-3.5M788.4 2280.2h7M1281.1 2280.2h-7M788.4 2260.3h3.5M1281.1 2260.3h-3.5M788.4 2240.5h7M1281.1 2240.5h-7M788.4 2220.7h3.5M1281.1 2220.7h-3.5M788.4 2200.8h7M1281.1 2200.8h-7M788.4 2181h3.5M1281.1 2181h-3.5M788.4 2161.1h7M1281.1 2161.1h-7M788.4 2141.3h3.5M1281.1 2141.3h-3.5M788.4 2121.5h7M1281.1 2121.5h-7M788.4 2101.6h3.5M1281.1 2101.6h-3.5M788.4 2081.8h7M1281.1 2081.8h-7M788.4 2061.9h3.5M1281.1 2061.9h-3.5M788.4 2042.1h7M1281.1 2042.1h-7M788.4 2438.9v-7M788.4 2042.1v7M837.7 2438.9v-3.5M837.7 2042.1v3.5M886.9 2438.9v-7M886.9 2042.1v7M936.2 2438.9v-3.5M936.2 2042.1v3.5M985.5 2438.9v-7M985.5 2042.1v7M1034.8 2438.9v-3.5M1034.8 2042.1v3.5M1084 2438.9v-7M1084 2042.1v7M1133.3 2438.9v-3.5M1133.3 2042.1v3.5M1182.6 2438.9v-7M1182.6 2042.1v7M1231.8 2438.9v-3.5M1231.8 2042.1v3.5M1281.1 2438.9v-7M1281.1 2042.1v7" stroke="#353535" stroke-width="1.8" fill="none"/>
<rect x="788.4" y="2042.1" width="492.7" height="396.8" fill="none" stroke="#353535" stroke-width="2"/>
<text class="tk" text-anchor="end" transform="translate(779.4 2444.5)">0</text>
<text class="tk" text-anchor="end" transform="translate(779.4 2404.8)">10</text>
<text class="tk" text-anchor="end" transform="translate(779.4 2365.1)">20</text>
<text class="tk" text-anchor="end" transform="translate(779.4 2325.5)">30</text>
<text class="tk" text-anchor="end" transform="translate(779.4 2285.8)">40</text>
<text class="tk" text-anchor="end" transform="translate(779.4 2246.1)">50</text>
<text class="tk" text-anchor="end" transform="translate(779.4 2206.4)">60</text>
<text class="tk" text-anchor="end" transform="translate(779.4 2166.7)">70</text>
<text class="tk" text-anchor="end" transform="translate(779.4 2127.1)">80</text>
<text class="tk" text-anchor="end" transform="translate(779.4 2087.4)">90</text>
<text class="tk" text-anchor="end" transform="translate(779.4 2047.7)">100</text>
<text class="tk" text-anchor="middle" transform="translate(788.4 2460.5)">0</text>
<text class="tk" text-anchor="middle" transform="translate(886.9 2460.5)">100</text>
<text class="tk" text-anchor="middle" transform="translate(985.5 2460.5)">200</text>
<text class="tk" text-anchor="middle" transform="translate(1084 2460.5)">300</text>
<text class="tk" text-anchor="middle" transform="translate(1182.6 2460.5)">400</text>
<text class="tk" text-anchor="middle" transform="translate(1281.1 2460.5)">500</text>
<text class="ax" text-anchor="middle" transform="translate(742.8 2240.5) rotate(-90) scale(1.035 1)">Percentage (%)</text>
<text class="ax" text-anchor="middle" transform="translate(1034.8 2492) scale(1.045 1)">Time (min)</text>
<text class="run" transform="translate(1295.3 2436.3) scale(1.020 1)">Run 2</text>
<path d="M1026.9 2135.8V2374.3" stroke="#3d8271" stroke-width="2.8" stroke-dasharray="3 4" fill="none"/>
<path d="M1026.9 2058.8V2083.4" stroke="#4b9684" stroke-width="3.4" fill="none"/>
<path d="M1017.8 2080.9L1036 2080.9L1026.9 2097.4Z" fill="#4b9684"/>
<text class="mpa" text-anchor="middle" transform="translate(1030.1 2119)">1.4 MPa</text>
<path d="M788.4 2159.2l5.6 5.9l-5.6 5.9l-5.6 -5.9zM792.9 2158.8l5.6 5.9l-5.6 5.9l-5.6 -5.9zM797.1 2145.7l5.6 5.9l-5.6 5.9l-5.6 -5.9zM802.5 2149.3l5.6 5.9l-5.6 5.9l-5.6 -5.9zM807.4 2146.6l5.6 5.9l-5.6 5.9l-5.6 -5.9zM816.9 2146.2l5.6 5.9l-5.6 5.9l-5.6 -5.9zM821.8 2167.9l5.6 5.9l-5.6 5.9l-5.6 -5.9zM826.3 2160.1l5.6 5.9l-5.6 5.9l-5.6 -5.9zM831.3 2157.4l5.6 5.9l-5.6 5.9l-5.6 -5.9zM835.7 2159.2l5.6 5.9l-5.6 5.9l-5.6 -5.9zM840.4 2163.7l5.6 5.9l-5.6 5.9l-5.6 -5.9zM845.2 2154.7l5.6 5.9l-5.6 5.9l-5.6 -5.9zM849.4 2157.4l5.6 5.9l-5.6 5.9l-5.6 -5.9zM853.3 2161.4l5.6 5.9l-5.6 5.9l-5.6 -5.9zM857 2152l5.6 5.9l-5.6 5.9l-5.6 -5.9zM861.5 2161l5.6 5.9l-5.6 5.9l-5.6 -5.9zM866 2158.3l5.6 5.9l-5.6 5.9l-5.6 -5.9zM870.5 2174.5l5.6 5.9l-5.6 5.9l-5.6 -5.9zM874.6 2149.8l5.6 5.9l-5.6 5.9l-5.6 -5.9zM878.6 2144.4l5.6 5.9l-5.6 5.9l-5.6 -5.9zM883.1 2161.4l5.6 5.9l-5.6 5.9l-5.6 -5.9zM887.6 2157l5.6 5.9l-5.6 5.9l-5.6 -5.9zM891.2 2155.2l5.6 5.9l-5.6 5.9l-5.6 -5.9zM896.3 2161.4l5.6 5.9l-5.6 5.9l-5.6 -5.9zM901.1 2165.5l5.6 5.9l-5.6 5.9l-5.6 -5.9zM905.7 2157.4l5.6 5.9l-5.6 5.9l-5.6 -5.9zM910.7 2151.6l5.6 5.9l-5.6 5.9l-5.6 -5.9zM915.6 2163.7l5.6 5.9l-5.6 5.9l-5.6 -5.9zM920.4 2149.8l5.6 5.9l-5.6 5.9l-5.6 -5.9zM925.9 2157l5.6 5.9l-5.6 5.9l-5.6 -5.9zM941.4 2153.8l5.6 5.9l-5.6 5.9l-5.6 -5.9zM945.3 2163.7l5.6 5.9l-5.6 5.9l-5.6 -5.9zM952.6 2148.4l5.6 5.9l-5.6 5.9l-5.6 -5.9zM957.1 2170.4l5.6 5.9l-5.6 5.9l-5.6 -5.9zM961.6 2165.5l5.6 5.9l-5.6 5.9l-5.6 -5.9zM965.5 2163.2l5.6 5.9l-5.6 5.9l-5.6 -5.9zM972.4 2170.9l5.6 5.9l-5.6 5.9l-5.6 -5.9zM976.9 2151.6l5.6 5.9l-5.6 5.9l-5.6 -5.9zM981.1 2163.2l5.6 5.9l-5.6 5.9l-5.6 -5.9zM985.4 2167.3l5.6 5.9l-5.6 5.9l-5.6 -5.9zM989 2156.5l5.6 5.9l-5.6 5.9l-5.6 -5.9zM993.1 2167.9l5.6 5.9l-5.6 5.9l-5.6 -5.9zM997.3 2168.2l5.6 5.9l-5.6 5.9l-5.6 -5.9zM1001.6 2172.7l5.6 5.9l-5.6 5.9l-5.6 -5.9zM1006.7 2161.4l5.6 5.9l-5.6 5.9l-5.6 -5.9zM1011.7 2164.2l5.6 5.9l-5.6 5.9l-5.6 -5.9zM1017.1 2167.3l5.6 5.9l-5.6 5.9l-5.6 -5.9zM1022 2161.4l5.6 5.9l-5.6 5.9l-5.6 -5.9zM1026.1 2152.9l5.6 5.9l-5.6 5.9l-5.6 -5.9zM1028.7 2183.5l5.6 5.9l-5.6 5.9l-5.6 -5.9zM1033.4 2182.2l5.6 5.9l-5.6 5.9l-5.6 -5.9zM1038.5 2180.8l5.6 5.9l-5.6 5.9l-5.6 -5.9zM1040.7 2158.3l5.6 5.9l-5.6 5.9l-5.6 -5.9zM1044.8 2159.6l5.6 5.9l-5.6 5.9l-5.6 -5.9zM1049 2157.8l5.6 5.9l-5.6 5.9l-5.6 -5.9zM1053.2 2154.1l5.6 5.9l-5.6 5.9l-5.6 -5.9zM1059.1 2170.6l5.6 5.9l-5.6 5.9l-5.6 -5.9zM1062.8 2151l5.6 5.9l-5.6 5.9l-5.6 -5.9zM1066.8 2135.1l5.6 5.9l-5.6 5.9l-5.6 -5.9zM1070.2 2147.6l5.6 5.9l-5.6 5.9l-5.6 -5.9zM1074.8 2153.2l5.6 5.9l-5.6 5.9l-5.6 -5.9zM1079 2143.1l5.6 5.9l-5.6 5.9l-5.6 -5.9zM1083.4 2159.1l5.6 5.9l-5.6 5.9l-5.6 -5.9zM1088.5 2169.4l5.6 5.9l-5.6 5.9l-5.6 -5.9zM1091.9 2157.8l5.6 5.9l-5.6 5.9l-5.6 -5.9zM1095.5 2143.6l5.6 5.9l-5.6 5.9l-5.6 -5.9zM1099.2 2145.4l5.6 5.9l-5.6 5.9l-5.6 -5.9zM1103.3 2146.7l5.6 5.9l-5.6 5.9l-5.6 -5.9zM1108.4 2169.4l5.6 5.9l-5.6 5.9l-5.6 -5.9zM1113.4 2127.4l5.6 5.9l-5.6 5.9l-5.6 -5.9zM1118.4 2152.2l5.6 5.9l-5.6 5.9l-5.6 -5.9zM1122 2149.1l5.6 5.9l-5.6 5.9l-5.6 -5.9zM1129 2164.2l5.6 5.9l-5.6 5.9l-5.6 -5.9zM1133.6 2159.6l5.6 5.9l-5.6 5.9l-5.6 -5.9zM1138.2 2156.5l5.6 5.9l-5.6 5.9l-5.6 -5.9zM1143.7 2131.1l5.6 5.9l-5.6 5.9l-5.6 -5.9zM1149.3 2151.7l5.6 5.9l-5.6 5.9l-5.6 -5.9zM1154.4 2148.6l5.6 5.9l-5.6 5.9l-5.6 -5.9zM1158.5 2173l5.6 5.9l-5.6 5.9l-5.6 -5.9zM1168.6 2181.1l5.6 5.9l-5.6 5.9l-5.6 -5.9z" fill="#0567b0"/>
<circle cx="788.4" cy="2316.2" r="4.8" fill="#ec218e"/>
<circle cx="792.9" cy="2316.6" r="4.8" fill="#ec218e"/>
<circle cx="797.4" cy="2329.6" r="4.8" fill="#ec218e"/>
<circle cx="802.5" cy="2325.6" r="4.8" fill="#ec218e"/>
<circle cx="807.4" cy="2329.2" r="4.8" fill="#ec218e"/>
<circle cx="816.9" cy="2329.2" r="4.8" fill="#ec218e"/>
<circle cx="821.8" cy="2307.2" r="4.8" fill="#ec218e"/>
<circle cx="826.7" cy="2315.2" r="4.8" fill="#ec218e"/>
<circle cx="831.3" cy="2317" r="4.8" fill="#ec218e"/>
<circle cx="836.2" cy="2313.4" r="4.8" fill="#ec218e"/>
<circle cx="840.7" cy="2310.8" r="4.8" fill="#ec218e"/>
<circle cx="845.2" cy="2319.3" r="4.8" fill="#ec218e"/>
<circle cx="849.7" cy="2315.7" r="4.8" fill="#ec218e"/>
<circle cx="856.1" cy="2323.5" r="4.8" fill="#ec218e"/>
<circle cx="860.6" cy="2311.2" r="4.8" fill="#ec218e"/>
<circle cx="866.3" cy="2317.5" r="4.8" fill="#ec218e"/>
<circle cx="870.5" cy="2300.7" r="4.8" fill="#ec218e"/>
<circle cx="874.6" cy="2327.1" r="4.8" fill="#ec218e"/>
<circle cx="878.6" cy="2330.7" r="4.8" fill="#ec218e"/>
<circle cx="882.2" cy="2313" r="4.8" fill="#ec218e"/>
<circle cx="886.7" cy="2315.7" r="4.8" fill="#ec218e"/>
<circle cx="890.9" cy="2319.3" r="4.8" fill="#ec218e"/>
<circle cx="895.7" cy="2314.4" r="4.8" fill="#ec218e"/>
<circle cx="900.2" cy="2309.8" r="4.8" fill="#ec218e"/>
<circle cx="905.7" cy="2316.2" r="4.8" fill="#ec218e"/>
<circle cx="910.7" cy="2323.5" r="4.8" fill="#ec218e"/>
<circle cx="916.1" cy="2311.2" r="4.8" fill="#ec218e"/>
<circle cx="921" cy="2324.7" r="4.8" fill="#ec218e"/>
<circle cx="925.9" cy="2317.5" r="4.8" fill="#ec218e"/>
<circle cx="940.8" cy="2321.7" r="4.8" fill="#ec218e"/>
<circle cx="945.3" cy="2310.8" r="4.8" fill="#ec218e"/>
<circle cx="949.8" cy="2322" r="4.8" fill="#ec218e"/>
<circle cx="954" cy="2327.4" r="4.8" fill="#ec218e"/>
<circle cx="957.1" cy="2304" r="4.8" fill="#ec218e"/>
<circle cx="961.6" cy="2309" r="4.8" fill="#ec218e"/>
<circle cx="966.1" cy="2310.3" r="4.8" fill="#ec218e"/>
<circle cx="970.6" cy="2307.6" r="4.8" fill="#ec218e"/>
<circle cx="974.2" cy="2305.4" r="4.8" fill="#ec218e"/>
<circle cx="976.9" cy="2323.8" r="4.8" fill="#ec218e"/>
<circle cx="981.4" cy="2310.8" r="4.8" fill="#ec218e"/>
<circle cx="985" cy="2306.7" r="4.8" fill="#ec218e"/>
<circle cx="989" cy="2318.8" r="4.8" fill="#ec218e"/>
<circle cx="992.6" cy="2305.4" r="4.8" fill="#ec218e"/>
<circle cx="998" cy="2305.8" r="4.8" fill="#ec218e"/>
<circle cx="1002.2" cy="2302.5" r="4.8" fill="#ec218e"/>
<circle cx="1006.3" cy="2313.9" r="4.8" fill="#ec218e"/>
<circle cx="1010.6" cy="2312.1" r="4.8" fill="#ec218e"/>
<circle cx="1015.3" cy="2307.6" r="4.8" fill="#ec218e"/>
<circle cx="1019.3" cy="2307.6" r="4.8" fill="#ec218e"/>
<circle cx="1025.6" cy="2321.7" r="4.8" fill="#ec218e"/>
<circle cx="1030.1" cy="2291.4" r="4.8" fill="#ec218e"/>
<circle cx="1033.4" cy="2292.5" r="4.8" fill="#ec218e"/>
<circle cx="1038" cy="2294.3" r="4.8" fill="#ec218e"/>
<circle cx="1040.7" cy="2316.9" r="4.8" fill="#ec218e"/>
<circle cx="1045.3" cy="2315.8" r="4.8" fill="#ec218e"/>
<circle cx="1049.9" cy="2316.9" r="4.8" fill="#ec218e"/>
<circle cx="1055.1" cy="2321.9" r="4.8" fill="#ec218e"/>
<circle cx="1059.1" cy="2304.8" r="4.8" fill="#ec218e"/>
<circle cx="1062.8" cy="2324.3" r="4.8" fill="#ec218e"/>
<circle cx="1066.8" cy="2339" r="4.8" fill="#ec218e"/>
<circle cx="1071.1" cy="2325.6" r="4.8" fill="#ec218e"/>
<circle cx="1074.8" cy="2321.3" r="4.8" fill="#ec218e"/>
<circle cx="1079" cy="2332" r="4.8" fill="#ec218e"/>
<circle cx="1084" cy="2314.5" r="4.8" fill="#ec218e"/>
<circle cx="1088.5" cy="2305.9" r="4.8" fill="#ec218e"/>
<circle cx="1092.2" cy="2316.9" r="4.8" fill="#ec218e"/>
<circle cx="1096.3" cy="2331.1" r="4.8" fill="#ec218e"/>
<circle cx="1100.5" cy="2328" r="4.8" fill="#ec218e"/>
<circle cx="1105.1" cy="2327.4" r="4.8" fill="#ec218e"/>
<circle cx="1108.4" cy="2305.9" r="4.8" fill="#ec218e"/>
<circle cx="1113.4" cy="2347.1" r="4.8" fill="#ec218e"/>
<circle cx="1117.6" cy="2321.9" r="4.8" fill="#ec218e"/>
<circle cx="1121.3" cy="2326.1" r="4.8" fill="#ec218e"/>
<circle cx="1129" cy="2310.9" r="4.8" fill="#ec218e"/>
<circle cx="1133.1" cy="2314" r="4.8" fill="#ec218e"/>
<circle cx="1137.3" cy="2317.3" r="4.8" fill="#ec218e"/>
<circle cx="1143.7" cy="2344" r="4.8" fill="#ec218e"/>
<circle cx="1148.9" cy="2322.8" r="4.8" fill="#ec218e"/>
<circle cx="1153.9" cy="2327.4" r="4.8" fill="#ec218e"/>
<circle cx="1158.5" cy="2302.2" r="4.8" fill="#ec218e"/>
<circle cx="1168.6" cy="2294.3" r="4.8" fill="#ec218e"/>
<path d="M1163.1 2230.6l5.6 5.9l-5.6 5.9l-5.6 -5.9z" fill="#0567b0"/>
<circle cx="1163.1" cy="2243" r="4.8" fill="#ec218e"/>
<circle cx="1163.1" cy="2239.5" r="9.3" fill="none" stroke="#e5232b" stroke-width="2" stroke-dasharray="2 2.2"/>
<path d="M821.6 2380.5l5.6 5.9l-5.6 5.9l-5.6 -5.9z" fill="#0567b0"/>
<circle cx="821.6" cy="2412.9" r="4.8" fill="#ec218e"/>
<text class="lg" transform="translate(846.9 2391.8) scale(1.060 1)">Mol% CH<tspan class="sb" dy="5.4">4</tspan></text>
<text class="lg" transform="translate(846.9 2419) scale(1.060 1)">Mol% C<tspan class="sb" dy="5">3</tspan><tspan dy="-5">H</tspan><tspan class="sb" dy="5">8</tspan></text>
</svg></body></html>
